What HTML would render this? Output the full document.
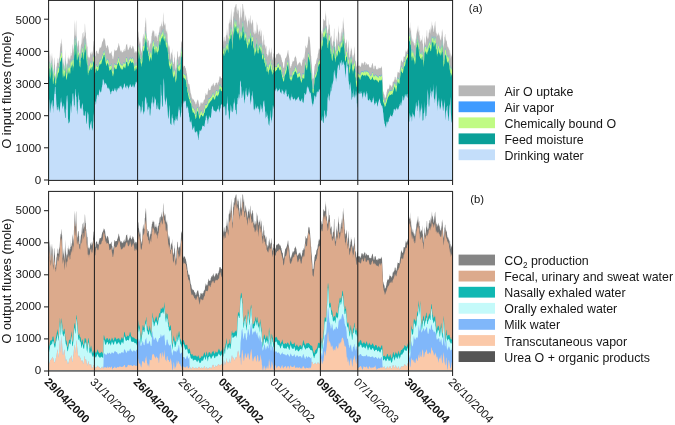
<!DOCTYPE html>
<html><head><meta charset="utf-8"><title>O fluxes</title>
<style>
html,body{margin:0;padding:0;background:#fff;}
body{width:675px;height:425px;overflow:hidden;font-family:"Liberation Sans",sans-serif;}
svg{display:block;font-family:"Liberation Sans",sans-serif;will-change:transform;}
svg text{fill:#151515;}
.ln line{stroke:#1a1a1a;stroke-width:1.0;}
</style></head><body>
<svg width="675" height="425" viewBox="0 0 675 425">
<rect width="675" height="425" fill="#ffffff"/>
<g shape-rendering="auto">
<polygon fill="#b7b7b7" points="48.6,67.0 48.8,65.6 49.1,65.8 49.3,56.8 49.6,52.2 49.8,49.2 50.1,54.5 50.3,56.7 50.6,68.7 50.8,70.6 51.1,68.6 51.3,64.1 51.6,56.6 51.8,55.5 52.0,52.3 52.3,59.2 52.5,57.0 52.8,70.2 53.0,73.8 53.3,75.2 53.5,71.3 53.8,66.0 54.0,57.0 54.3,58.5 54.5,61.3 54.8,64.4 55.0,65.3 55.2,73.6 55.5,74.5 55.7,77.7 56.0,75.7 56.2,71.9 56.5,65.8 56.7,67.2 57.0,62.7 57.2,62.8 57.5,63.0 57.7,57.5 58.0,58.9 58.2,58.8 58.4,62.7 58.7,63.7 58.9,61.7 59.2,56.5 59.4,58.9 59.7,55.4 59.9,51.8 60.2,46.6 60.4,42.9 60.7,43.6 60.9,47.5 61.1,45.7 61.4,40.2 61.6,37.9 61.9,43.8 62.1,44.2 62.4,58.4 62.6,63.6 62.9,67.8 63.1,64.8 63.4,57.4 63.6,62.2 63.9,64.4 64.1,55.9 64.3,64.9 64.6,68.2 64.8,70.2 65.1,61.3 65.3,58.1 65.6,48.7 65.8,59.6 66.1,66.0 66.3,68.8 66.6,60.9 66.8,64.8 67.1,63.2 67.3,64.1 67.5,66.0 67.8,57.5 68.0,57.6 68.3,59.9 68.5,54.2 68.8,59.9 69.0,56.8 69.3,58.7 69.5,58.5 69.8,61.5 70.0,58.9 70.3,58.2 70.5,47.9 70.7,56.3 71.0,56.5 71.2,54.7 71.5,56.2 71.7,52.4 72.0,53.2 72.2,46.6 72.5,43.4 72.7,46.5 73.0,55.0 73.2,49.9 73.5,47.2 73.7,52.7 73.9,40.6 74.2,34.6 74.4,25.1 74.7,19.6 74.9,35.4 75.2,36.1 75.4,34.2 75.7,29.1 75.9,23.3 76.2,19.8 76.4,31.2 76.7,39.4 76.9,47.6 77.1,49.8 77.4,40.9 77.6,45.8 77.9,47.1 78.1,41.0 78.4,40.2 78.6,41.0 78.9,45.5 79.1,45.2 79.4,53.3 79.6,53.1 79.9,54.0 80.1,56.9 80.3,50.6 80.6,48.2 80.8,45.9 81.1,44.2 81.3,43.2 81.6,35.7 81.8,44.9 82.1,42.5 82.3,39.8 82.6,32.6 82.8,33.8 83.0,32.4 83.3,31.7 83.5,36.4 83.8,39.2 84.0,36.9 84.3,35.3 84.5,37.4 84.8,24.6 85.0,23.2 85.3,30.0 85.5,32.5 85.8,32.7 86.0,38.2 86.2,38.6 86.5,42.7 86.7,51.6 87.0,41.7 87.2,46.9 87.5,45.9 87.7,55.8 88.0,57.7 88.2,56.7 88.5,58.1 88.7,54.0 89.0,60.6 89.2,57.3 89.4,56.5 89.7,58.6 89.9,57.2 90.2,53.8 90.4,51.3 90.7,54.0 90.9,53.0 91.2,50.9 91.4,53.8 91.7,54.3 91.9,55.4 92.2,51.9 92.4,54.7 92.6,50.4 92.9,53.3 93.1,43.2 93.4,48.0 93.6,40.4 93.9,41.8 94.1,39.7 94.4,50.0 94.6,58.5 94.9,56.9 95.1,56.6 95.4,56.0 95.6,53.7 95.8,52.1 96.1,51.3 96.3,50.1 96.6,51.2 96.8,51.3 97.1,50.9 97.3,53.1 97.6,54.0 97.8,52.8 98.1,54.1 98.3,54.2 98.6,52.8 98.8,51.5 99.0,50.3 99.3,49.3 99.5,48.4 99.8,47.3 100.0,47.4 100.3,47.7 100.5,48.0 100.8,47.1 101.0,47.5 101.3,46.6 101.5,45.8 101.8,44.0 102.0,42.9 102.2,42.3 102.5,41.4 102.7,41.0 103.0,41.2 103.2,39.6 103.5,39.8 103.7,37.5 104.0,38.6 104.2,38.5 104.5,38.2 104.7,40.5 104.9,39.1 105.2,41.3 105.4,43.5 105.7,45.2 105.9,45.9 106.2,46.0 106.4,48.0 106.7,48.2 106.9,47.2 107.2,45.6 107.4,45.3 107.7,45.1 107.9,46.0 108.1,46.5 108.4,47.5 108.6,49.0 108.9,50.2 109.1,52.1 109.4,53.7 109.6,53.7 109.9,53.3 110.1,53.4 110.4,53.5 110.6,52.8 110.9,52.7 111.1,51.5 111.3,51.0 111.6,52.4 111.8,54.7 112.1,55.7 112.3,55.4 112.6,58.3 112.8,59.1 113.1,59.4 113.3,57.8 113.6,56.6 113.8,55.8 114.1,52.2 114.3,50.9 114.5,49.5 114.8,49.4 115.0,50.6 115.3,51.1 115.5,50.7 115.8,50.3 116.0,50.3 116.3,50.6 116.5,50.1 116.8,50.4 117.0,50.3 117.3,48.2 117.5,48.3 117.7,47.3 118.0,46.7 118.2,45.7 118.5,44.2 118.7,43.0 119.0,43.5 119.2,45.4 119.5,46.0 119.7,46.9 120.0,49.1 120.2,50.4 120.5,51.5 120.7,49.2 120.9,51.9 121.2,50.2 121.4,50.3 121.7,51.7 121.9,52.4 122.2,51.9 122.4,52.0 122.7,52.8 122.9,51.7 123.2,52.1 123.4,51.0 123.7,50.2 123.9,49.8 124.1,49.1 124.4,48.7 124.6,51.6 124.9,50.9 125.1,50.9 125.4,50.1 125.6,48.5 125.9,46.2 126.1,44.5 126.4,44.8 126.6,44.4 126.9,44.2 127.1,43.5 127.3,46.0 127.6,47.6 127.8,49.8 128.1,50.2 128.3,48.9 128.6,50.2 128.8,48.7 129.1,48.3 129.3,47.6 129.6,47.4 129.8,46.2 130.0,44.7 130.3,45.0 130.5,46.8 130.8,47.1 131.0,47.7 131.3,48.6 131.5,49.2 131.8,48.3 132.0,48.0 132.3,46.8 132.5,46.4 132.8,45.5 133.0,45.8 133.2,46.3 133.5,47.0 133.7,48.5 134.0,48.6 134.2,49.7 134.5,52.2 134.7,53.2 135.0,52.0 135.2,53.1 135.5,50.9 135.7,51.4 136.0,51.1 136.2,51.3 136.4,52.0 136.7,53.3 136.9,50.8 137.2,52.7 137.4,53.2 137.7,32.7 137.9,38.1 138.2,37.3 138.4,31.1 138.7,32.5 138.9,37.2 139.2,39.9 139.4,41.5 139.6,42.4 139.9,44.3 140.1,43.3 140.4,40.4 140.6,47.4 140.9,49.7 141.1,51.6 141.4,50.0 141.6,53.6 141.9,52.1 142.1,49.7 142.4,47.9 142.6,39.0 142.8,38.4 143.1,33.4 143.3,34.3 143.6,36.8 143.8,37.9 144.1,38.3 144.3,39.0 144.6,36.6 144.8,27.4 145.1,26.8 145.3,19.5 145.6,24.0 145.8,17.6 146.0,17.8 146.3,25.5 146.5,31.9 146.8,37.6 147.0,42.9 147.3,42.1 147.5,38.1 147.8,38.8 148.0,40.7 148.3,40.5 148.5,40.8 148.8,39.9 149.0,47.5 149.2,44.8 149.5,49.2 149.7,46.7 150.0,42.5 150.2,45.3 150.5,39.9 150.7,43.9 151.0,42.9 151.2,43.6 151.5,35.7 151.7,36.3 151.9,33.2 152.2,33.3 152.4,31.4 152.7,31.3 152.9,29.6 153.2,31.6 153.4,31.6 153.7,29.4 153.9,31.7 154.2,31.0 154.4,34.3 154.7,36.4 154.9,38.0 155.1,32.6 155.4,36.6 155.6,35.9 155.9,36.6 156.1,32.5 156.4,38.2 156.6,36.9 156.9,35.7 157.1,37.9 157.4,34.8 157.6,41.0 157.9,40.9 158.1,35.5 158.3,34.6 158.6,35.6 158.8,32.5 159.1,32.4 159.3,26.1 159.6,27.7 159.8,31.2 160.1,33.3 160.3,26.6 160.6,25.3 160.8,26.8 161.1,25.5 161.3,20.9 161.5,23.5 161.8,24.5 162.0,28.7 162.3,25.5 162.5,26.7 162.8,25.3 163.0,15.5 163.3,12.0 163.5,20.2 163.8,22.0 164.0,24.3 164.3,25.5 164.5,22.0 164.7,23.9 165.0,26.3 165.2,22.8 165.5,24.4 165.7,29.3 166.0,31.4 166.2,33.1 166.5,30.7 166.7,31.6 167.0,28.5 167.2,32.8 167.5,34.6 167.7,41.0 167.9,43.2 168.2,46.0 168.4,47.3 168.7,43.1 168.9,48.8 169.2,46.4 169.4,44.9 169.7,48.9 169.9,52.1 170.2,54.6 170.4,59.5 170.7,59.6 170.9,56.9 171.1,53.6 171.4,53.7 171.6,51.7 171.9,53.1 172.1,47.9 172.4,54.9 172.6,55.5 172.9,62.3 173.1,64.1 173.4,64.0 173.6,63.0 173.8,61.8 174.1,62.1 174.3,56.6 174.6,58.6 174.8,53.3 175.1,61.6 175.3,65.9 175.6,68.5 175.8,70.6 176.1,67.2 176.3,68.9 176.6,60.5 176.8,59.2 177.0,57.2 177.3,51.5 177.5,50.9 177.8,52.0 178.0,57.1 178.3,56.4 178.5,57.5 178.8,60.8 179.0,55.7 179.3,56.3 179.5,57.4 179.8,56.2 180.0,54.6 180.2,59.3 180.5,53.3 180.7,52.2 181.0,45.9 181.2,40.0 181.5,42.6 181.7,40.7 182.0,43.2 182.2,42.8 182.5,43.9 182.7,62.5 183.0,64.3 183.2,66.3 183.4,66.7 183.7,67.7 183.9,65.5 184.2,65.8 184.4,66.0 184.7,66.1 184.9,65.8 185.2,67.2 185.4,68.4 185.7,67.8 185.9,68.8 186.2,70.7 186.4,71.3 186.6,73.2 186.9,73.4 187.1,75.3 187.4,77.7 187.6,80.2 187.9,79.8 188.1,81.9 188.4,83.7 188.6,83.8 188.9,84.4 189.1,84.5 189.4,83.7 189.6,86.0 189.8,86.8 190.1,88.8 190.3,90.5 190.6,92.9 190.8,93.3 191.1,94.2 191.3,94.7 191.6,96.7 191.8,97.6 192.1,99.2 192.3,97.9 192.6,98.6 192.8,99.9 193.0,98.9 193.3,99.7 193.5,99.6 193.8,99.5 194.0,100.1 194.3,101.5 194.5,101.3 194.8,101.8 195.0,102.7 195.3,101.9 195.5,104.4 195.7,104.6 196.0,103.6 196.2,104.4 196.5,102.9 196.7,102.0 197.0,101.2 197.2,99.3 197.5,100.1 197.7,100.9 198.0,99.4 198.2,100.2 198.5,101.9 198.7,102.7 198.9,104.0 199.2,104.4 199.4,106.5 199.7,107.1 199.9,106.6 200.2,105.5 200.4,103.7 200.7,102.4 200.9,102.3 201.2,102.8 201.4,102.0 201.7,103.5 201.9,103.5 202.1,104.3 202.4,103.2 202.6,102.3 202.9,102.3 203.1,102.7 203.4,102.4 203.6,100.8 203.9,100.3 204.1,98.9 204.4,99.7 204.6,100.3 204.9,98.5 205.1,95.9 205.3,95.7 205.6,94.0 205.8,92.7 206.1,93.4 206.3,94.0 206.6,95.0 206.8,95.0 207.1,94.9 207.3,94.7 207.6,93.6 207.8,91.6 208.1,91.0 208.3,90.0 208.5,88.0 208.8,88.6 209.0,89.5 209.3,90.5 209.5,89.8 209.8,90.5 210.0,90.1 210.3,90.0 210.5,89.9 210.8,87.2 211.0,87.5 211.3,86.5 211.5,85.1 211.7,86.0 212.0,85.7 212.2,86.3 212.5,85.1 212.7,84.2 213.0,84.3 213.2,82.4 213.5,83.3 213.7,84.6 214.0,85.4 214.2,85.3 214.5,86.7 214.7,86.6 214.9,85.0 215.2,85.0 215.4,84.4 215.7,82.7 215.9,82.9 216.2,82.6 216.4,82.8 216.7,83.3 216.9,82.3 217.2,82.6 217.4,83.3 217.6,84.4 217.9,84.9 218.1,82.1 218.4,82.6 218.6,81.9 218.9,79.9 219.1,80.1 219.4,77.2 219.6,76.6 219.9,76.2 220.1,76.8 220.4,76.5 220.6,76.3 220.8,77.9 221.1,78.3 221.3,78.0 221.6,78.1 221.8,78.3 222.1,78.8 222.3,77.8 222.6,64.2 222.8,38.2 223.1,40.4 223.3,41.9 223.6,36.0 223.8,45.2 224.0,40.1 224.3,42.1 224.5,36.9 224.8,36.6 225.0,41.2 225.3,41.2 225.5,41.1 225.8,37.6 226.0,34.7 226.3,35.5 226.5,35.4 226.8,32.0 227.0,26.5 227.2,37.7 227.5,33.5 227.7,28.7 228.0,39.0 228.2,39.9 228.5,37.3 228.7,24.6 229.0,22.7 229.2,18.1 229.5,22.9 229.7,23.8 230.0,22.1 230.2,21.9 230.4,25.5 230.7,12.7 230.9,19.8 231.2,20.3 231.4,7.9 231.7,12.4 231.9,18.8 232.2,27.3 232.4,32.5 232.7,30.8 232.9,22.2 233.2,15.7 233.4,17.0 233.6,13.7 233.9,10.9 234.1,13.1 234.4,9.6 234.6,7.4 234.9,7.2 235.1,6.8 235.4,4.0 235.6,7.4 235.9,4.0 236.1,4.0 236.4,4.0 236.6,8.8 236.8,11.8 237.1,13.6 237.3,14.6 237.6,7.5 237.8,10.0 238.1,10.6 238.3,11.0 238.6,7.4 238.8,12.9 239.1,17.7 239.3,17.5 239.5,20.6 239.8,25.6 240.0,20.0 240.3,15.9 240.5,12.5 240.8,7.8 241.0,6.1 241.3,18.1 241.5,16.2 241.8,19.9 242.0,15.8 242.3,11.0 242.5,4.0 242.7,4.0 243.0,4.0 243.2,7.0 243.5,11.9 243.7,11.3 244.0,7.8 244.2,12.2 244.5,20.0 244.7,20.6 245.0,20.8 245.2,18.1 245.5,13.7 245.7,18.3 245.9,14.9 246.2,19.0 246.4,19.8 246.7,23.3 246.9,18.8 247.2,28.2 247.4,24.1 247.7,27.9 247.9,21.2 248.2,20.0 248.4,21.9 248.7,19.8 248.9,16.9 249.1,26.0 249.4,19.1 249.6,18.1 249.9,24.0 250.1,16.4 250.4,14.7 250.6,21.2 250.9,23.2 251.1,23.9 251.4,22.6 251.6,26.1 251.9,22.7 252.1,20.2 252.3,19.2 252.6,20.7 252.8,22.7 253.1,22.6 253.3,26.7 253.6,32.5 253.8,32.1 254.1,34.2 254.3,28.9 254.6,33.5 254.8,35.1 255.1,31.2 255.3,29.9 255.5,32.8 255.8,34.5 256.0,32.3 256.3,33.7 256.5,30.8 256.8,21.3 257.0,23.1 257.3,25.1 257.5,25.2 257.8,30.8 258.0,28.2 258.3,34.8 258.5,34.4 258.7,32.5 259.0,31.1 259.2,31.7 259.5,30.5 259.7,28.7 260.0,32.8 260.2,35.8 260.5,27.1 260.7,36.0 261.0,36.4 261.2,33.3 261.5,29.7 261.7,31.0 261.9,38.7 262.2,43.6 262.4,39.4 262.7,45.3 262.9,45.8 263.2,43.9 263.4,36.9 263.7,33.8 263.9,41.0 264.2,39.1 264.4,46.0 264.6,43.9 264.9,45.2 265.1,44.6 265.4,49.0 265.6,45.8 265.9,49.3 266.1,46.5 266.4,45.7 266.6,53.8 266.9,54.0 267.1,54.8 267.4,57.6 267.6,55.6 267.8,54.2 268.1,55.2 268.3,56.1 268.6,52.8 268.8,50.6 269.1,49.4 269.3,47.1 269.6,51.5 269.8,52.0 270.1,57.0 270.3,51.1 270.6,53.9 270.8,52.9 271.0,52.1 271.3,52.4 271.5,47.0 271.8,49.8 272.0,58.1 272.3,59.8 272.5,60.5 272.8,55.6 273.0,57.4 273.3,57.6 273.5,52.8 273.8,54.0 274.0,53.1 274.2,49.9 274.5,57.2 274.7,57.7 275.0,59.1 275.2,58.6 275.5,57.5 275.7,57.8 276.0,55.9 276.2,54.3 276.5,53.9 276.7,54.2 277.0,54.9 277.2,53.8 277.4,53.9 277.7,53.9 277.9,53.5 278.2,53.7 278.4,52.8 278.7,52.4 278.9,53.4 279.2,53.3 279.4,54.8 279.7,54.8 279.9,53.9 280.2,55.8 280.4,55.1 280.6,53.8 280.9,56.7 281.1,57.5 281.4,57.6 281.6,59.6 281.9,60.1 282.1,62.1 282.4,61.6 282.6,62.3 282.9,62.9 283.1,66.0 283.4,66.9 283.6,67.8 283.8,68.2 284.1,67.5 284.3,65.2 284.6,62.1 284.8,61.1 285.1,59.1 285.3,58.0 285.6,58.6 285.8,57.7 286.1,57.4 286.3,57.0 286.5,56.4 286.8,55.5 287.0,54.8 287.3,53.3 287.5,52.8 287.8,50.7 288.0,49.5 288.3,50.8 288.5,53.8 288.8,55.3 289.0,56.5 289.3,58.4 289.5,60.0 289.7,63.9 290.0,66.4 290.2,65.8 290.5,67.3 290.7,68.1 291.0,67.9 291.2,65.6 291.5,66.2 291.7,63.7 292.0,64.3 292.2,62.7 292.5,61.8 292.7,59.9 292.9,62.0 293.2,61.8 293.4,60.9 293.7,60.7 293.9,60.9 294.2,60.5 294.4,58.1 294.7,57.5 294.9,57.2 295.2,56.9 295.4,56.8 295.7,55.2 295.9,56.6 296.1,57.8 296.4,58.4 296.6,60.5 296.9,62.1 297.1,63.7 297.4,66.0 297.6,64.0 297.9,65.5 298.1,64.2 298.4,64.2 298.6,62.9 298.9,62.9 299.1,61.6 299.3,63.1 299.6,61.6 299.8,63.2 300.1,61.4 300.3,63.0 300.6,63.2 300.8,64.8 301.1,64.5 301.3,66.2 301.6,66.0 301.8,65.1 302.1,62.6 302.3,62.4 302.5,60.2 302.8,59.4 303.0,59.3 303.3,60.0 303.5,57.8 303.8,57.3 304.0,59.2 304.3,58.8 304.5,57.1 304.8,53.9 305.0,52.7 305.3,49.9 305.5,46.4 305.7,45.2 306.0,46.5 306.2,47.9 306.5,47.4 306.7,47.4 307.0,48.8 307.2,47.3 307.5,44.8 307.7,44.8 308.0,41.7 308.2,39.6 308.4,36.8 308.7,36.9 308.9,35.8 309.2,37.0 309.4,36.7 309.7,39.2 309.9,40.2 310.2,44.3 310.4,47.3 310.7,51.8 310.9,55.2 311.2,56.3 311.4,60.9 311.6,63.1 311.9,65.6 312.1,69.6 312.4,73.6 312.6,78.8 312.9,78.5 313.1,78.7 313.4,78.2 313.6,77.7 313.9,73.7 314.1,71.4 314.4,68.9 314.6,66.1 314.8,66.2 315.1,64.0 315.3,64.5 315.6,64.1 315.8,63.7 316.1,62.9 316.3,60.9 316.6,59.4 316.8,59.3 317.1,58.1 317.3,58.3 317.6,56.9 317.8,54.5 318.0,53.8 318.3,52.8 318.5,50.7 318.8,49.6 319.0,47.6 319.3,49.0 319.5,48.8 319.8,49.9 320.0,49.6 320.3,48.5 320.5,38.0 320.8,38.8 321.0,34.9 321.2,33.7 321.5,30.4 321.7,30.5 322.0,33.7 322.2,33.0 322.5,34.2 322.7,29.9 323.0,25.7 323.2,22.0 323.5,18.4 323.7,19.2 324.0,18.9 324.2,20.9 324.4,20.4 324.7,20.1 324.9,21.1 325.2,19.9 325.4,10.1 325.7,17.0 325.9,12.9 326.2,17.1 326.4,25.3 326.7,26.4 326.9,24.6 327.2,34.4 327.4,28.9 327.6,33.2 327.9,32.9 328.1,30.0 328.4,28.7 328.6,26.1 328.9,17.5 329.1,24.4 329.4,24.7 329.6,24.4 329.9,28.2 330.1,32.5 330.3,36.4 330.6,38.1 330.8,38.4 331.1,35.2 331.3,36.1 331.6,36.9 331.8,42.9 332.1,45.1 332.3,46.6 332.6,45.5 332.8,42.4 333.1,40.6 333.3,41.8 333.5,41.3 333.8,37.6 334.0,29.0 334.3,28.2 334.5,38.6 334.8,44.1 335.0,50.3 335.3,50.8 335.5,48.3 335.8,45.7 336.0,45.7 336.3,39.3 336.5,38.6 336.7,34.9 337.0,40.9 337.2,39.8 337.5,45.7 337.7,40.8 338.0,32.4 338.2,31.0 338.5,25.1 338.7,31.3 339.0,33.3 339.2,33.6 339.5,41.8 339.7,41.2 339.9,42.7 340.2,41.4 340.4,40.5 340.7,36.3 340.9,33.3 341.2,32.0 341.4,27.4 341.7,33.0 341.9,36.4 342.2,36.5 342.4,31.6 342.7,26.9 342.9,20.0 343.1,24.0 343.4,16.4 343.6,23.6 343.9,28.0 344.1,29.0 344.4,33.2 344.6,38.3 344.9,39.6 345.1,46.7 345.4,42.3 345.6,42.8 345.9,43.6 346.1,42.3 346.3,39.0 346.6,40.3 346.8,42.5 347.1,47.2 347.3,48.2 347.6,52.9 347.8,53.6 348.1,48.2 348.3,46.8 348.6,39.8 348.8,42.6 349.1,49.8 349.3,57.4 349.5,56.8 349.8,58.6 350.0,53.0 350.3,55.4 350.5,51.6 350.8,50.6 351.0,45.5 351.3,51.0 351.5,48.4 351.8,48.6 352.0,51.2 352.2,54.7 352.5,57.7 352.7,54.3 353.0,61.7 353.2,55.1 353.5,55.2 353.7,58.0 354.0,52.8 354.2,45.9 354.5,48.5 354.7,54.3 355.0,52.4 355.2,60.2 355.4,61.3 355.7,60.5 355.9,62.7 356.2,67.8 356.4,66.0 356.7,66.6 356.9,62.5 357.2,62.0 357.4,59.3 357.7,62.1 357.9,65.2 358.2,65.5 358.4,65.9 358.6,66.2 358.9,65.4 359.1,65.2 359.4,65.6 359.6,65.9 359.9,66.2 360.1,67.1 360.4,66.6 360.6,67.3 360.9,65.3 361.1,65.7 361.4,63.4 361.6,63.2 361.8,62.4 362.1,62.7 362.3,62.8 362.6,62.9 362.8,63.8 363.1,65.2 363.3,64.8 363.6,63.2 363.8,63.3 364.1,62.9 364.3,62.2 364.6,61.9 364.8,61.0 365.0,62.3 365.3,61.8 365.5,64.6 365.8,65.2 366.0,64.9 366.3,63.5 366.5,62.9 366.8,63.5 367.0,64.3 367.3,64.1 367.5,65.0 367.8,65.0 368.0,63.8 368.2,64.3 368.5,64.3 368.7,64.6 369.0,65.7 369.2,66.6 369.5,67.3 369.7,67.7 370.0,67.1 370.2,67.8 370.5,67.5 370.7,66.9 371.0,67.9 371.2,67.4 371.4,67.0 371.7,64.6 371.9,65.4 372.2,63.1 372.4,63.1 372.7,63.5 372.9,64.2 373.2,66.1 373.4,67.2 373.7,69.0 373.9,69.2 374.1,69.4 374.4,68.1 374.6,65.6 374.9,66.1 375.1,65.4 375.4,65.7 375.6,66.0 375.9,67.2 376.1,69.0 376.4,69.5 376.6,68.7 376.9,69.5 377.1,70.2 377.3,69.2 377.6,69.0 377.8,68.3 378.1,69.3 378.3,68.9 378.6,68.0 378.8,67.3 379.1,67.8 379.3,67.7 379.6,68.3 379.8,68.7 380.1,66.9 380.3,68.5 380.5,67.9 380.8,68.3 381.0,68.3 381.3,66.4 381.5,66.0 381.8,67.7 382.0,67.6 382.3,74.5 382.5,80.0 382.8,84.9 383.0,90.3 383.3,91.9 383.5,91.8 383.7,93.8 384.0,93.7 384.2,94.6 384.5,95.2 384.7,97.1 385.0,98.6 385.2,97.4 385.5,97.7 385.7,97.2 386.0,95.8 386.2,95.1 386.5,93.7 386.7,91.7 386.9,91.7 387.2,89.4 387.4,90.1 387.7,88.3 387.9,89.0 388.2,89.4 388.4,88.3 388.7,88.9 388.9,88.8 389.2,87.2 389.4,85.2 389.7,85.4 389.9,83.5 390.1,84.8 390.4,85.3 390.6,85.5 390.9,85.8 391.1,85.3 391.4,86.7 391.6,86.4 391.9,87.5 392.1,85.7 392.4,85.2 392.6,83.1 392.9,81.3 393.1,81.9 393.3,82.0 393.6,81.4 393.8,80.5 394.1,80.7 394.3,80.1 394.6,79.0 394.8,76.8 395.1,77.1 395.3,76.6 395.6,77.5 395.8,79.4 396.1,79.9 396.3,80.5 396.5,79.7 396.8,77.9 397.0,77.2 397.3,74.5 397.5,73.1 397.8,71.6 398.0,72.2 398.3,72.5 398.5,72.4 398.8,72.3 399.0,72.3 399.2,73.2 399.5,72.5 399.7,70.6 400.0,68.4 400.2,66.7 400.5,65.6 400.7,63.3 401.0,60.7 401.2,59.0 401.5,60.7 401.7,61.1 402.0,60.7 402.2,61.6 402.4,62.3 402.7,62.5 402.9,62.0 403.2,60.9 403.4,59.2 403.7,56.3 403.9,56.4 404.2,57.2 404.4,56.6 404.7,56.7 404.9,56.5 405.2,55.3 405.4,52.8 405.6,51.8 405.9,49.9 406.1,50.4 406.4,51.3 406.6,52.0 406.9,52.2 407.1,50.8 407.4,50.2 407.6,49.3 407.9,48.2 408.1,47.9 408.4,45.6 408.6,30.4 408.8,27.7 409.1,26.4 409.3,27.9 409.6,28.1 409.8,29.0 410.1,21.4 410.3,29.9 410.6,31.6 410.8,27.0 411.1,30.0 411.3,38.5 411.6,33.4 411.8,39.3 412.0,41.7 412.3,41.3 412.5,37.7 412.8,40.0 413.0,42.5 413.3,42.0 413.5,38.4 413.8,44.5 414.0,43.0 414.3,43.0 414.5,44.9 414.8,45.4 415.0,46.0 415.2,45.3 415.5,42.8 415.7,37.7 416.0,40.7 416.2,37.6 416.5,33.2 416.7,33.2 417.0,30.1 417.2,24.9 417.5,32.1 417.7,28.6 418.0,32.6 418.2,31.0 418.4,24.6 418.7,34.2 418.9,31.9 419.2,29.8 419.4,35.3 419.7,35.4 419.9,39.6 420.2,42.0 420.4,39.7 420.7,42.5 420.9,37.6 421.1,39.5 421.4,39.7 421.6,41.0 421.9,39.9 422.1,34.3 422.4,40.0 422.6,42.5 422.9,43.9 423.1,44.3 423.4,52.3 423.6,51.4 423.9,46.8 424.1,42.8 424.3,38.8 424.6,36.3 424.8,43.1 425.1,42.0 425.3,45.3 425.6,43.7 425.8,41.3 426.1,37.3 426.3,36.4 426.6,35.7 426.8,30.3 427.1,30.6 427.3,38.5 427.5,37.1 427.8,39.6 428.0,39.4 428.3,37.8 428.5,37.1 428.8,32.8 429.0,32.2 429.3,33.1 429.5,29.3 429.8,29.3 430.0,30.9 430.3,26.1 430.5,29.7 430.7,34.2 431.0,30.8 431.2,29.5 431.5,27.9 431.7,24.3 432.0,20.4 432.2,26.5 432.5,25.3 432.7,24.7 433.0,29.5 433.2,27.3 433.5,30.7 433.7,32.1 433.9,32.1 434.2,28.8 434.4,26.7 434.7,25.1 434.9,22.4 435.2,20.8 435.4,25.2 435.7,28.6 435.9,32.8 436.2,33.2 436.4,34.2 436.7,30.6 436.9,37.0 437.1,35.9 437.4,33.9 437.6,36.1 437.9,33.4 438.1,33.7 438.4,35.7 438.6,31.9 438.9,32.9 439.1,34.4 439.4,36.5 439.6,34.3 439.9,38.8 440.1,37.2 440.3,41.0 440.6,39.1 440.8,39.5 441.1,40.2 441.3,34.7 441.6,38.4 441.8,32.2 442.1,28.7 442.3,30.7 442.6,32.6 442.8,36.2 443.0,39.7 443.3,43.8 443.5,48.0 443.8,45.8 444.0,44.4 444.3,42.4 444.5,37.0 444.8,36.8 445.0,34.1 445.3,34.2 445.5,42.0 445.8,36.4 446.0,40.4 446.2,41.4 446.5,40.5 446.7,39.2 447.0,43.4 447.2,44.6 447.5,47.4 447.7,46.9 448.0,46.0 448.2,49.1 448.5,46.4 448.7,48.3 449.0,49.8 449.2,50.2 449.4,50.1 449.7,55.7 449.9,47.8 450.2,53.3 450.4,53.4 450.7,56.0 450.9,58.9 451.2,55.4 451.4,57.2 451.7,54.1 451.9,55.8 452.2,53.7 452.4,53.3 452.4,180.0 48.6,180.0"/>
<polygon fill="#3f9bff" points="48.6,70.5 48.8,69.2 49.1,71.7 49.3,67.3 49.6,62.6 49.8,61.3 50.1,63.1 50.3,64.9 50.6,73.0 50.8,72.0 51.1,69.6 51.3,64.8 51.6,59.6 51.8,63.4 52.0,62.5 52.3,68.0 52.5,64.0 52.8,74.3 53.0,77.6 53.3,77.3 53.5,75.5 53.8,72.7 54.0,68.5 54.3,69.1 54.5,71.2 54.8,72.4 55.0,74.3 55.2,77.7 55.5,78.7 55.7,81.3 56.0,79.6 56.2,77.2 56.5,68.4 56.7,74.5 57.0,72.9 57.2,68.1 57.5,72.4 57.7,70.0 58.0,65.8 58.2,66.6 58.4,66.9 58.7,68.0 58.9,67.9 59.2,65.6 59.4,62.0 59.7,62.4 59.9,58.0 60.2,56.0 60.4,55.8 60.7,53.8 60.9,55.9 61.1,52.0 61.4,51.4 61.6,51.8 61.9,52.9 62.1,56.8 62.4,62.6 62.6,66.7 62.9,71.0 63.1,71.4 63.4,63.5 63.6,69.9 63.9,67.9 64.1,64.4 64.3,70.4 64.6,68.9 64.8,71.0 65.1,69.3 65.3,64.7 65.6,60.8 65.8,66.4 66.1,72.4 66.3,74.1 66.6,72.4 66.8,72.0 67.1,70.8 67.3,68.8 67.5,68.2 67.8,62.8 68.0,66.6 68.3,68.1 68.5,63.4 68.8,68.6 69.0,67.3 69.3,64.4 69.5,66.3 69.8,68.1 70.0,65.4 70.3,67.1 70.5,60.4 70.7,62.2 71.0,59.1 71.2,60.4 71.5,62.6 71.7,58.7 72.0,61.8 72.2,57.1 72.5,60.0 72.7,58.8 73.0,65.2 73.2,59.2 73.5,59.3 73.7,60.3 73.9,53.4 74.2,47.5 74.4,40.5 74.7,36.7 74.9,49.7 75.2,49.1 75.4,44.8 75.7,39.5 75.9,39.6 76.2,35.7 76.4,44.3 76.7,48.5 76.9,54.1 77.1,53.0 77.4,47.2 77.6,53.2 77.9,55.7 78.1,52.8 78.4,51.8 78.6,49.9 78.9,50.9 79.1,55.4 79.4,57.2 79.6,60.2 79.9,60.4 80.1,60.6 80.3,60.8 80.6,56.4 80.8,53.7 81.1,53.0 81.3,52.6 81.6,48.1 81.8,53.7 82.1,52.8 82.3,46.8 82.6,47.9 82.8,46.5 83.0,48.0 83.3,49.2 83.5,52.8 83.8,53.6 84.0,50.9 84.3,45.4 84.5,47.2 84.8,40.2 85.0,38.1 85.3,44.3 85.5,43.0 85.8,45.1 86.0,47.3 86.2,50.2 86.5,53.0 86.7,57.3 87.0,53.5 87.2,59.3 87.5,59.5 87.7,64.9 88.0,70.5 88.2,70.6 88.5,64.4 88.7,68.6 89.0,68.2 89.2,63.9 89.4,65.3 89.7,65.2 89.9,64.1 90.2,60.9 90.4,61.8 90.7,63.6 90.9,62.3 91.2,60.5 91.4,64.7 91.7,64.0 91.9,61.8 92.2,61.9 92.4,63.9 92.6,61.3 92.9,60.5 93.1,54.8 93.4,57.4 93.6,55.1 93.9,56.3 94.1,54.8 94.4,56.6 94.6,71.1 94.9,69.6 95.1,68.7 95.4,68.0 95.6,65.2 95.8,64.8 96.1,64.6 96.3,63.8 96.6,65.3 96.8,66.0 97.1,66.2 97.3,66.3 97.6,66.6 97.8,65.9 98.1,65.9 98.3,65.6 98.6,65.0 98.8,62.4 99.0,62.4 99.3,61.5 99.5,61.5 99.8,59.6 100.0,60.3 100.3,60.3 100.5,60.1 100.8,58.9 101.0,59.6 101.3,58.9 101.5,58.1 101.8,56.8 102.0,55.8 102.2,56.1 102.5,54.7 102.7,54.0 103.0,54.7 103.2,53.0 103.5,52.5 103.7,51.2 104.0,51.1 104.2,50.6 104.5,50.8 104.7,53.0 104.9,52.4 105.2,54.1 105.4,56.1 105.7,57.0 105.9,58.3 106.2,58.9 106.4,60.5 106.7,60.9 106.9,60.7 107.2,59.2 107.4,58.8 107.7,59.2 107.9,58.5 108.1,59.9 108.4,59.8 108.6,60.9 108.9,63.0 109.1,63.5 109.4,66.2 109.6,66.0 109.9,65.6 110.1,65.3 110.4,64.9 110.6,65.3 110.9,65.2 111.1,64.1 111.3,62.5 111.6,65.2 111.8,66.4 112.1,67.5 112.3,67.7 112.6,70.3 112.8,71.1 113.1,71.6 113.3,70.0 113.6,69.9 113.8,68.4 114.1,65.5 114.3,64.0 114.5,63.2 114.8,62.7 115.0,63.4 115.3,64.2 115.5,64.3 115.8,64.6 116.0,64.9 116.3,64.5 116.5,64.7 116.8,63.9 117.0,62.6 117.3,61.4 117.5,60.2 117.7,59.4 118.0,59.4 118.2,57.6 118.5,57.5 118.7,57.4 119.0,58.6 119.2,59.4 119.5,60.7 119.7,61.1 120.0,62.0 120.2,62.9 120.5,64.3 120.7,63.2 120.9,64.7 121.2,64.0 121.4,64.1 121.7,65.2 121.9,65.1 122.2,65.7 122.4,64.4 122.7,64.8 122.9,64.0 123.2,64.0 123.4,61.7 123.7,62.5 123.9,62.7 124.1,62.2 124.4,62.4 124.6,63.7 124.9,63.3 125.1,63.8 125.4,63.1 125.6,61.7 125.9,60.0 126.1,57.6 126.4,57.7 126.6,57.5 126.9,57.2 127.1,58.0 127.3,59.1 127.6,60.2 127.8,62.5 128.1,62.3 128.3,61.2 128.6,61.8 128.8,60.1 129.1,59.5 129.3,58.1 129.6,59.3 129.8,58.7 130.0,56.8 130.3,57.3 130.5,58.0 130.8,57.8 131.0,58.7 131.3,58.4 131.5,59.0 131.8,58.5 132.0,58.3 132.3,57.2 132.5,56.9 132.8,57.9 133.0,58.3 133.2,58.6 133.5,59.1 133.7,60.7 134.0,63.3 134.2,63.9 134.5,65.3 134.7,66.5 135.0,66.0 135.2,65.3 135.5,64.4 135.7,63.6 136.0,62.3 136.2,62.8 136.4,63.9 136.7,65.8 136.9,64.8 137.2,66.4 137.4,67.2 137.7,49.5 137.9,50.5 138.2,53.1 138.4,45.1 138.7,47.0 138.9,44.7 139.2,48.2 139.4,49.3 139.6,50.8 139.9,53.9 140.1,54.8 140.4,54.6 140.6,59.4 140.9,56.8 141.1,61.9 141.4,60.3 141.6,56.9 141.9,58.6 142.1,56.9 142.4,55.3 142.6,50.2 142.8,49.1 143.1,44.8 143.3,45.7 143.6,44.0 143.8,45.9 144.1,44.9 144.3,42.4 144.6,40.4 144.8,36.6 145.1,34.8 145.3,30.8 145.6,37.0 145.8,30.8 146.0,32.4 146.3,35.7 146.5,36.8 146.8,43.2 147.0,46.9 147.3,46.6 147.5,45.2 147.8,47.1 148.0,48.8 148.3,50.0 148.5,51.5 148.8,50.5 149.0,54.5 149.2,55.9 149.5,54.6 149.7,53.7 150.0,52.8 150.2,51.7 150.5,50.5 150.7,51.9 151.0,54.0 151.2,55.2 151.5,52.8 151.7,52.0 151.9,48.9 152.2,48.5 152.4,40.7 152.7,43.5 152.9,41.5 153.2,39.8 153.4,39.9 153.7,41.3 153.9,42.8 154.2,43.2 154.4,43.7 154.7,47.3 154.9,47.8 155.1,40.2 155.4,45.5 155.6,47.2 155.9,45.1 156.1,41.5 156.4,46.3 156.6,46.6 156.9,44.8 157.1,47.1 157.4,46.0 157.6,49.9 157.9,47.2 158.1,47.9 158.3,45.7 158.6,44.7 158.8,43.8 159.1,39.7 159.3,33.0 159.6,33.6 159.8,36.1 160.1,37.9 160.3,35.9 160.6,33.6 160.8,36.6 161.1,34.5 161.3,33.0 161.5,32.5 161.8,33.5 162.0,34.5 162.3,30.2 162.5,32.5 162.8,30.7 163.0,29.9 163.3,28.4 163.5,33.0 163.8,33.9 164.0,35.3 164.3,36.7 164.5,33.5 164.7,33.3 165.0,36.4 165.2,32.4 165.5,35.1 165.7,38.8 166.0,40.3 166.2,43.1 166.5,41.4 166.7,41.8 167.0,38.1 167.2,41.4 167.5,43.0 167.7,45.6 167.9,47.3 168.2,51.5 168.4,53.6 168.7,53.8 168.9,58.1 169.2,61.2 169.4,59.3 169.7,60.4 169.9,62.3 170.2,63.1 170.4,63.6 170.7,63.1 170.9,60.5 171.1,58.2 171.4,61.1 171.6,60.9 171.9,63.2 172.1,61.1 172.4,64.2 172.6,67.7 172.9,70.1 173.1,70.5 173.4,72.4 173.6,70.6 173.8,69.3 174.1,70.2 174.3,69.2 174.6,71.3 174.8,67.9 175.1,70.2 175.3,74.3 175.6,76.6 175.8,77.4 176.1,75.7 176.3,73.9 176.6,71.7 176.8,69.3 177.0,67.2 177.3,63.2 177.5,59.7 177.8,59.5 178.0,66.2 178.3,63.8 178.5,66.3 178.8,65.9 179.0,64.7 179.3,64.3 179.5,65.5 179.8,63.6 180.0,63.0 180.2,64.0 180.5,63.0 180.7,59.2 181.0,56.0 181.2,51.4 181.5,46.6 181.7,50.6 182.0,51.4 182.2,50.3 182.5,49.4 182.7,68.4 183.0,69.7 183.2,71.6 183.4,73.4 183.7,74.1 183.9,73.4 184.2,74.4 184.4,74.3 184.7,74.1 184.9,73.7 185.2,74.4 185.4,75.4 185.7,75.1 185.9,77.0 186.2,79.1 186.4,80.2 186.6,82.5 186.9,82.8 187.1,84.1 187.4,87.1 187.6,88.2 187.9,88.4 188.1,90.2 188.4,91.4 188.6,92.2 188.9,93.2 189.1,93.8 189.4,94.0 189.6,95.6 189.8,96.8 190.1,98.1 190.3,98.8 190.6,99.9 190.8,100.2 191.1,101.0 191.3,101.6 191.6,103.5 191.8,104.5 192.1,106.1 192.3,106.1 192.6,106.9 192.8,108.1 193.0,107.6 193.3,108.3 193.5,107.6 193.8,107.7 194.0,108.4 194.3,109.6 194.5,109.0 194.8,110.8 195.0,111.9 195.3,112.6 195.5,114.6 195.7,114.7 196.0,114.0 196.2,113.3 196.5,111.2 196.7,108.6 197.0,108.4 197.2,106.7 197.5,107.1 197.7,107.2 198.0,107.2 198.2,108.4 198.5,110.0 198.7,111.0 198.9,112.6 199.2,113.9 199.4,114.9 199.7,114.3 199.9,113.4 200.2,112.9 200.4,112.1 200.7,111.2 200.9,110.1 201.2,110.3 201.4,110.6 201.7,111.1 201.9,111.3 202.1,112.6 202.4,112.8 202.6,113.1 202.9,113.0 203.1,112.6 203.4,112.4 203.6,110.9 203.9,110.0 204.1,108.0 204.4,108.0 204.6,107.9 204.9,106.4 205.1,105.1 205.3,104.8 205.6,104.0 205.8,104.5 206.1,104.6 206.3,104.0 206.6,104.9 206.8,104.3 207.1,103.5 207.3,103.2 207.6,102.4 207.8,101.1 208.1,100.9 208.3,100.4 208.5,98.3 208.8,98.6 209.0,99.3 209.3,98.3 209.5,98.3 209.8,98.2 210.0,97.3 210.3,97.8 210.5,97.4 210.8,97.0 211.0,96.8 211.3,96.5 211.5,95.7 211.7,95.8 212.0,95.2 212.2,95.3 212.5,93.8 212.7,92.7 213.0,93.1 213.2,92.5 213.5,92.8 213.7,94.0 214.0,95.0 214.2,95.0 214.5,96.4 214.7,95.6 214.9,94.2 215.2,94.1 215.4,92.9 215.7,91.2 215.9,91.2 216.2,90.0 216.4,89.9 216.7,90.1 216.9,90.4 217.2,90.4 217.4,91.3 217.6,92.3 217.9,92.7 218.1,90.5 218.4,91.6 218.6,90.5 218.9,89.2 219.1,88.7 219.4,85.6 219.6,85.0 219.9,84.4 220.1,83.9 220.4,84.9 220.6,85.0 220.8,86.6 221.1,87.0 221.3,87.0 221.6,86.2 221.8,86.4 222.1,86.2 222.3,84.9 222.6,71.4 222.8,44.9 223.1,47.7 223.3,48.3 223.6,47.1 223.8,51.0 224.0,50.4 224.3,51.6 224.5,47.8 224.8,46.3 225.0,48.0 225.3,50.7 225.5,48.0 225.8,46.0 226.0,42.8 226.3,45.5 226.5,45.7 226.8,43.5 227.0,37.7 227.2,43.8 227.5,43.7 227.7,42.7 228.0,46.6 228.2,48.0 228.5,44.3 228.7,39.1 229.0,37.8 229.2,34.6 229.5,33.3 229.7,36.6 230.0,33.7 230.2,32.4 230.4,33.5 230.7,24.6 230.9,28.3 231.2,28.7 231.4,26.8 231.7,30.2 231.9,35.5 232.2,39.3 232.4,45.2 232.7,42.1 232.9,34.9 233.2,30.6 233.4,26.4 233.6,28.6 233.9,24.0 234.1,25.5 234.4,21.2 234.6,20.8 234.9,17.8 235.1,20.7 235.4,19.5 235.6,25.0 235.9,21.9 236.1,21.0 236.4,20.0 236.6,26.1 236.8,25.2 237.1,28.3 237.3,28.8 237.6,25.3 237.8,26.4 238.1,27.1 238.3,27.6 238.6,23.6 238.8,27.8 239.1,32.1 239.3,33.4 239.5,35.8 239.8,31.2 240.0,36.5 240.3,33.7 240.5,30.7 240.8,30.5 241.0,27.1 241.3,33.2 241.5,32.0 241.8,31.1 242.0,30.1 242.3,29.4 242.5,21.8 242.7,22.7 243.0,20.8 243.2,23.4 243.5,30.4 243.7,26.9 244.0,26.6 244.2,28.7 244.5,34.3 244.7,33.5 245.0,35.5 245.2,34.1 245.5,31.5 245.7,33.3 245.9,31.4 246.2,33.1 246.4,35.8 246.7,38.4 246.9,37.7 247.2,42.4 247.4,41.2 247.7,42.8 247.9,38.3 248.2,38.3 248.4,40.5 248.7,36.2 248.9,35.4 249.1,37.8 249.4,39.2 249.6,35.9 249.9,38.7 250.1,28.2 250.4,32.0 250.6,33.6 250.9,32.1 251.1,36.3 251.4,32.4 251.6,39.9 251.9,39.5 252.1,35.0 252.3,36.2 252.6,35.9 252.8,36.4 253.1,38.7 253.3,41.8 253.6,44.8 253.8,41.6 254.1,42.7 254.3,45.4 254.6,48.9 254.8,51.1 255.1,46.6 255.3,46.0 255.5,49.6 255.8,47.3 256.0,44.8 256.3,46.6 256.5,39.6 256.8,38.0 257.0,38.9 257.3,44.1 257.5,46.4 257.8,47.9 258.0,48.0 258.3,48.2 258.5,49.0 258.7,45.5 259.0,45.6 259.2,44.8 259.5,43.3 259.7,44.2 260.0,46.5 260.2,46.8 260.5,43.8 260.7,43.5 261.0,49.4 261.2,46.7 261.5,43.1 261.7,45.9 261.9,48.6 262.2,54.9 262.4,53.2 262.7,55.0 262.9,54.3 263.2,54.0 263.4,48.5 263.7,49.2 263.9,55.1 264.2,54.4 264.4,56.4 264.6,57.5 264.9,57.4 265.1,55.9 265.4,62.1 265.6,60.2 265.9,62.5 266.1,60.6 266.4,59.4 266.6,66.5 266.9,67.5 267.1,66.3 267.4,63.2 267.6,66.4 267.8,66.5 268.1,66.0 268.3,66.7 268.6,68.5 268.8,64.6 269.1,64.2 269.3,63.5 269.6,64.3 269.8,62.0 270.1,64.9 270.3,58.6 270.6,60.1 270.8,60.1 271.0,65.0 271.3,64.0 271.5,63.0 271.8,63.2 272.0,68.1 272.3,69.8 272.5,70.6 272.8,66.5 273.0,68.3 273.3,67.9 273.5,63.9 273.8,64.9 274.0,64.2 274.2,60.0 274.5,67.4 274.7,67.3 275.0,67.1 275.2,66.4 275.5,66.4 275.7,66.8 276.0,66.5 276.2,65.9 276.5,66.3 276.7,66.6 277.0,66.4 277.2,64.7 277.4,63.8 277.7,63.7 277.9,62.8 278.2,63.2 278.4,62.6 278.7,62.5 278.9,63.9 279.2,64.6 279.4,66.1 279.7,66.5 279.9,65.5 280.2,65.9 280.4,65.8 280.6,64.6 280.9,66.3 281.1,66.7 281.4,67.1 281.6,69.3 281.9,70.4 282.1,72.3 282.4,73.0 282.6,74.2 282.9,75.1 283.1,76.7 283.4,77.6 283.6,77.7 283.8,77.2 284.1,76.3 284.3,74.1 284.6,72.0 284.8,71.3 285.1,70.2 285.3,68.6 285.6,69.9 285.8,68.6 286.1,68.1 286.3,66.8 286.5,66.4 286.8,65.1 287.0,63.2 287.3,62.1 287.5,61.6 287.8,60.4 288.0,59.9 288.3,61.7 288.5,64.0 288.8,65.8 289.0,68.1 289.3,70.4 289.5,71.3 289.7,73.9 290.0,75.7 290.2,75.2 290.5,75.8 290.7,76.5 291.0,77.5 291.2,76.6 291.5,76.1 291.7,74.7 292.0,75.2 292.2,73.7 292.5,72.2 292.7,70.5 292.9,71.1 293.2,71.0 293.4,70.6 293.7,70.8 293.9,70.9 294.2,70.9 294.4,68.9 294.7,68.2 294.9,68.1 295.2,67.6 295.4,67.1 295.7,66.1 295.9,66.1 296.1,67.8 296.4,68.1 296.6,69.0 296.9,70.4 297.1,71.4 297.4,74.1 297.6,73.3 297.9,73.4 298.1,72.7 298.4,73.5 298.6,72.5 298.9,72.1 299.1,71.2 299.3,71.9 299.6,72.1 299.8,72.6 300.1,72.7 300.3,74.3 300.6,75.1 300.8,76.8 301.1,78.0 301.3,79.1 301.6,78.0 301.8,77.8 302.1,76.0 302.3,75.2 302.5,73.5 302.8,73.2 303.0,73.0 303.3,74.6 303.5,73.6 303.8,73.5 304.0,74.0 304.3,74.0 304.5,70.8 304.8,67.5 305.0,65.0 305.3,62.9 305.5,60.5 305.7,60.6 306.0,61.9 306.2,63.3 306.5,64.4 306.7,65.4 307.0,65.7 307.2,63.5 307.5,61.5 307.7,59.5 308.0,56.5 308.2,54.6 308.4,52.4 308.7,52.9 308.9,53.2 309.2,54.6 309.4,55.0 309.7,56.4 309.9,57.1 310.2,60.7 310.4,63.1 310.7,66.1 310.9,68.3 311.2,69.0 311.4,72.3 311.6,74.6 311.9,76.7 312.1,79.6 312.4,83.9 312.6,88.0 312.9,88.5 313.1,88.6 313.4,88.8 313.6,87.1 313.9,84.4 314.1,80.9 314.4,78.9 314.6,76.4 314.8,75.6 315.1,74.0 315.3,74.1 315.6,73.8 315.8,73.0 316.1,72.9 316.3,71.9 316.6,70.7 316.8,69.9 317.1,68.0 317.3,67.7 317.6,66.3 317.8,63.3 318.0,62.8 318.3,61.8 318.5,61.2 318.8,60.6 319.0,58.8 319.3,60.1 319.5,59.6 319.8,60.2 320.0,59.8 320.3,58.2 320.5,49.0 320.8,47.0 321.0,44.4 321.2,43.4 321.5,40.7 321.7,36.3 322.0,41.0 322.2,39.0 322.5,40.3 322.7,37.9 323.0,34.2 323.2,31.3 323.5,31.3 323.7,30.3 324.0,27.2 324.2,30.2 324.4,28.4 324.7,30.0 324.9,32.0 325.2,31.5 325.4,26.1 325.7,29.1 325.9,26.1 326.2,28.1 326.4,34.8 326.7,33.9 326.9,30.5 327.2,40.2 327.4,37.8 327.6,42.0 327.9,42.0 328.1,42.8 328.4,36.4 328.6,37.0 328.9,32.4 329.1,34.1 329.4,34.3 329.6,34.3 329.9,36.1 330.1,40.3 330.3,44.1 330.6,46.4 330.8,48.4 331.1,47.9 331.3,44.9 331.6,50.9 331.8,52.3 332.1,54.5 332.3,53.8 332.6,53.5 332.8,50.3 333.1,47.5 333.3,46.8 333.5,50.5 333.8,47.9 334.0,42.1 334.3,41.8 334.5,50.2 334.8,52.7 335.0,52.9 335.3,55.9 335.5,57.0 335.8,53.0 336.0,52.0 336.3,50.9 336.5,50.8 336.7,46.2 337.0,49.9 337.2,48.7 337.5,51.1 337.7,49.8 338.0,44.9 338.2,46.0 338.5,43.4 338.7,44.9 339.0,44.5 339.2,46.4 339.5,45.9 339.7,45.5 339.9,48.8 340.2,45.9 340.4,44.4 340.7,41.3 340.9,43.8 341.2,42.1 341.4,40.1 341.7,43.3 341.9,41.0 342.2,41.9 342.4,39.5 342.7,36.4 342.9,32.1 343.1,35.0 343.4,31.1 343.6,36.3 343.9,38.8 344.1,41.3 344.4,43.2 344.6,45.3 344.9,49.4 345.1,55.6 345.4,53.6 345.6,55.2 345.9,55.7 346.1,51.0 346.3,51.3 346.6,50.3 346.8,49.6 347.1,53.1 347.3,54.2 347.6,58.1 347.8,59.6 348.1,59.3 348.3,59.1 348.6,57.0 348.8,58.3 349.1,63.2 349.3,68.3 349.5,66.3 349.8,66.2 350.0,61.7 350.3,63.7 350.5,57.8 350.8,57.8 351.0,56.7 351.3,60.0 351.5,55.0 351.8,59.0 352.0,60.8 352.2,62.8 352.5,65.3 352.7,63.6 353.0,67.4 353.2,64.8 353.5,61.4 353.7,65.3 354.0,62.5 354.2,59.2 354.5,60.2 354.7,63.0 355.0,62.9 355.2,70.2 355.4,71.7 355.7,71.6 355.9,76.5 356.2,80.7 356.4,80.7 356.7,79.3 356.9,76.3 357.2,72.8 357.4,70.7 357.7,72.4 357.9,72.1 358.2,72.1 358.4,73.0 358.6,73.5 358.9,73.6 359.1,73.1 359.4,73.9 359.6,74.3 359.9,75.0 360.1,75.2 360.4,74.5 360.6,73.7 360.9,71.9 361.1,72.7 361.4,71.4 361.6,71.8 361.8,71.2 362.1,71.1 362.3,71.5 362.6,71.3 362.8,71.2 363.1,72.0 363.3,72.5 363.6,71.2 363.8,71.7 364.1,71.5 364.3,71.2 364.6,70.6 364.8,70.0 365.0,70.3 365.3,70.4 365.5,71.6 365.8,72.2 366.0,71.4 366.3,71.2 366.5,69.4 366.8,71.0 367.0,70.8 367.3,70.8 367.5,71.4 367.8,71.5 368.0,71.2 368.2,71.8 368.5,72.3 368.7,72.1 369.0,72.3 369.2,73.2 369.5,74.2 369.7,74.8 370.0,73.5 370.2,75.6 370.5,75.7 370.7,75.5 371.0,75.8 371.2,74.9 371.4,74.8 371.7,73.8 371.9,74.0 372.2,72.2 372.4,72.0 372.7,72.3 372.9,72.8 373.2,74.8 373.4,74.6 373.7,75.7 373.9,75.9 374.1,76.6 374.4,75.5 374.6,75.0 374.9,75.6 375.1,74.8 375.4,74.6 375.6,74.6 375.9,74.9 376.1,75.6 376.4,75.7 376.6,74.9 376.9,75.8 377.1,76.2 377.3,75.6 377.6,76.2 377.8,76.5 378.1,77.6 378.3,77.1 378.6,76.8 378.8,76.3 379.1,75.8 379.3,75.6 379.6,74.9 379.8,75.5 380.1,75.0 380.3,75.5 380.5,75.7 380.8,76.7 381.0,76.3 381.3,75.0 381.5,74.4 381.8,75.0 382.0,76.1 382.3,81.6 382.5,86.6 382.8,91.3 383.0,97.1 383.3,97.8 383.5,98.6 383.7,99.7 384.0,99.1 384.2,100.5 384.5,101.5 384.7,102.4 385.0,103.1 385.2,101.5 385.5,101.9 385.7,100.9 386.0,99.0 386.2,98.7 386.5,98.6 386.7,97.2 386.9,97.2 387.2,95.1 387.4,95.2 387.7,93.8 387.9,93.4 388.2,92.7 388.4,91.9 388.7,91.8 388.9,91.5 389.2,91.1 389.4,89.8 389.7,90.3 389.9,89.3 390.1,90.3 390.4,90.4 390.6,90.8 390.9,90.5 391.1,89.8 391.4,90.2 391.6,90.2 391.9,89.7 392.1,90.2 392.4,90.0 392.6,88.8 392.9,88.3 393.1,88.0 393.3,86.9 393.6,86.2 393.8,85.3 394.1,84.0 394.3,83.5 394.6,82.7 394.8,82.0 395.1,82.5 395.3,83.1 395.6,84.1 395.8,85.2 396.1,85.7 396.3,85.1 396.5,84.6 396.8,82.7 397.0,81.4 397.3,78.9 397.5,78.0 397.8,76.7 398.0,77.8 398.3,78.0 398.5,78.4 398.8,78.7 399.0,79.0 399.2,79.9 399.5,78.8 399.7,76.4 400.0,74.3 400.2,72.7 400.5,71.2 400.7,68.8 401.0,66.8 401.2,65.2 401.5,67.0 401.7,66.5 402.0,67.1 402.2,68.2 402.4,68.2 402.7,68.8 402.9,68.1 403.2,67.2 403.4,66.0 403.7,63.4 403.9,62.8 404.2,61.3 404.4,61.8 404.7,61.6 404.9,61.2 405.2,59.8 405.4,59.1 405.6,57.6 405.9,56.1 406.1,55.8 406.4,55.7 406.6,55.0 406.9,54.7 407.1,53.4 407.4,53.4 407.6,53.3 407.9,53.1 408.1,53.4 408.4,53.2 408.6,43.6 408.8,35.2 409.1,35.3 409.3,35.3 409.6,37.1 409.8,33.0 410.1,32.4 410.3,39.1 410.6,40.3 410.8,39.8 411.1,43.9 411.3,50.9 411.6,49.3 411.8,52.6 412.0,53.0 412.3,52.1 412.5,50.2 412.8,48.4 413.0,52.0 413.3,51.9 413.5,49.5 413.8,55.2 414.0,54.0 414.3,56.4 414.5,54.2 414.8,58.8 415.0,56.7 415.2,57.3 415.5,54.7 415.7,51.0 416.0,49.0 416.2,43.1 416.5,42.2 416.7,42.6 417.0,38.0 417.2,34.9 417.5,40.0 417.7,39.1 418.0,41.2 418.2,41.9 418.4,38.8 418.7,46.5 418.9,42.0 419.2,42.4 419.4,49.7 419.7,50.5 419.9,51.4 420.2,54.0 420.4,52.4 420.7,53.2 420.9,52.6 421.1,51.1 421.4,52.9 421.6,54.5 421.9,52.8 422.1,50.1 422.4,51.6 422.6,54.2 422.9,55.1 423.1,55.6 423.4,59.5 423.6,62.1 423.9,57.4 424.1,55.7 424.3,51.5 424.6,46.9 424.8,46.7 425.1,46.4 425.3,46.3 425.6,46.0 425.8,45.2 426.1,46.7 426.3,49.2 426.6,48.6 426.8,47.8 427.1,45.8 427.3,49.6 427.5,45.2 427.8,47.4 428.0,43.9 428.3,46.1 428.5,44.4 428.8,42.5 429.0,41.2 429.3,39.6 429.5,43.2 429.8,42.0 430.0,42.0 430.3,42.8 430.5,44.1 430.7,44.8 431.0,44.5 431.2,43.5 431.5,41.7 431.7,38.3 432.0,34.7 432.2,36.9 432.5,37.5 432.7,36.9 433.0,38.4 433.2,35.8 433.5,37.8 433.7,40.0 433.9,40.8 434.2,40.5 434.4,38.9 434.7,38.2 434.9,36.0 435.2,37.0 435.4,38.5 435.7,36.6 435.9,43.7 436.2,43.4 436.4,42.3 436.7,44.2 436.9,48.2 437.1,50.7 437.4,46.5 437.6,48.0 437.9,47.5 438.1,45.0 438.4,46.5 438.6,41.3 438.9,44.4 439.1,46.7 439.4,48.2 439.6,46.9 439.9,49.4 440.1,50.6 440.3,49.6 440.6,45.5 440.8,48.3 441.1,48.1 441.3,45.1 441.6,48.0 441.8,44.5 442.1,38.4 442.3,44.0 442.6,46.9 442.8,46.7 443.0,51.5 443.3,56.3 443.5,60.5 443.8,60.2 444.0,57.6 444.3,56.6 444.5,52.9 444.8,49.7 445.0,47.7 445.3,48.0 445.5,50.1 445.8,49.1 446.0,50.0 446.2,51.2 446.5,53.5 446.7,53.8 447.0,56.6 447.2,55.6 447.5,57.2 447.7,54.5 448.0,56.0 448.2,57.6 448.5,54.8 448.7,56.5 449.0,59.3 449.2,61.9 449.4,60.2 449.7,66.1 449.9,63.6 450.2,65.7 450.4,67.2 450.7,67.0 450.9,70.8 451.2,66.8 451.4,69.9 451.7,66.2 451.9,68.7 452.2,68.9 452.4,69.2 452.4,180.0 48.6,180.0"/>
<polygon fill="#c0fb84" points="48.6,71.0 48.8,69.7 49.1,72.2 49.3,67.8 49.6,63.1 49.8,61.8 50.1,63.6 50.3,65.4 50.6,73.5 50.8,72.5 51.1,70.1 51.3,65.3 51.6,60.1 51.8,63.9 52.0,63.0 52.3,68.5 52.5,64.5 52.8,74.8 53.0,78.1 53.3,77.8 53.5,76.0 53.8,73.2 54.0,69.0 54.3,69.6 54.5,71.7 54.8,72.9 55.0,74.8 55.2,78.2 55.5,79.2 55.7,81.8 56.0,80.1 56.2,77.7 56.5,68.9 56.7,75.0 57.0,73.4 57.2,68.6 57.5,72.9 57.7,70.5 58.0,66.3 58.2,67.1 58.4,67.4 58.7,68.5 58.9,68.4 59.2,66.1 59.4,62.5 59.7,62.9 59.9,58.5 60.2,56.5 60.4,56.3 60.7,54.3 60.9,56.4 61.1,52.5 61.4,51.9 61.6,52.3 61.9,53.4 62.1,57.3 62.4,63.1 62.6,67.2 62.9,71.5 63.1,71.9 63.4,64.0 63.6,70.4 63.9,68.4 64.1,64.9 64.3,70.9 64.6,69.4 64.8,71.5 65.1,69.8 65.3,65.2 65.6,61.3 65.8,66.9 66.1,72.9 66.3,74.6 66.6,72.9 66.8,72.5 67.1,71.3 67.3,69.3 67.5,68.7 67.8,63.3 68.0,67.1 68.3,68.6 68.5,63.9 68.8,69.1 69.0,67.8 69.3,64.9 69.5,66.8 69.8,68.6 70.0,65.9 70.3,67.6 70.5,60.9 70.7,62.7 71.0,59.6 71.2,60.9 71.5,63.1 71.7,59.2 72.0,62.3 72.2,57.6 72.5,60.5 72.7,59.3 73.0,65.7 73.2,59.7 73.5,59.8 73.7,60.8 73.9,53.9 74.2,48.0 74.4,41.0 74.7,37.2 74.9,50.2 75.2,49.6 75.4,45.3 75.7,40.0 75.9,40.1 76.2,36.2 76.4,44.8 76.7,49.0 76.9,54.6 77.1,53.5 77.4,47.7 77.6,53.7 77.9,56.2 78.1,53.3 78.4,52.3 78.6,50.4 78.9,51.4 79.1,55.9 79.4,57.7 79.6,60.7 79.9,60.9 80.1,61.1 80.3,61.3 80.6,56.9 80.8,54.2 81.1,53.5 81.3,53.1 81.6,48.6 81.8,54.2 82.1,53.3 82.3,47.3 82.6,48.4 82.8,47.0 83.0,48.5 83.3,49.7 83.5,53.3 83.8,54.1 84.0,51.4 84.3,45.9 84.5,47.7 84.8,40.7 85.0,38.6 85.3,44.8 85.5,43.5 85.8,45.6 86.0,47.8 86.2,50.7 86.5,53.5 86.7,57.8 87.0,54.0 87.2,59.8 87.5,60.0 87.7,65.4 88.0,71.0 88.2,71.1 88.5,64.9 88.7,69.1 89.0,68.7 89.2,64.4 89.4,65.8 89.7,65.7 89.9,64.6 90.2,61.4 90.4,62.3 90.7,64.1 90.9,62.8 91.2,61.0 91.4,65.2 91.7,64.5 91.9,62.3 92.2,62.4 92.4,64.4 92.6,61.8 92.9,61.0 93.1,55.3 93.4,57.9 93.6,55.6 93.9,56.8 94.1,55.3 94.4,57.1 94.6,71.6 94.9,70.1 95.1,69.2 95.4,68.5 95.6,65.7 95.8,65.3 96.1,65.1 96.3,64.3 96.6,65.8 96.8,66.5 97.1,66.7 97.3,66.8 97.6,67.1 97.8,66.4 98.1,66.4 98.3,66.1 98.6,65.5 98.8,62.9 99.0,62.9 99.3,62.0 99.5,62.0 99.8,60.1 100.0,60.8 100.3,60.8 100.5,60.6 100.8,59.4 101.0,60.1 101.3,59.4 101.5,58.6 101.8,57.3 102.0,56.3 102.2,56.6 102.5,55.2 102.7,54.5 103.0,55.2 103.2,53.5 103.5,53.0 103.7,51.7 104.0,51.6 104.2,51.1 104.5,51.3 104.7,53.5 104.9,52.9 105.2,54.6 105.4,56.6 105.7,57.5 105.9,58.8 106.2,59.4 106.4,61.0 106.7,61.4 106.9,61.2 107.2,59.7 107.4,59.3 107.7,59.7 107.9,59.0 108.1,60.4 108.4,60.3 108.6,61.4 108.9,63.5 109.1,64.0 109.4,66.7 109.6,66.5 109.9,66.1 110.1,65.8 110.4,65.4 110.6,65.8 110.9,65.7 111.1,64.6 111.3,63.0 111.6,65.7 111.8,66.9 112.1,68.0 112.3,68.2 112.6,70.8 112.8,71.6 113.1,72.1 113.3,70.5 113.6,70.4 113.8,68.9 114.1,66.0 114.3,64.5 114.5,63.7 114.8,63.2 115.0,63.9 115.3,64.7 115.5,64.8 115.8,65.1 116.0,65.4 116.3,65.0 116.5,65.2 116.8,64.4 117.0,63.1 117.3,61.9 117.5,60.7 117.7,59.9 118.0,59.9 118.2,58.1 118.5,58.0 118.7,57.9 119.0,59.1 119.2,59.9 119.5,61.2 119.7,61.6 120.0,62.5 120.2,63.4 120.5,64.8 120.7,63.7 120.9,65.2 121.2,64.5 121.4,64.6 121.7,65.7 121.9,65.6 122.2,66.2 122.4,64.9 122.7,65.3 122.9,64.5 123.2,64.5 123.4,62.2 123.7,63.0 123.9,63.2 124.1,62.7 124.4,62.9 124.6,64.2 124.9,63.8 125.1,64.3 125.4,63.6 125.6,62.2 125.9,60.5 126.1,58.1 126.4,58.2 126.6,58.0 126.9,57.7 127.1,58.5 127.3,59.6 127.6,60.7 127.8,63.0 128.1,62.8 128.3,61.7 128.6,62.3 128.8,60.6 129.1,60.0 129.3,58.6 129.6,59.8 129.8,59.2 130.0,57.3 130.3,57.8 130.5,58.5 130.8,58.3 131.0,59.2 131.3,58.9 131.5,59.5 131.8,59.0 132.0,58.8 132.3,57.7 132.5,57.4 132.8,58.4 133.0,58.8 133.2,59.1 133.5,59.6 133.7,61.2 134.0,63.8 134.2,64.4 134.5,65.8 134.7,67.0 135.0,66.5 135.2,65.8 135.5,64.9 135.7,64.1 136.0,62.8 136.2,63.3 136.4,64.4 136.7,66.3 136.9,65.3 137.2,66.9 137.4,67.7 137.7,50.0 137.9,51.0 138.2,53.6 138.4,45.6 138.7,47.5 138.9,45.2 139.2,48.7 139.4,49.8 139.6,51.3 139.9,54.4 140.1,55.3 140.4,55.1 140.6,59.9 140.9,57.3 141.1,62.4 141.4,60.8 141.6,57.4 141.9,59.1 142.1,57.4 142.4,55.8 142.6,50.7 142.8,49.6 143.1,45.3 143.3,46.2 143.6,44.5 143.8,46.4 144.1,45.4 144.3,42.9 144.6,40.9 144.8,37.1 145.1,35.3 145.3,31.3 145.6,37.5 145.8,31.3 146.0,32.9 146.3,36.2 146.5,37.3 146.8,43.7 147.0,47.4 147.3,47.1 147.5,45.7 147.8,47.6 148.0,49.3 148.3,50.5 148.5,52.0 148.8,51.0 149.0,55.0 149.2,56.4 149.5,55.1 149.7,54.2 150.0,53.3 150.2,52.2 150.5,51.0 150.7,52.4 151.0,54.5 151.2,55.7 151.5,53.3 151.7,52.5 151.9,49.4 152.2,49.0 152.4,41.2 152.7,44.0 152.9,42.0 153.2,40.3 153.4,40.4 153.7,41.8 153.9,43.3 154.2,43.7 154.4,44.2 154.7,47.8 154.9,48.3 155.1,40.7 155.4,46.0 155.6,47.7 155.9,45.6 156.1,42.0 156.4,46.8 156.6,47.1 156.9,45.3 157.1,47.6 157.4,46.5 157.6,50.4 157.9,47.7 158.1,48.4 158.3,46.2 158.6,45.2 158.8,44.3 159.1,40.2 159.3,33.5 159.6,34.1 159.8,36.6 160.1,38.4 160.3,36.4 160.6,34.1 160.8,37.1 161.1,35.0 161.3,33.5 161.5,33.0 161.8,34.0 162.0,35.0 162.3,30.7 162.5,33.0 162.8,31.2 163.0,30.4 163.3,28.9 163.5,33.5 163.8,34.4 164.0,35.8 164.3,37.2 164.5,34.0 164.7,33.8 165.0,36.9 165.2,32.9 165.5,35.6 165.7,39.3 166.0,40.8 166.2,43.6 166.5,41.9 166.7,42.3 167.0,38.6 167.2,41.9 167.5,43.5 167.7,46.1 167.9,47.8 168.2,52.0 168.4,54.1 168.7,54.3 168.9,58.6 169.2,61.7 169.4,59.8 169.7,60.9 169.9,62.8 170.2,63.6 170.4,64.1 170.7,63.6 170.9,61.0 171.1,58.7 171.4,61.6 171.6,61.4 171.9,63.7 172.1,61.6 172.4,64.7 172.6,68.2 172.9,70.6 173.1,71.0 173.4,72.9 173.6,71.1 173.8,69.8 174.1,70.7 174.3,69.7 174.6,71.8 174.8,68.4 175.1,70.7 175.3,74.8 175.6,77.1 175.8,77.9 176.1,76.2 176.3,74.4 176.6,72.2 176.8,69.8 177.0,67.7 177.3,63.7 177.5,60.2 177.8,60.0 178.0,66.7 178.3,64.3 178.5,66.8 178.8,66.4 179.0,65.2 179.3,64.8 179.5,66.0 179.8,64.1 180.0,63.5 180.2,64.5 180.5,63.5 180.7,59.7 181.0,56.5 181.2,51.9 181.5,47.1 181.7,51.1 182.0,51.9 182.2,50.8 182.5,49.9 182.7,68.9 183.0,70.2 183.2,72.1 183.4,73.9 183.7,74.6 183.9,73.9 184.2,74.9 184.4,74.8 184.7,74.6 184.9,74.2 185.2,74.9 185.4,75.9 185.7,75.6 185.9,77.5 186.2,79.6 186.4,80.7 186.6,83.0 186.9,83.3 187.1,84.6 187.4,87.6 187.6,88.7 187.9,88.9 188.1,90.7 188.4,91.9 188.6,92.7 188.9,93.7 189.1,94.3 189.4,94.5 189.6,96.1 189.8,97.3 190.1,98.6 190.3,99.3 190.6,100.4 190.8,100.7 191.1,101.5 191.3,102.1 191.6,104.0 191.8,105.0 192.1,106.6 192.3,106.6 192.6,107.4 192.8,108.6 193.0,108.1 193.3,108.8 193.5,108.1 193.8,108.2 194.0,108.9 194.3,110.1 194.5,109.5 194.8,111.3 195.0,112.4 195.3,113.1 195.5,115.1 195.7,115.2 196.0,114.5 196.2,113.8 196.5,111.7 196.7,109.1 197.0,108.9 197.2,107.2 197.5,107.6 197.7,107.7 198.0,107.7 198.2,108.9 198.5,110.5 198.7,111.5 198.9,113.1 199.2,114.4 199.4,115.4 199.7,114.8 199.9,113.9 200.2,113.4 200.4,112.6 200.7,111.7 200.9,110.6 201.2,110.8 201.4,111.1 201.7,111.6 201.9,111.8 202.1,113.1 202.4,113.3 202.6,113.6 202.9,113.5 203.1,113.1 203.4,112.9 203.6,111.4 203.9,110.5 204.1,108.5 204.4,108.5 204.6,108.4 204.9,106.9 205.1,105.6 205.3,105.3 205.6,104.5 205.8,105.0 206.1,105.1 206.3,104.5 206.6,105.4 206.8,104.8 207.1,104.0 207.3,103.7 207.6,102.9 207.8,101.6 208.1,101.4 208.3,100.9 208.5,98.8 208.8,99.1 209.0,99.8 209.3,98.8 209.5,98.8 209.8,98.7 210.0,97.8 210.3,98.3 210.5,97.9 210.8,97.5 211.0,97.3 211.3,97.0 211.5,96.2 211.7,96.3 212.0,95.7 212.2,95.8 212.5,94.3 212.7,93.2 213.0,93.6 213.2,93.0 213.5,93.3 213.7,94.5 214.0,95.5 214.2,95.5 214.5,96.9 214.7,96.1 214.9,94.7 215.2,94.6 215.4,93.4 215.7,91.7 215.9,91.7 216.2,90.5 216.4,90.4 216.7,90.6 216.9,90.9 217.2,90.9 217.4,91.8 217.6,92.8 217.9,93.2 218.1,91.0 218.4,92.1 218.6,91.0 218.9,89.7 219.1,89.2 219.4,86.1 219.6,85.5 219.9,84.9 220.1,84.4 220.4,85.4 220.6,85.5 220.8,87.1 221.1,87.5 221.3,87.5 221.6,86.7 221.8,86.9 222.1,86.7 222.3,85.4 222.6,71.9 222.8,45.4 223.1,48.2 223.3,48.8 223.6,47.6 223.8,51.5 224.0,50.9 224.3,52.1 224.5,48.3 224.8,46.8 225.0,48.5 225.3,51.2 225.5,48.5 225.8,46.5 226.0,43.3 226.3,46.0 226.5,46.2 226.8,44.0 227.0,38.2 227.2,44.3 227.5,44.2 227.7,43.2 228.0,47.1 228.2,48.5 228.5,44.8 228.7,39.6 229.0,38.3 229.2,35.1 229.5,33.8 229.7,37.1 230.0,34.2 230.2,32.9 230.4,34.0 230.7,25.1 230.9,28.8 231.2,29.2 231.4,27.3 231.7,30.7 231.9,36.0 232.2,39.8 232.4,45.7 232.7,42.6 232.9,35.4 233.2,31.1 233.4,26.9 233.6,29.1 233.9,24.5 234.1,26.0 234.4,21.7 234.6,21.3 234.9,18.3 235.1,21.2 235.4,20.0 235.6,25.5 235.9,22.4 236.1,21.5 236.4,20.5 236.6,26.6 236.8,25.7 237.1,28.8 237.3,29.3 237.6,25.8 237.8,26.9 238.1,27.6 238.3,28.1 238.6,24.1 238.8,28.3 239.1,32.6 239.3,33.9 239.5,36.3 239.8,31.7 240.0,37.0 240.3,34.2 240.5,31.2 240.8,31.0 241.0,27.6 241.3,33.7 241.5,32.5 241.8,31.6 242.0,30.6 242.3,29.9 242.5,22.3 242.7,23.2 243.0,21.3 243.2,23.9 243.5,30.9 243.7,27.4 244.0,27.1 244.2,29.2 244.5,34.8 244.7,34.0 245.0,36.0 245.2,34.6 245.5,32.0 245.7,33.8 245.9,31.9 246.2,33.6 246.4,36.3 246.7,38.9 246.9,38.2 247.2,42.9 247.4,41.7 247.7,43.3 247.9,38.8 248.2,38.8 248.4,41.0 248.7,36.7 248.9,35.9 249.1,38.3 249.4,39.7 249.6,36.4 249.9,39.2 250.1,28.7 250.4,32.5 250.6,34.1 250.9,32.6 251.1,36.8 251.4,32.9 251.6,40.4 251.9,40.0 252.1,35.5 252.3,36.7 252.6,36.4 252.8,36.9 253.1,39.2 253.3,42.3 253.6,45.3 253.8,42.1 254.1,43.2 254.3,45.9 254.6,49.4 254.8,51.6 255.1,47.1 255.3,46.5 255.5,50.1 255.8,47.8 256.0,45.3 256.3,47.1 256.5,40.1 256.8,38.5 257.0,39.4 257.3,44.6 257.5,46.9 257.8,48.4 258.0,48.5 258.3,48.7 258.5,49.5 258.7,46.0 259.0,46.1 259.2,45.3 259.5,43.8 259.7,44.7 260.0,47.0 260.2,47.3 260.5,44.3 260.7,44.0 261.0,49.9 261.2,47.2 261.5,43.6 261.7,46.4 261.9,49.1 262.2,55.4 262.4,53.7 262.7,55.5 262.9,54.8 263.2,54.5 263.4,49.0 263.7,49.7 263.9,55.6 264.2,54.9 264.4,56.9 264.6,58.0 264.9,57.9 265.1,56.4 265.4,62.6 265.6,60.7 265.9,63.0 266.1,61.1 266.4,59.9 266.6,67.0 266.9,68.0 267.1,66.8 267.4,63.7 267.6,66.9 267.8,67.0 268.1,66.5 268.3,67.2 268.6,69.0 268.8,65.1 269.1,64.7 269.3,64.0 269.6,64.8 269.8,62.5 270.1,65.4 270.3,59.1 270.6,60.6 270.8,60.6 271.0,65.5 271.3,64.5 271.5,63.5 271.8,63.7 272.0,68.6 272.3,70.3 272.5,71.1 272.8,67.0 273.0,68.8 273.3,68.4 273.5,64.4 273.8,65.4 274.0,64.7 274.2,60.5 274.5,67.9 274.7,67.8 275.0,67.6 275.2,66.9 275.5,66.9 275.7,67.3 276.0,67.0 276.2,66.4 276.5,66.8 276.7,67.1 277.0,66.9 277.2,65.2 277.4,64.3 277.7,64.2 277.9,63.3 278.2,63.7 278.4,63.1 278.7,63.0 278.9,64.4 279.2,65.1 279.4,66.6 279.7,67.0 279.9,66.0 280.2,66.4 280.4,66.3 280.6,65.1 280.9,66.8 281.1,67.2 281.4,67.6 281.6,69.8 281.9,70.9 282.1,72.8 282.4,73.5 282.6,74.7 282.9,75.6 283.1,77.2 283.4,78.1 283.6,78.2 283.8,77.7 284.1,76.8 284.3,74.6 284.6,72.5 284.8,71.8 285.1,70.7 285.3,69.1 285.6,70.4 285.8,69.1 286.1,68.6 286.3,67.3 286.5,66.9 286.8,65.6 287.0,63.7 287.3,62.6 287.5,62.1 287.8,60.9 288.0,60.4 288.3,62.2 288.5,64.5 288.8,66.3 289.0,68.6 289.3,70.9 289.5,71.8 289.7,74.4 290.0,76.2 290.2,75.7 290.5,76.3 290.7,77.0 291.0,78.0 291.2,77.1 291.5,76.6 291.7,75.2 292.0,75.7 292.2,74.2 292.5,72.7 292.7,71.0 292.9,71.6 293.2,71.5 293.4,71.1 293.7,71.3 293.9,71.4 294.2,71.4 294.4,69.4 294.7,68.7 294.9,68.6 295.2,68.1 295.4,67.6 295.7,66.6 295.9,66.6 296.1,68.3 296.4,68.6 296.6,69.5 296.9,70.9 297.1,71.9 297.4,74.6 297.6,73.8 297.9,73.9 298.1,73.2 298.4,74.0 298.6,73.0 298.9,72.6 299.1,71.7 299.3,72.4 299.6,72.6 299.8,73.1 300.1,73.2 300.3,74.8 300.6,75.6 300.8,77.3 301.1,78.5 301.3,79.6 301.6,78.5 301.8,78.3 302.1,76.5 302.3,75.7 302.5,74.0 302.8,73.7 303.0,73.5 303.3,75.1 303.5,74.1 303.8,74.0 304.0,74.5 304.3,74.5 304.5,71.3 304.8,68.0 305.0,65.5 305.3,63.4 305.5,61.0 305.7,61.1 306.0,62.4 306.2,63.8 306.5,64.9 306.7,65.9 307.0,66.2 307.2,64.0 307.5,62.0 307.7,60.0 308.0,57.0 308.2,55.1 308.4,52.9 308.7,53.4 308.9,53.7 309.2,55.1 309.4,55.5 309.7,56.9 309.9,57.6 310.2,61.2 310.4,63.6 310.7,66.6 310.9,68.8 311.2,69.5 311.4,72.8 311.6,75.1 311.9,77.2 312.1,80.1 312.4,84.4 312.6,88.5 312.9,89.0 313.1,89.1 313.4,89.3 313.6,87.6 313.9,84.9 314.1,81.4 314.4,79.4 314.6,76.9 314.8,76.1 315.1,74.5 315.3,74.6 315.6,74.3 315.8,73.5 316.1,73.4 316.3,72.4 316.6,71.2 316.8,70.4 317.1,68.5 317.3,68.2 317.6,66.8 317.8,63.8 318.0,63.3 318.3,62.3 318.5,61.7 318.8,61.1 319.0,59.3 319.3,60.6 319.5,60.1 319.8,60.7 320.0,60.3 320.3,58.7 320.5,49.5 320.8,47.5 321.0,44.9 321.2,43.9 321.5,41.2 321.7,36.8 322.0,41.5 322.2,39.5 322.5,40.8 322.7,38.4 323.0,34.7 323.2,31.8 323.5,31.8 323.7,30.8 324.0,27.7 324.2,30.7 324.4,28.9 324.7,30.5 324.9,32.5 325.2,32.0 325.4,26.6 325.7,29.6 325.9,26.6 326.2,28.6 326.4,35.3 326.7,34.4 326.9,31.0 327.2,40.7 327.4,38.3 327.6,42.5 327.9,42.5 328.1,43.3 328.4,36.9 328.6,37.5 328.9,32.9 329.1,34.6 329.4,34.8 329.6,34.8 329.9,36.6 330.1,40.8 330.3,44.6 330.6,46.9 330.8,48.9 331.1,48.4 331.3,45.4 331.6,51.4 331.8,52.8 332.1,55.0 332.3,54.3 332.6,54.0 332.8,50.8 333.1,48.0 333.3,47.3 333.5,51.0 333.8,48.4 334.0,42.6 334.3,42.3 334.5,50.7 334.8,53.2 335.0,53.4 335.3,56.4 335.5,57.5 335.8,53.5 336.0,52.5 336.3,51.4 336.5,51.3 336.7,46.7 337.0,50.4 337.2,49.2 337.5,51.6 337.7,50.3 338.0,45.4 338.2,46.5 338.5,43.9 338.7,45.4 339.0,45.0 339.2,46.9 339.5,46.4 339.7,46.0 339.9,49.3 340.2,46.4 340.4,44.9 340.7,41.8 340.9,44.3 341.2,42.6 341.4,40.6 341.7,43.8 341.9,41.5 342.2,42.4 342.4,40.0 342.7,36.9 342.9,32.6 343.1,35.5 343.4,31.6 343.6,36.8 343.9,39.3 344.1,41.8 344.4,43.7 344.6,45.8 344.9,49.9 345.1,56.1 345.4,54.1 345.6,55.7 345.9,56.2 346.1,51.5 346.3,51.8 346.6,50.8 346.8,50.1 347.1,53.6 347.3,54.7 347.6,58.6 347.8,60.1 348.1,59.8 348.3,59.6 348.6,57.5 348.8,58.8 349.1,63.7 349.3,68.8 349.5,66.8 349.8,66.7 350.0,62.2 350.3,64.2 350.5,58.3 350.8,58.3 351.0,57.2 351.3,60.5 351.5,55.5 351.8,59.5 352.0,61.3 352.2,63.3 352.5,65.8 352.7,64.1 353.0,67.9 353.2,65.3 353.5,61.9 353.7,65.8 354.0,63.0 354.2,59.7 354.5,60.7 354.7,63.5 355.0,63.4 355.2,70.7 355.4,72.2 355.7,72.1 355.9,77.0 356.2,81.2 356.4,81.2 356.7,79.8 356.9,76.8 357.2,73.3 357.4,71.2 357.7,72.9 357.9,72.6 358.2,72.6 358.4,73.5 358.6,74.0 358.9,74.1 359.1,73.6 359.4,74.4 359.6,74.8 359.9,75.5 360.1,75.7 360.4,75.0 360.6,74.2 360.9,72.4 361.1,73.2 361.4,71.9 361.6,72.3 361.8,71.7 362.1,71.6 362.3,72.0 362.6,71.8 362.8,71.7 363.1,72.5 363.3,73.0 363.6,71.7 363.8,72.2 364.1,72.0 364.3,71.7 364.6,71.1 364.8,70.5 365.0,70.8 365.3,70.9 365.5,72.1 365.8,72.7 366.0,71.9 366.3,71.7 366.5,69.9 366.8,71.5 367.0,71.3 367.3,71.3 367.5,71.9 367.8,72.0 368.0,71.7 368.2,72.3 368.5,72.8 368.7,72.6 369.0,72.8 369.2,73.7 369.5,74.7 369.7,75.3 370.0,74.0 370.2,76.1 370.5,76.2 370.7,76.0 371.0,76.3 371.2,75.4 371.4,75.3 371.7,74.3 371.9,74.5 372.2,72.7 372.4,72.5 372.7,72.8 372.9,73.3 373.2,75.3 373.4,75.1 373.7,76.2 373.9,76.4 374.1,77.1 374.4,76.0 374.6,75.5 374.9,76.1 375.1,75.3 375.4,75.1 375.6,75.1 375.9,75.4 376.1,76.1 376.4,76.2 376.6,75.4 376.9,76.3 377.1,76.7 377.3,76.1 377.6,76.7 377.8,77.0 378.1,78.1 378.3,77.6 378.6,77.3 378.8,76.8 379.1,76.3 379.3,76.1 379.6,75.4 379.8,76.0 380.1,75.5 380.3,76.0 380.5,76.2 380.8,77.2 381.0,76.8 381.3,75.5 381.5,74.9 381.8,75.5 382.0,76.6 382.3,82.1 382.5,87.1 382.8,91.8 383.0,97.6 383.3,98.3 383.5,99.1 383.7,100.2 384.0,99.6 384.2,101.0 384.5,102.0 384.7,102.9 385.0,103.6 385.2,102.0 385.5,102.4 385.7,101.4 386.0,99.5 386.2,99.2 386.5,99.1 386.7,97.7 386.9,97.7 387.2,95.6 387.4,95.7 387.7,94.3 387.9,93.9 388.2,93.2 388.4,92.4 388.7,92.3 388.9,92.0 389.2,91.6 389.4,90.3 389.7,90.8 389.9,89.8 390.1,90.8 390.4,90.9 390.6,91.3 390.9,91.0 391.1,90.3 391.4,90.7 391.6,90.7 391.9,90.2 392.1,90.7 392.4,90.5 392.6,89.3 392.9,88.8 393.1,88.5 393.3,87.4 393.6,86.7 393.8,85.8 394.1,84.5 394.3,84.0 394.6,83.2 394.8,82.5 395.1,83.0 395.3,83.6 395.6,84.6 395.8,85.7 396.1,86.2 396.3,85.6 396.5,85.1 396.8,83.2 397.0,81.9 397.3,79.4 397.5,78.5 397.8,77.2 398.0,78.3 398.3,78.5 398.5,78.9 398.8,79.2 399.0,79.5 399.2,80.4 399.5,79.3 399.7,76.9 400.0,74.8 400.2,73.2 400.5,71.7 400.7,69.3 401.0,67.3 401.2,65.7 401.5,67.5 401.7,67.0 402.0,67.6 402.2,68.7 402.4,68.7 402.7,69.3 402.9,68.6 403.2,67.7 403.4,66.5 403.7,63.9 403.9,63.3 404.2,61.8 404.4,62.3 404.7,62.1 404.9,61.7 405.2,60.3 405.4,59.6 405.6,58.1 405.9,56.6 406.1,56.3 406.4,56.2 406.6,55.5 406.9,55.2 407.1,53.9 407.4,53.9 407.6,53.8 407.9,53.6 408.1,53.9 408.4,53.7 408.6,44.1 408.8,35.7 409.1,35.8 409.3,35.8 409.6,37.6 409.8,33.5 410.1,32.9 410.3,39.6 410.6,40.8 410.8,40.3 411.1,44.4 411.3,51.4 411.6,49.8 411.8,53.1 412.0,53.5 412.3,52.6 412.5,50.7 412.8,48.9 413.0,52.5 413.3,52.4 413.5,50.0 413.8,55.7 414.0,54.5 414.3,56.9 414.5,54.7 414.8,59.3 415.0,57.2 415.2,57.8 415.5,55.2 415.7,51.5 416.0,49.5 416.2,43.6 416.5,42.7 416.7,43.1 417.0,38.5 417.2,35.4 417.5,40.5 417.7,39.6 418.0,41.7 418.2,42.4 418.4,39.3 418.7,47.0 418.9,42.5 419.2,42.9 419.4,50.2 419.7,51.0 419.9,51.9 420.2,54.5 420.4,52.9 420.7,53.7 420.9,53.1 421.1,51.6 421.4,53.4 421.6,55.0 421.9,53.3 422.1,50.6 422.4,52.1 422.6,54.7 422.9,55.6 423.1,56.1 423.4,60.0 423.6,62.6 423.9,57.9 424.1,56.2 424.3,52.0 424.6,47.4 424.8,47.2 425.1,46.9 425.3,46.8 425.6,46.5 425.8,45.7 426.1,47.2 426.3,49.7 426.6,49.1 426.8,48.3 427.1,46.3 427.3,50.1 427.5,45.7 427.8,47.9 428.0,44.4 428.3,46.6 428.5,44.9 428.8,43.0 429.0,41.7 429.3,40.1 429.5,43.7 429.8,42.5 430.0,42.5 430.3,43.3 430.5,44.6 430.7,45.3 431.0,45.0 431.2,44.0 431.5,42.2 431.7,38.8 432.0,35.2 432.2,37.4 432.5,38.0 432.7,37.4 433.0,38.9 433.2,36.3 433.5,38.3 433.7,40.5 433.9,41.3 434.2,41.0 434.4,39.4 434.7,38.7 434.9,36.5 435.2,37.5 435.4,39.0 435.7,37.1 435.9,44.2 436.2,43.9 436.4,42.8 436.7,44.7 436.9,48.7 437.1,51.2 437.4,47.0 437.6,48.5 437.9,48.0 438.1,45.5 438.4,47.0 438.6,41.8 438.9,44.9 439.1,47.2 439.4,48.7 439.6,47.4 439.9,49.9 440.1,51.1 440.3,50.1 440.6,46.0 440.8,48.8 441.1,48.6 441.3,45.6 441.6,48.5 441.8,45.0 442.1,38.9 442.3,44.5 442.6,47.4 442.8,47.2 443.0,52.0 443.3,56.8 443.5,61.0 443.8,60.7 444.0,58.1 444.3,57.1 444.5,53.4 444.8,50.2 445.0,48.2 445.3,48.5 445.5,50.6 445.8,49.6 446.0,50.5 446.2,51.7 446.5,54.0 446.7,54.3 447.0,57.1 447.2,56.1 447.5,57.7 447.7,55.0 448.0,56.5 448.2,58.1 448.5,55.3 448.7,57.0 449.0,59.8 449.2,62.4 449.4,60.7 449.7,66.6 449.9,64.1 450.2,66.2 450.4,67.7 450.7,67.5 450.9,71.3 451.2,67.3 451.4,70.4 451.7,66.7 451.9,69.2 452.2,69.4 452.4,69.7 452.4,180.0 48.6,180.0"/>
<polygon fill="#0aa098" points="48.6,76.2 48.8,75.1 49.1,77.6 49.3,73.5 49.6,69.0 49.8,67.8 50.1,69.7 50.3,71.7 50.6,79.3 50.8,78.0 51.1,75.1 51.3,70.1 51.6,64.6 51.8,67.8 52.0,67.2 52.3,73.1 52.5,69.5 52.8,80.3 53.0,83.9 53.3,84.0 53.5,82.5 53.8,79.9 54.0,75.5 54.3,75.4 54.5,77.3 54.8,78.3 55.0,79.9 55.2,83.1 55.5,83.3 55.7,86.1 56.0,84.3 56.2,82.0 56.5,73.6 56.7,79.7 57.0,78.1 57.2,73.6 57.5,78.4 57.7,75.9 58.0,71.8 58.2,72.4 58.4,72.5 58.7,73.5 58.9,72.7 59.2,70.0 59.4,66.5 59.7,67.1 59.9,63.0 60.2,61.4 60.4,61.5 60.7,59.7 60.9,62.0 61.1,58.1 61.4,57.3 61.6,57.7 61.9,58.5 62.1,62.5 62.4,68.7 62.6,73.0 62.9,77.6 63.1,78.2 63.4,70.6 63.6,77.0 63.9,75.4 64.1,71.4 64.3,77.1 64.6,75.3 64.8,77.1 65.1,74.9 65.3,70.7 65.6,67.0 65.8,72.3 66.1,78.5 66.3,80.3 66.6,78.9 66.8,78.4 67.1,76.8 67.3,74.7 67.5,74.0 67.8,68.6 68.0,72.1 68.3,73.3 68.5,68.5 68.8,74.3 69.0,72.9 69.3,70.2 69.5,72.4 69.8,74.6 70.0,72.2 70.3,74.1 70.5,67.0 70.7,68.5 71.0,65.4 71.2,66.2 71.5,68.2 71.7,64.0 72.0,66.9 72.2,62.5 72.5,65.5 72.7,64.8 73.0,71.6 73.2,66.1 73.5,66.5 73.7,68.0 73.9,61.6 74.2,55.3 74.4,47.3 74.7,43.3 74.9,55.4 75.2,54.1 75.4,50.2 75.7,45.1 75.9,45.4 76.2,41.5 76.4,50.3 76.7,54.7 76.9,60.5 77.1,59.3 77.4,53.0 77.6,58.8 77.9,60.9 78.1,57.5 78.4,56.2 78.6,54.0 78.9,55.5 79.1,60.7 79.4,62.7 79.6,65.9 79.9,66.6 80.1,67.4 80.3,67.1 80.6,62.5 80.8,59.3 81.1,58.1 81.3,57.5 81.6,52.4 81.8,57.9 82.1,57.3 82.3,51.5 82.6,53.0 82.8,51.9 83.0,53.5 83.3,54.9 83.5,59.1 83.8,59.7 84.0,56.9 84.3,51.5 84.5,53.1 84.8,46.2 85.0,43.9 85.3,49.8 85.5,49.2 85.8,51.3 86.0,53.6 86.2,56.8 86.5,59.8 86.7,64.4 87.0,60.0 87.2,65.6 87.5,65.1 87.7,70.3 88.0,75.6 88.2,75.0 88.5,68.6 88.7,73.2 89.0,72.7 89.2,69.1 89.4,70.6 89.7,70.9 89.9,70.3 90.2,67.1 90.4,68.4 90.7,70.0 90.9,68.6 91.2,66.5 91.4,70.2 91.7,69.8 91.9,67.1 92.2,66.8 92.4,69.2 92.6,66.7 92.9,65.9 93.1,60.4 93.4,63.5 93.6,61.2 93.9,62.1 94.1,60.6 94.4,62.2 94.6,75.5 94.9,73.9 95.1,72.8 95.4,72.2 95.6,69.6 95.8,69.1 96.1,69.1 96.3,68.1 96.6,69.7 96.8,70.6 97.1,70.7 97.3,71.0 97.6,71.1 97.8,70.3 98.1,70.3 98.3,69.8 98.6,69.2 98.8,66.3 99.0,66.4 99.3,65.3 99.5,65.2 99.8,63.3 100.0,64.3 100.3,64.5 100.5,64.4 100.8,63.3 101.0,64.3 101.3,63.8 101.5,63.1 101.8,61.8 102.0,60.6 102.2,60.6 102.5,59.1 102.7,58.2 103.0,58.7 103.2,56.9 103.5,56.3 103.7,54.9 104.0,55.0 104.2,54.6 104.5,55.1 104.7,57.6 104.9,57.1 105.2,59.2 105.4,61.3 105.7,62.5 105.9,63.8 106.2,64.1 106.4,65.5 106.7,65.7 106.9,65.4 107.2,63.6 107.4,62.9 107.7,63.4 107.9,62.9 108.1,64.4 108.4,64.3 108.6,65.4 108.9,67.7 109.1,68.3 109.4,70.9 109.6,70.6 109.9,70.3 110.1,69.9 110.4,69.5 110.6,69.8 110.9,69.8 111.1,68.8 111.3,67.3 111.6,69.9 111.8,71.2 112.1,72.6 112.3,72.9 112.6,75.4 112.8,76.1 113.1,76.4 113.3,74.6 113.6,74.3 113.8,72.6 114.1,69.5 114.3,68.0 114.5,67.4 114.8,67.0 115.0,68.0 115.3,68.7 115.5,69.1 115.8,69.2 116.0,69.5 116.3,69.0 116.5,69.0 116.8,68.0 117.0,66.8 117.3,65.5 117.5,64.5 117.7,63.9 118.0,63.9 118.2,62.5 118.5,62.6 118.7,62.6 119.0,64.1 119.2,64.7 119.5,65.6 119.7,66.0 120.0,66.6 120.2,67.3 120.5,68.5 120.7,67.4 120.9,68.9 121.2,68.4 121.4,68.5 121.7,69.7 121.9,69.6 122.2,70.2 122.4,69.0 122.7,69.2 122.9,68.4 123.2,68.4 123.4,66.0 123.7,66.8 123.9,67.0 124.1,66.7 124.4,66.7 124.6,68.3 124.9,67.9 125.1,68.4 125.4,67.6 125.6,66.5 125.9,64.8 126.1,62.2 126.4,62.3 126.6,62.0 126.9,61.6 127.1,62.3 127.3,63.3 127.6,64.2 127.8,66.6 128.1,66.4 128.3,65.5 128.6,66.2 128.8,64.6 129.1,64.1 129.3,62.6 129.6,63.7 129.8,62.8 130.0,60.7 130.3,61.0 130.5,61.5 130.8,61.2 131.0,62.3 131.3,62.3 131.5,63.0 131.8,62.9 132.0,62.8 132.3,62.2 132.5,61.9 132.8,62.6 133.0,62.8 133.2,63.0 133.5,63.4 133.7,64.7 134.0,67.4 134.2,68.2 134.5,69.7 134.7,71.2 135.0,71.0 135.2,70.4 135.5,69.5 135.7,68.6 136.0,66.9 136.2,67.3 136.4,68.3 136.7,69.8 136.9,68.7 137.2,70.3 137.4,71.4 137.7,55.1 137.9,56.2 138.2,59.4 138.4,51.7 138.7,53.3 138.9,50.6 139.2,53.8 139.4,54.4 139.6,55.4 139.9,58.2 140.1,58.9 140.4,59.0 140.6,63.7 140.9,61.7 141.1,67.1 141.4,66.0 141.6,62.7 141.9,64.4 142.1,62.7 142.4,61.3 142.6,56.0 142.8,54.9 143.1,50.5 143.3,51.6 143.6,49.5 143.8,51.6 144.1,50.8 144.3,48.6 144.6,47.2 144.8,43.4 145.1,42.0 145.3,38.1 145.6,44.2 145.8,38.2 146.0,39.3 146.3,41.9 146.5,42.2 146.8,48.2 147.0,51.4 147.3,50.7 147.5,48.6 147.8,50.8 148.0,52.8 148.3,54.2 148.5,56.2 148.8,55.7 149.0,60.0 149.2,61.7 149.5,61.0 149.7,60.1 150.0,59.0 150.2,58.0 150.5,56.6 150.7,57.6 151.0,59.7 151.2,60.9 151.5,58.7 151.7,57.9 151.9,54.9 152.2,54.4 152.4,47.0 152.7,49.8 152.9,47.5 153.2,45.8 153.4,46.1 153.7,47.4 153.9,48.9 154.2,49.1 154.4,49.8 154.7,53.3 154.9,53.8 155.1,46.3 155.4,51.6 155.6,53.4 155.9,51.4 156.1,47.5 156.4,52.8 156.6,52.8 156.9,50.8 157.1,52.6 157.4,51.5 157.6,55.2 157.9,52.1 158.1,52.3 158.3,51.0 158.6,50.4 158.8,49.9 159.1,46.3 159.3,40.5 159.6,41.6 159.8,44.4 160.1,45.5 160.3,43.0 160.6,40.2 160.8,42.5 161.1,39.8 161.3,38.1 161.5,37.7 161.8,38.8 162.0,39.9 162.3,35.8 162.5,38.3 162.8,36.4 163.0,35.6 163.3,34.0 163.5,38.3 163.8,39.2 164.0,40.3 164.3,41.8 164.5,38.5 164.7,38.1 165.0,41.5 165.2,37.2 165.5,40.1 165.7,44.0 166.0,45.8 166.2,48.5 166.5,46.9 166.7,47.2 167.0,43.6 167.2,46.7 167.5,48.3 167.7,50.9 167.9,52.6 168.2,57.0 168.4,59.1 168.7,59.4 168.9,63.8 169.2,67.0 169.4,65.1 169.7,66.3 169.9,68.0 170.2,68.9 170.4,69.4 170.7,68.8 170.9,65.8 171.1,63.4 171.4,66.0 171.6,65.5 171.9,67.9 172.1,65.7 172.4,68.8 172.6,72.8 172.9,75.4 173.1,76.4 173.4,78.6 173.6,77.3 173.8,76.3 174.1,76.7 174.3,75.5 174.6,77.3 174.8,73.7 175.1,75.7 175.3,79.8 175.6,81.8 175.8,82.7 176.1,81.0 176.3,79.6 176.6,77.7 176.8,75.5 177.0,73.4 177.3,69.2 177.5,65.1 177.8,64.5 178.0,70.9 178.3,68.0 178.5,71.0 178.8,70.9 179.0,70.7 179.3,70.4 179.5,72.1 179.8,70.6 180.0,69.4 180.2,70.1 180.5,68.9 180.7,64.5 181.0,60.8 181.2,56.4 181.5,52.1 181.7,56.4 182.0,57.3 182.2,56.7 182.5,56.3 182.7,73.3 183.0,74.4 183.2,76.1 183.4,77.6 183.7,78.3 183.9,77.6 184.2,78.6 184.4,78.7 184.7,78.6 184.9,78.2 185.2,79.0 185.4,79.9 185.7,79.8 185.9,81.5 186.2,83.5 186.4,84.6 186.6,86.9 186.9,86.9 187.1,88.3 187.4,91.4 187.6,92.6 187.9,93.0 188.1,94.7 188.4,96.1 188.6,97.0 188.9,98.2 189.1,99.0 189.4,98.9 189.6,100.2 189.8,101.2 190.1,102.3 190.3,102.6 190.6,103.3 190.8,103.3 191.1,104.0 191.3,104.6 191.6,106.6 191.8,108.0 192.1,109.9 192.3,110.2 192.6,111.4 192.8,112.8 193.0,112.4 193.3,113.0 193.5,112.3 193.8,112.3 194.0,112.9 194.3,114.0 194.5,113.4 194.8,115.1 195.0,116.1 195.3,116.9 195.5,118.9 195.7,119.1 196.0,118.3 196.2,117.9 196.5,115.7 196.7,113.1 197.0,112.8 197.2,111.1 197.5,111.5 197.7,111.5 198.0,111.3 198.2,112.5 198.5,114.0 198.7,115.0 198.9,116.6 199.2,118.0 199.4,119.2 199.7,118.6 199.9,117.8 200.2,117.4 200.4,116.8 200.7,116.1 200.9,114.7 201.2,114.7 201.4,114.8 201.7,115.1 201.9,115.0 202.1,116.2 202.4,116.2 202.6,116.2 202.9,116.2 203.1,116.2 203.4,116.4 203.6,115.2 203.9,114.5 204.1,112.7 204.4,113.2 204.6,113.1 204.9,111.3 205.1,109.8 205.3,109.2 205.6,108.2 205.8,108.5 206.1,108.5 206.3,107.6 206.6,108.4 206.8,108.0 207.1,107.3 207.3,107.1 207.6,106.5 207.8,105.4 208.1,105.4 208.3,105.2 208.5,103.3 208.8,103.5 209.0,103.9 209.3,102.8 209.5,102.7 209.8,102.5 210.0,101.5 210.3,102.0 210.5,101.2 210.8,101.0 211.0,100.8 211.3,100.7 211.5,99.9 211.7,100.1 212.0,99.6 212.2,99.6 212.5,98.2 212.7,97.2 213.0,97.6 213.2,96.9 213.5,97.0 213.7,98.2 214.0,99.1 214.2,99.1 214.5,100.3 214.7,99.7 214.9,98.5 215.2,98.8 215.4,97.8 215.7,96.3 215.9,96.6 216.2,95.6 216.4,95.4 216.7,95.4 216.9,95.3 217.2,95.2 217.4,95.8 217.6,96.6 217.9,96.8 218.1,94.6 218.4,95.8 218.6,94.8 218.9,93.6 219.1,93.2 219.4,90.2 219.6,89.6 219.9,88.9 220.1,88.2 220.4,89.2 220.6,89.2 220.8,90.7 221.1,91.2 221.3,91.4 221.6,90.6 221.8,91.0 222.1,91.0 222.3,89.9 222.6,76.4 222.8,51.8 223.1,54.4 223.3,54.3 223.6,52.6 223.8,56.3 224.0,55.3 224.3,56.1 224.5,51.7 224.8,49.6 225.0,51.4 225.3,54.2 225.5,51.9 225.8,50.2 226.0,47.6 226.3,50.3 226.5,51.1 226.8,49.2 227.0,43.7 227.2,49.7 227.5,49.5 227.7,48.3 228.0,52.1 228.2,53.3 228.5,49.2 228.7,43.8 229.0,42.4 229.2,39.2 229.5,38.0 229.7,41.7 230.0,39.3 230.2,38.2 230.4,39.6 230.7,31.1 230.9,35.2 231.2,35.5 231.4,33.4 231.7,36.3 231.9,41.2 232.2,44.5 232.4,50.1 232.7,47.4 232.9,40.6 233.2,36.6 233.4,32.4 233.6,35.1 233.9,30.9 234.1,32.8 234.4,28.3 234.6,27.6 234.9,24.4 235.1,27.3 235.4,25.8 235.6,31.0 235.9,27.8 236.1,26.8 236.4,25.4 236.6,31.6 236.8,30.8 237.1,34.1 237.3,34.5 237.6,31.4 237.8,32.2 238.1,33.2 238.3,33.8 238.6,29.6 238.8,33.6 239.1,37.2 239.3,38.4 239.5,40.7 239.8,35.9 240.0,40.8 240.3,38.3 240.5,35.7 240.8,35.7 241.0,32.5 241.3,39.0 241.5,38.2 241.8,37.4 242.0,36.3 242.3,35.2 242.5,27.4 242.7,27.8 243.0,25.7 243.2,27.6 243.5,35.1 243.7,31.7 244.0,31.8 244.2,34.1 244.5,40.3 244.7,39.7 245.0,41.6 245.2,39.9 245.5,37.2 245.7,38.9 245.9,36.6 246.2,38.6 246.4,41.3 246.7,44.2 246.9,43.6 247.2,48.4 247.4,47.3 247.7,49.1 247.9,44.7 248.2,44.7 248.4,46.8 248.7,42.3 248.9,41.1 249.1,43.2 249.4,44.8 249.6,41.1 249.9,43.6 250.1,33.0 250.4,37.0 250.6,39.0 250.9,37.7 251.1,42.2 251.4,38.4 251.6,45.7 251.9,45.2 252.1,40.4 252.3,41.5 252.6,41.1 252.8,41.0 253.1,43.3 253.3,47.0 253.6,50.0 253.8,47.0 254.1,48.8 254.3,51.3 254.6,54.7 254.8,56.5 255.1,52.1 255.3,51.5 255.5,54.8 255.8,52.3 256.0,50.0 256.3,51.7 256.5,44.8 256.8,43.2 257.0,44.4 257.3,49.9 257.5,52.1 257.8,53.6 258.0,53.3 258.3,53.3 258.5,53.8 258.7,49.8 259.0,49.7 259.2,48.6 259.5,46.6 259.7,47.4 260.0,50.2 260.2,51.0 260.5,48.4 260.7,48.7 261.0,54.9 261.2,52.7 261.5,49.4 261.7,51.9 261.9,54.2 262.2,60.1 262.4,57.9 262.7,59.7 262.9,58.7 263.2,58.4 263.4,53.2 263.7,54.0 263.9,60.1 264.2,59.5 264.4,61.9 264.6,63.2 264.9,63.2 265.1,61.6 265.4,67.4 265.6,65.5 265.9,67.4 266.1,65.6 266.4,63.9 266.6,71.1 266.9,71.7 267.1,70.4 267.4,67.6 267.6,71.4 267.8,71.9 268.1,71.7 268.3,72.9 268.6,75.2 268.8,71.3 269.1,70.3 269.3,69.6 269.6,70.0 269.8,67.2 270.1,69.7 270.3,64.1 270.6,66.0 270.8,66.4 271.0,71.6 271.3,71.4 271.5,69.7 271.8,69.3 272.0,73.6 272.3,74.6 272.5,74.7 272.8,70.9 273.0,72.7 273.3,73.0 273.5,69.0 273.8,70.1 274.0,70.0 274.2,66.1 274.5,72.4 274.7,72.3 275.0,72.1 275.2,71.2 275.5,71.0 275.7,71.4 276.0,70.7 276.2,69.9 276.5,70.1 276.7,70.3 277.0,70.2 277.2,68.6 277.4,67.9 277.7,67.9 277.9,67.1 278.2,67.7 278.4,67.2 278.7,67.2 278.9,68.5 279.2,69.2 279.4,70.3 279.7,70.7 279.9,69.5 280.2,69.9 280.4,69.9 280.6,68.9 280.9,70.7 281.1,71.2 281.4,71.8 281.6,74.1 281.9,75.1 282.1,76.9 282.4,77.6 282.6,78.5 282.9,79.2 283.1,80.8 283.4,81.6 283.6,81.7 283.8,81.2 284.1,80.4 284.3,78.5 284.6,76.3 284.8,75.9 285.1,75.0 285.3,73.3 285.6,74.9 285.8,73.8 286.1,73.0 286.3,71.6 286.5,71.1 286.8,69.6 287.0,67.6 287.3,66.3 287.5,65.8 287.8,64.6 288.0,64.1 288.3,66.2 288.5,68.4 288.8,70.2 289.0,72.5 289.3,74.7 289.5,75.4 289.7,78.1 290.0,79.6 290.2,79.1 290.5,79.6 290.7,80.0 291.0,81.2 291.2,80.7 291.5,80.2 291.7,79.0 292.0,79.7 292.2,78.5 292.5,77.0 292.7,75.1 292.9,75.5 293.2,75.2 293.4,74.5 293.7,74.6 293.9,74.5 294.2,74.3 294.4,72.5 294.7,71.9 294.9,72.0 295.2,71.9 295.4,71.8 295.7,71.0 295.9,70.9 296.1,72.6 296.4,72.8 296.6,73.6 296.9,75.0 297.1,75.9 297.4,78.6 297.6,77.6 297.9,77.6 298.1,77.1 298.4,77.9 298.6,76.9 298.9,76.6 299.1,75.7 299.3,76.4 299.6,76.8 299.8,77.2 300.1,77.3 300.3,78.7 300.6,79.5 300.8,81.0 301.1,82.0 301.3,83.2 301.6,81.8 301.8,81.6 302.1,80.0 302.3,79.4 302.5,77.8 302.8,77.5 303.0,77.7 303.3,79.3 303.5,78.2 303.8,78.2 304.0,78.4 304.3,78.4 304.5,74.9 304.8,71.4 305.0,69.0 305.3,66.7 305.5,64.2 305.7,64.6 306.0,66.0 306.2,67.7 306.5,68.8 306.7,70.1 307.0,70.2 307.2,68.0 307.5,65.7 307.7,63.7 308.0,60.6 308.2,58.4 308.4,56.3 308.7,57.0 308.9,57.5 309.2,59.1 309.4,59.7 309.7,61.4 309.9,62.2 310.2,65.8 310.4,68.1 310.7,70.9 310.9,73.0 311.2,73.5 311.4,76.7 311.6,78.9 311.9,80.9 312.1,83.7 312.4,88.0 312.6,92.3 312.9,92.8 313.1,93.1 313.4,93.3 313.6,91.7 313.9,88.7 314.1,85.2 314.4,82.9 314.6,80.5 314.8,79.5 315.1,77.7 315.3,77.7 315.6,77.4 315.8,76.6 316.1,76.6 316.3,75.6 316.6,74.8 316.8,74.0 317.1,72.2 317.3,72.0 317.6,70.8 317.8,67.8 318.0,67.4 318.3,66.3 318.5,65.6 318.8,65.1 319.0,63.1 319.3,64.4 319.5,63.8 319.8,64.5 320.0,64.1 320.3,62.6 320.5,54.6 320.8,53.2 321.0,50.5 321.2,49.8 321.5,47.4 321.7,42.8 322.0,47.2 322.2,45.2 322.5,46.6 322.7,43.8 323.0,40.1 323.2,37.0 323.5,37.2 323.7,36.9 324.0,34.0 324.2,37.2 324.4,35.8 324.7,36.9 324.9,38.6 325.2,37.8 325.4,32.0 325.7,35.1 325.9,31.9 326.2,33.6 326.4,39.7 326.7,38.6 326.9,35.7 327.2,45.5 327.4,43.3 327.6,47.7 327.9,47.8 328.1,48.9 328.4,42.6 328.6,43.3 328.9,38.9 329.1,40.6 329.4,40.4 329.6,40.4 329.9,42.1 330.1,46.2 330.3,49.8 330.6,52.1 330.8,54.1 331.1,54.0 331.3,51.0 331.6,57.1 331.8,58.7 332.1,61.0 332.3,60.6 332.6,60.3 332.8,56.5 333.1,53.8 333.3,52.7 333.5,56.1 333.8,53.0 334.0,47.0 334.3,46.8 334.5,55.3 334.8,57.9 335.0,58.4 335.3,61.5 335.5,62.6 335.8,58.6 336.0,58.0 336.3,56.8 336.5,56.5 336.7,51.9 337.0,55.7 337.2,54.5 337.5,56.8 337.7,55.8 338.0,51.0 338.2,51.8 338.5,49.2 338.7,50.9 339.0,50.7 339.2,52.7 339.5,52.2 339.7,51.8 339.9,54.7 340.2,51.7 340.4,49.9 340.7,46.3 340.9,48.6 341.2,46.7 341.4,45.1 341.7,48.4 341.9,46.5 342.2,47.6 342.4,45.3 342.7,42.2 342.9,38.2 343.1,41.4 343.4,37.5 343.6,42.7 343.9,45.0 344.1,47.4 344.4,49.1 344.6,51.3 344.9,55.3 345.1,61.4 345.4,59.6 345.6,61.3 345.9,61.8 346.1,57.1 346.3,57.3 346.6,56.7 346.8,55.8 347.1,59.1 347.3,60.1 347.6,63.9 347.8,65.1 348.1,64.7 348.3,64.5 348.6,62.5 348.8,64.2 349.1,68.9 349.3,74.3 349.5,72.6 349.8,72.4 350.0,68.2 350.3,69.8 350.5,63.8 350.8,63.3 351.0,62.0 351.3,65.1 351.5,59.8 351.8,63.2 352.0,65.7 352.2,68.2 352.5,71.1 352.7,70.0 353.0,74.3 353.2,71.8 353.5,68.3 353.7,72.0 354.0,69.1 354.2,65.4 354.5,66.2 354.7,68.9 355.0,68.6 355.2,76.0 355.4,77.6 355.7,77.4 355.9,82.5 356.2,87.0 356.4,87.2 356.7,85.9 356.9,83.2 357.2,79.7 357.4,77.0 357.7,78.5 357.9,76.6 358.2,76.5 358.4,77.1 358.6,77.5 358.9,77.4 359.1,76.9 359.4,78.0 359.6,78.5 359.9,79.4 360.1,79.9 360.4,79.3 360.6,78.5 360.9,76.6 361.1,77.2 361.4,75.7 361.6,76.0 361.8,75.2 362.1,74.8 362.3,75.0 362.6,74.7 362.8,74.5 363.1,75.5 363.3,76.3 363.6,74.9 363.8,75.7 364.1,75.6 364.3,75.7 364.6,75.3 364.8,74.9 365.0,75.1 365.3,75.1 365.5,76.2 365.8,76.6 366.0,75.6 366.3,75.4 366.5,73.6 366.8,75.3 367.0,75.2 367.3,75.2 367.5,75.8 367.8,75.9 368.0,75.7 368.2,76.3 368.5,77.0 368.7,76.6 369.0,77.0 369.2,77.7 369.5,78.7 369.7,79.2 370.0,77.8 370.2,79.7 370.5,79.8 370.7,79.7 371.0,80.2 371.2,79.4 371.4,79.3 371.7,78.5 371.9,79.0 372.2,77.2 372.4,77.1 372.7,77.6 372.9,77.8 373.2,79.4 373.4,79.1 373.7,80.0 373.9,80.0 374.1,80.8 374.4,79.9 374.6,79.6 374.9,80.5 375.1,80.0 375.4,79.6 375.6,79.6 375.9,79.8 376.1,80.4 376.4,80.5 376.6,79.5 376.9,80.4 377.1,80.7 377.3,80.2 377.6,81.0 377.8,81.4 378.1,82.7 378.3,82.3 378.6,82.3 378.8,81.9 379.1,81.1 379.3,80.8 379.6,79.8 379.8,80.4 380.1,79.7 380.3,80.1 380.5,80.1 380.8,81.3 381.0,81.0 381.3,79.8 381.5,79.4 381.8,79.9 382.0,81.1 382.3,86.4 382.5,91.2 382.8,95.8 383.0,101.6 383.3,102.2 383.5,102.8 383.7,103.9 384.0,103.1 384.2,104.4 384.5,105.5 384.7,106.5 385.0,107.4 385.2,105.9 385.5,106.3 385.7,105.7 386.0,103.8 386.2,103.4 386.5,103.3 386.7,101.9 386.9,101.7 387.2,99.7 387.4,99.7 387.7,98.2 387.9,97.8 388.2,97.1 388.4,96.5 388.7,96.5 388.9,96.3 389.2,96.0 389.4,94.8 389.7,95.1 389.9,93.9 390.1,95.0 390.4,94.9 390.6,95.2 390.9,94.8 391.1,94.0 391.4,94.5 391.6,94.5 391.9,94.2 392.1,94.8 392.4,94.7 392.6,93.4 392.9,92.8 393.1,92.5 393.3,91.1 393.6,90.7 393.8,89.5 394.1,88.3 394.3,87.7 394.6,86.8 394.8,86.6 395.1,87.5 395.3,88.4 395.6,89.8 395.8,91.2 396.1,92.0 396.3,91.2 396.5,90.5 396.8,88.0 397.0,86.4 397.3,83.4 397.5,82.2 397.8,81.0 398.0,82.1 398.3,82.4 398.5,83.0 398.8,83.4 399.0,83.7 399.2,84.3 399.5,83.1 399.7,80.6 400.0,78.5 400.2,76.7 400.5,75.0 400.7,72.8 401.0,71.0 401.2,69.7 401.5,71.9 401.7,71.7 402.0,72.3 402.2,73.2 402.4,73.0 402.7,73.2 402.9,72.4 403.2,71.2 403.4,70.1 403.7,67.5 403.9,67.2 404.2,65.7 404.4,66.5 404.7,66.4 404.9,66.1 405.2,64.7 405.4,63.9 405.6,62.3 405.9,60.6 406.1,60.2 406.4,59.9 406.6,59.1 406.9,58.9 407.1,57.5 407.4,57.8 407.6,57.7 407.9,57.4 408.1,57.8 408.4,57.8 408.6,49.7 408.8,40.9 409.1,40.9 409.3,40.8 409.6,42.2 409.8,38.1 410.1,37.3 410.3,43.6 410.6,45.1 410.8,44.8 411.1,49.6 411.3,57.2 411.6,56.3 411.8,60.0 412.0,60.9 412.3,59.5 412.5,57.2 412.8,55.2 413.0,58.4 413.3,57.9 413.5,55.3 413.8,60.4 414.0,59.0 414.3,62.0 414.5,60.0 414.8,64.9 415.0,63.1 415.2,63.9 415.5,61.3 415.7,56.9 416.0,54.8 416.2,48.4 416.5,46.9 416.7,46.9 417.0,42.4 417.2,39.6 417.5,45.0 417.7,44.5 418.0,46.8 418.2,47.6 418.4,45.1 418.7,53.1 418.9,48.8 419.2,49.0 419.4,55.7 419.7,56.4 419.9,56.8 420.2,59.2 420.4,57.8 420.7,58.6 420.9,58.4 421.1,56.8 421.4,58.8 421.6,60.5 421.9,58.7 422.1,55.7 422.4,56.9 422.6,59.3 422.9,59.9 423.1,60.1 423.4,64.1 423.6,67.0 423.9,62.3 424.1,61.1 424.3,57.1 424.6,52.6 424.8,52.8 425.1,52.6 425.3,52.4 425.6,51.7 425.8,50.6 426.1,51.9 426.3,54.5 426.6,54.0 426.8,53.4 427.1,51.5 427.3,55.4 427.5,51.0 427.8,53.0 428.0,49.3 428.3,51.5 428.5,49.5 428.8,47.4 429.0,46.2 429.3,44.4 429.5,48.5 429.8,47.5 430.0,48.1 430.3,49.4 430.5,51.0 430.7,51.3 431.0,50.9 431.2,49.5 431.5,47.7 431.7,43.8 432.0,40.0 432.2,42.1 432.5,42.5 432.7,42.2 433.0,43.5 433.2,41.2 433.5,43.0 433.7,45.7 433.9,46.7 434.2,46.4 434.4,44.9 434.7,44.4 434.9,42.3 435.2,43.3 435.4,44.5 435.7,42.7 435.9,49.7 436.2,49.3 436.4,48.2 436.7,50.1 436.9,54.4 437.1,56.9 437.4,52.7 437.6,54.2 437.9,53.9 438.1,51.2 438.4,52.9 438.6,47.4 438.9,50.5 439.1,52.6 439.4,53.8 439.6,52.4 439.9,54.5 440.1,55.9 440.3,55.2 440.6,51.6 440.8,54.7 441.1,55.1 441.3,52.2 441.6,54.7 441.8,50.6 442.1,44.6 442.3,49.5 442.6,52.3 442.8,51.8 443.0,56.6 443.3,61.8 443.5,66.5 443.8,66.6 444.0,64.4 444.3,63.8 444.5,60.3 444.8,57.1 445.0,54.5 445.3,54.6 445.5,56.2 445.8,54.8 446.0,55.3 446.2,56.0 446.5,58.5 446.7,58.9 447.0,62.1 447.2,61.6 447.5,63.5 447.7,61.2 448.0,62.2 448.2,63.7 448.5,60.3 448.7,61.4 449.0,63.8 449.2,66.0 449.4,64.8 449.7,71.0 449.9,68.9 450.2,71.3 450.4,72.9 450.7,73.2 450.9,77.2 451.2,73.7 451.4,76.8 451.7,72.7 451.9,75.0 452.2,74.7 452.4,74.8 452.4,180.0 48.6,180.0"/>
<polygon fill="#c4defa" points="48.6,90.1 48.8,93.0 49.1,99.7 49.3,99.7 49.6,103.6 49.8,109.7 50.1,113.4 50.3,107.6 50.6,112.6 50.8,105.3 51.1,100.7 51.3,107.1 51.6,102.2 51.8,105.1 52.0,100.8 52.3,99.8 52.5,101.8 52.8,109.3 53.0,106.6 53.3,105.6 53.5,113.2 53.8,105.6 54.0,98.7 54.3,94.1 54.5,94.0 54.8,90.3 55.0,85.9 55.2,86.9 55.5,86.9 55.7,93.9 56.0,94.0 56.2,99.3 56.5,104.5 56.7,105.5 57.0,110.7 57.2,109.0 57.5,111.1 57.7,107.1 58.0,107.1 58.2,110.4 58.4,103.1 58.7,110.3 58.9,105.6 59.2,112.3 59.4,109.1 59.7,112.8 59.9,108.7 60.2,105.3 60.4,102.6 60.7,102.5 60.9,98.2 61.1,97.3 61.4,103.8 61.6,101.2 61.9,102.6 62.1,106.4 62.4,109.2 62.6,107.5 62.9,105.0 63.1,107.1 63.4,106.3 63.6,105.7 63.9,102.7 64.1,104.7 64.3,108.9 64.6,112.6 64.8,112.8 65.1,117.7 65.3,118.3 65.6,117.6 65.8,108.1 66.1,110.5 66.3,102.9 66.6,99.2 66.8,95.9 67.1,95.6 67.3,95.3 67.5,99.3 67.8,103.1 68.0,119.2 68.3,119.6 68.5,123.6 68.8,123.3 69.0,122.9 69.3,122.4 69.5,121.8 69.8,121.2 70.0,116.4 70.3,108.3 70.5,102.4 70.7,104.3 71.0,110.7 71.2,113.5 71.5,105.0 71.7,106.9 72.0,101.5 72.2,100.9 72.5,94.4 72.7,93.7 73.0,92.9 73.2,93.5 73.5,98.2 73.7,99.4 73.9,105.5 74.2,107.6 74.4,105.0 74.7,105.3 74.9,96.4 75.2,93.3 75.4,89.3 75.7,88.7 75.9,94.8 76.2,97.1 76.4,96.8 76.7,105.5 76.9,111.4 77.1,109.1 77.4,114.8 77.6,113.1 77.9,101.7 78.1,102.6 78.4,95.5 78.6,95.7 78.9,91.5 79.1,99.6 79.4,100.3 79.6,99.1 79.9,105.5 80.1,106.8 80.3,108.0 80.6,108.4 80.8,109.2 81.1,107.5 81.3,109.7 81.6,108.3 81.8,106.0 82.1,104.6 82.3,104.6 82.6,102.5 82.8,105.1 83.0,112.1 83.3,108.3 83.5,115.3 83.8,115.7 84.0,114.4 84.3,116.1 84.5,115.3 84.8,116.2 85.0,111.7 85.3,111.0 85.5,111.3 85.8,115.8 86.0,116.7 86.2,122.3 86.5,123.9 86.7,123.9 87.0,119.5 87.2,116.0 87.5,112.0 87.7,113.2 88.0,111.0 88.2,114.0 88.5,114.8 88.7,122.6 89.0,127.5 89.2,130.3 89.4,130.2 89.7,127.1 89.9,128.9 90.2,121.9 90.4,123.7 90.7,125.5 90.9,121.9 91.2,121.2 91.4,120.6 91.7,125.9 91.9,128.1 92.2,130.3 92.4,127.9 92.6,127.6 92.9,131.8 93.1,123.1 93.4,120.8 93.6,116.0 93.9,113.6 94.1,109.5 94.4,111.3 94.6,100.7 94.9,101.0 95.1,100.5 95.4,102.4 95.6,101.3 95.8,104.9 96.1,103.4 96.3,99.5 96.6,98.4 96.8,96.7 97.1,94.6 97.3,95.8 97.6,94.4 97.8,94.4 98.1,94.9 98.3,94.7 98.6,97.4 98.8,94.0 99.0,92.6 99.3,90.8 99.5,89.6 99.8,89.4 100.0,91.3 100.3,92.1 100.5,93.1 100.8,91.1 101.0,92.5 101.3,90.9 101.5,89.7 101.8,86.9 102.0,87.4 102.2,85.3 102.5,84.2 102.7,80.2 103.0,78.8 103.2,80.6 103.5,78.8 103.7,80.3 104.0,81.9 104.2,82.4 104.5,83.7 104.7,85.3 104.9,84.5 105.2,82.9 105.4,83.3 105.7,84.1 105.9,82.4 106.2,83.9 106.4,84.6 106.7,85.2 106.9,85.3 107.2,87.1 107.4,88.5 107.7,87.6 107.9,88.4 108.1,89.2 108.4,87.3 108.6,89.1 108.9,86.8 109.1,90.2 109.4,88.0 109.6,89.0 109.9,91.3 110.1,91.5 110.4,92.3 110.6,94.4 110.9,94.0 111.1,94.0 111.3,91.6 111.6,91.6 111.8,91.2 112.1,90.2 112.3,88.3 112.6,91.2 112.8,90.9 113.1,90.9 113.3,91.3 113.6,91.4 113.8,91.0 114.1,90.3 114.3,89.2 114.5,89.7 114.8,87.6 115.0,88.8 115.3,87.9 115.5,90.7 115.8,90.1 116.0,91.2 116.3,87.4 116.5,92.6 116.8,91.7 117.0,90.3 117.3,90.3 117.5,89.2 117.7,88.8 118.0,87.6 118.2,87.6 118.5,89.1 118.7,87.9 119.0,88.3 119.2,86.1 119.5,86.2 119.7,89.3 120.0,87.0 120.2,85.8 120.5,87.0 120.7,85.9 120.9,85.5 121.2,85.4 121.4,87.2 121.7,87.1 121.9,88.5 122.2,89.2 122.4,90.3 122.7,87.9 122.9,88.6 123.2,87.8 123.4,86.9 123.7,86.7 123.9,84.6 124.1,82.8 124.4,83.9 124.6,84.0 124.9,84.5 125.1,86.1 125.4,87.9 125.6,87.9 125.9,86.2 126.1,89.0 126.4,86.1 126.6,85.9 126.9,85.0 127.1,84.7 127.3,87.2 127.6,85.2 127.8,86.6 128.1,88.1 128.3,87.2 128.6,89.9 128.8,88.0 129.1,86.8 129.3,87.0 129.6,84.3 129.8,86.7 130.0,83.5 130.3,85.5 130.5,83.7 130.8,85.3 131.0,86.3 131.3,87.0 131.5,86.5 131.8,87.1 132.0,87.4 132.3,85.0 132.5,86.9 132.8,83.6 133.0,86.9 133.2,83.7 133.5,85.6 133.7,86.6 134.0,87.9 134.2,87.2 134.5,86.0 134.7,87.6 135.0,84.6 135.2,83.6 135.5,85.0 135.7,81.6 136.0,82.4 136.2,82.2 136.4,82.6 136.7,81.1 136.9,82.8 137.2,83.9 137.4,86.0 137.7,102.5 137.9,108.0 138.2,109.7 138.4,106.2 138.7,102.9 138.9,106.4 139.2,106.5 139.4,104.4 139.6,105.2 139.9,105.7 140.1,106.6 140.4,107.0 140.6,110.4 140.9,114.1 141.1,109.4 141.4,112.7 141.6,110.7 141.9,105.2 142.1,101.8 142.4,100.6 142.6,107.5 142.8,106.4 143.1,113.1 143.3,110.5 143.6,114.4 143.8,114.3 144.1,110.8 144.3,112.8 144.6,110.5 144.8,102.0 145.1,99.0 145.3,96.9 145.6,98.3 145.8,96.3 146.0,97.2 146.3,99.2 146.5,101.9 146.8,105.0 147.0,102.4 147.3,102.8 147.5,111.9 147.8,108.4 148.0,110.1 148.3,109.1 148.5,105.9 148.8,107.6 149.0,107.0 149.2,108.6 149.5,105.5 149.7,114.0 150.0,115.9 150.2,115.5 150.5,113.1 150.7,107.8 151.0,109.9 151.2,102.0 151.5,103.1 151.7,104.5 151.9,99.4 152.2,96.3 152.4,96.4 152.7,102.5 152.9,102.8 153.2,107.5 153.4,103.5 153.7,101.6 153.9,103.9 154.2,102.7 154.4,100.5 154.7,96.0 154.9,97.5 155.1,99.9 155.4,99.1 155.6,97.9 155.9,100.4 156.1,104.5 156.4,105.6 156.6,109.5 156.9,108.7 157.1,109.4 157.4,105.1 157.6,108.0 157.9,102.0 158.1,103.3 158.3,107.9 158.6,109.5 158.8,109.1 159.1,109.4 159.3,108.9 159.6,110.6 159.8,109.8 160.1,109.0 160.3,106.2 160.6,100.5 160.8,84.2 161.1,85.1 161.3,92.3 161.5,95.7 161.8,95.6 162.0,105.5 162.3,107.0 162.5,107.1 162.8,104.4 163.0,96.5 163.3,88.4 163.5,80.5 163.8,78.1 164.0,80.7 164.3,86.0 164.5,94.9 164.7,98.4 165.0,100.8 165.2,105.3 165.5,103.5 165.7,100.1 166.0,102.2 166.2,97.2 166.5,99.8 166.7,96.1 167.0,101.7 167.2,105.3 167.5,108.0 167.7,111.3 167.9,114.9 168.2,118.2 168.4,119.0 168.7,116.8 168.9,112.6 169.2,109.2 169.4,104.7 169.7,106.7 169.9,113.9 170.2,122.9 170.4,123.4 170.7,124.0 170.9,124.5 171.1,125.1 171.4,124.8 171.6,118.6 171.9,115.8 172.1,113.4 172.4,116.1 172.6,118.5 172.9,118.2 173.1,117.9 173.4,123.1 173.6,125.3 173.8,121.6 174.1,126.1 174.3,122.9 174.6,119.8 174.8,119.9 175.1,121.0 175.3,115.3 175.6,119.6 175.8,121.6 176.1,115.7 176.3,118.5 176.6,119.7 176.8,119.1 177.0,121.1 177.3,120.8 177.5,119.7 177.8,116.3 178.0,115.4 178.3,108.0 178.5,112.9 178.8,108.5 179.0,105.4 179.3,109.5 179.5,110.0 179.8,110.3 180.0,114.6 180.2,117.4 180.5,117.2 180.7,115.4 181.0,112.6 181.2,113.0 181.5,107.5 181.7,106.5 182.0,102.2 182.2,105.8 182.5,107.7 182.7,99.3 183.0,101.2 183.2,100.0 183.4,103.9 183.7,102.8 183.9,101.2 184.2,102.7 184.4,101.2 184.7,101.3 184.9,100.4 185.2,100.4 185.4,101.3 185.7,100.9 185.9,102.3 186.2,106.3 186.4,106.4 186.6,108.3 186.9,108.4 187.1,106.8 187.4,106.1 187.6,107.3 187.9,108.0 188.1,108.1 188.4,110.7 188.6,112.6 188.9,113.2 189.1,116.6 189.4,117.3 189.6,118.1 189.8,121.6 190.1,122.8 190.3,121.9 190.6,121.4 190.8,121.4 191.1,119.3 191.3,121.3 191.6,122.8 191.8,124.6 192.1,126.2 192.3,128.3 192.6,129.9 192.8,129.7 193.0,128.7 193.3,127.8 193.5,128.3 193.8,126.2 194.0,126.5 194.3,126.2 194.5,129.4 194.8,131.6 195.0,132.4 195.3,131.6 195.5,131.9 195.7,133.0 196.0,132.2 196.2,132.3 196.5,131.1 196.7,131.1 197.0,131.6 197.2,131.6 197.5,133.7 197.7,135.3 198.0,136.9 198.2,138.4 198.5,140.0 198.7,137.9 198.9,134.2 199.2,134.5 199.4,131.8 199.7,130.8 199.9,129.7 200.2,130.9 200.4,131.0 200.7,129.7 200.9,131.6 201.2,130.3 201.4,129.6 201.7,129.3 201.9,129.0 202.1,125.3 202.4,126.0 202.6,125.2 202.9,127.3 203.1,126.3 203.4,125.4 203.6,126.0 203.9,125.9 204.1,126.8 204.4,126.8 204.6,124.5 204.9,123.0 205.1,120.7 205.3,120.2 205.6,120.0 205.8,116.3 206.1,116.6 206.3,116.3 206.6,114.6 206.8,118.1 207.1,117.9 207.3,119.9 207.6,120.4 207.8,124.3 208.1,123.3 208.3,120.3 208.5,118.7 208.8,118.7 209.0,114.5 209.3,117.0 209.5,116.1 209.8,118.1 210.0,116.7 210.3,117.7 210.5,117.7 210.8,117.9 211.0,116.5 211.3,113.6 211.5,111.9 211.7,108.4 212.0,108.9 212.2,106.7 212.5,106.7 212.7,106.0 213.0,106.2 213.2,108.7 213.5,109.9 213.7,110.0 214.0,111.2 214.2,110.7 214.5,111.1 214.7,111.0 214.9,109.8 215.2,112.6 215.4,110.3 215.7,112.4 215.9,110.8 216.2,111.5 216.4,110.0 216.7,112.6 216.9,110.5 217.2,109.3 217.4,109.7 217.6,108.5 217.9,109.2 218.1,105.3 218.4,106.2 218.6,109.1 218.9,109.5 219.1,111.0 219.4,112.7 219.6,110.4 219.9,109.6 220.1,108.1 220.4,108.9 220.6,107.2 220.8,105.6 221.1,104.0 221.3,104.6 221.6,105.3 221.8,103.4 222.1,104.9 222.3,104.7 222.6,104.8 222.8,105.3 223.1,107.7 223.3,106.8 223.6,107.4 223.8,104.3 224.0,106.5 224.3,105.9 224.5,107.2 224.8,105.8 225.0,110.3 225.3,105.3 225.5,114.2 225.8,115.7 226.0,115.4 226.3,114.6 226.5,109.7 226.8,103.0 227.0,105.1 227.2,101.9 227.5,95.2 227.7,103.1 228.0,104.0 228.2,112.3 228.5,109.3 228.7,111.3 229.0,120.0 229.2,117.6 229.5,119.9 229.7,119.9 230.0,113.9 230.2,110.4 230.4,110.5 230.7,103.9 230.9,105.4 231.2,106.4 231.4,108.6 231.7,112.6 231.9,110.5 232.2,112.6 232.4,111.9 232.7,111.6 232.9,107.7 233.2,111.3 233.4,105.5 233.6,101.4 233.9,104.8 234.1,101.5 234.4,97.7 234.6,104.0 234.9,102.3 235.1,105.8 235.4,110.5 235.6,109.8 235.9,110.0 236.1,114.0 236.4,113.8 236.6,115.8 236.8,104.6 237.1,104.1 237.3,104.5 237.6,97.7 237.8,98.1 238.1,97.7 238.3,96.4 238.6,93.1 238.8,101.1 239.1,97.1 239.3,99.2 239.5,94.3 239.8,94.6 240.0,82.6 240.3,80.3 240.5,80.9 240.8,81.9 241.0,86.9 241.3,86.2 241.5,91.0 241.8,97.9 242.0,98.2 242.3,96.1 242.5,90.6 242.7,96.1 243.0,93.6 243.2,89.6 243.5,93.1 243.7,94.9 244.0,97.7 244.2,101.9 244.5,103.8 244.7,100.2 245.0,99.3 245.2,97.4 245.5,90.6 245.7,91.9 245.9,88.4 246.2,87.5 246.4,91.0 246.7,95.5 246.9,94.6 247.2,94.9 247.4,96.6 247.7,97.0 247.9,96.6 248.2,94.7 248.4,93.5 248.7,91.5 248.9,88.3 249.1,94.5 249.4,86.5 249.6,93.9 249.9,91.4 250.1,101.4 250.4,105.0 250.6,102.1 250.9,99.2 251.1,102.4 251.4,97.9 251.6,95.0 251.9,96.1 252.1,91.8 252.3,90.4 252.6,94.9 252.8,96.4 253.1,98.4 253.3,100.6 253.6,106.2 253.8,109.9 254.1,108.6 254.3,111.3 254.6,108.3 254.8,109.6 255.1,109.4 255.3,103.1 255.5,105.2 255.8,107.2 256.0,108.4 256.3,108.3 256.5,106.4 256.8,109.5 257.0,107.7 257.3,105.5 257.5,106.1 257.8,106.9 258.0,109.4 258.3,105.7 258.5,108.6 258.7,109.6 259.0,109.0 259.2,115.1 259.5,112.0 259.7,111.8 260.0,107.9 260.2,112.0 260.5,105.0 260.7,103.8 261.0,107.9 261.2,104.5 261.5,108.3 261.7,109.6 261.9,109.3 262.2,107.6 262.4,112.8 262.7,111.4 262.9,106.4 263.2,103.6 263.4,100.5 263.7,102.2 263.9,100.6 264.2,100.6 264.4,103.5 264.6,106.0 264.9,106.9 265.1,111.8 265.4,111.4 265.6,117.4 265.9,118.7 266.1,110.3 266.4,115.6 266.6,117.0 266.9,117.0 267.1,115.5 267.4,115.6 267.6,112.5 267.8,118.6 268.1,118.2 268.3,120.6 268.6,125.4 268.8,123.5 269.1,126.0 269.3,125.4 269.6,121.2 269.8,120.6 270.1,109.5 270.3,111.3 270.6,116.0 270.8,118.5 271.0,116.5 271.3,123.5 271.5,120.0 271.8,120.5 272.0,118.2 272.3,115.8 272.5,112.6 272.8,106.5 273.0,104.3 273.3,107.6 273.5,105.7 273.8,109.2 274.0,108.1 274.2,112.6 274.5,89.3 274.7,90.4 275.0,90.9 275.2,91.4 275.5,89.9 275.7,89.3 276.0,89.6 276.2,87.9 276.5,87.6 276.7,89.4 277.0,89.7 277.2,89.1 277.4,91.3 277.7,90.9 277.9,92.3 278.2,89.7 278.4,90.1 278.7,90.2 278.9,90.8 279.2,88.3 279.4,89.7 279.7,88.1 279.9,89.9 280.2,93.1 280.4,91.6 280.6,92.3 280.9,92.5 281.1,94.3 281.4,92.6 281.6,92.5 281.9,88.4 282.1,90.8 282.4,88.9 282.6,90.8 282.9,91.2 283.1,91.3 283.4,91.6 283.6,94.2 283.8,93.4 284.1,95.2 284.3,94.0 284.6,92.9 284.8,92.1 285.1,92.9 285.3,91.1 285.6,88.8 285.8,91.5 286.1,90.6 286.3,88.7 286.5,94.0 286.8,93.8 287.0,97.5 287.3,96.1 287.5,96.8 287.8,95.7 288.0,97.0 288.3,94.4 288.5,94.0 288.8,94.5 289.0,97.6 289.3,98.1 289.5,98.7 289.7,98.9 290.0,100.8 290.2,99.6 290.5,101.0 290.7,98.1 291.0,96.3 291.2,98.6 291.5,93.1 291.7,97.1 292.0,96.4 292.2,96.8 292.5,96.9 292.7,98.3 292.9,99.1 293.2,99.3 293.4,99.3 293.7,99.4 293.9,99.5 294.2,97.3 294.4,98.4 294.7,98.6 294.9,98.9 295.2,99.0 295.4,101.5 295.7,99.9 295.9,100.6 296.1,99.3 296.4,100.2 296.6,99.6 296.9,98.7 297.1,99.8 297.4,97.9 297.6,97.2 297.9,98.2 298.1,97.1 298.4,96.4 298.6,97.0 298.9,97.8 299.1,99.3 299.3,99.4 299.6,99.8 299.8,101.0 300.1,101.4 300.3,100.4 300.6,101.5 300.8,101.0 301.1,100.2 301.3,99.1 301.6,98.3 301.8,100.7 302.1,97.5 302.3,99.7 302.5,102.1 302.8,102.4 303.0,101.5 303.3,103.3 303.5,102.9 303.8,100.5 304.0,98.8 304.3,95.1 304.5,92.9 304.8,93.1 305.0,93.6 305.3,94.1 305.5,95.2 305.7,94.8 306.0,94.1 306.2,93.4 306.5,91.8 306.7,90.0 307.0,86.5 307.2,85.6 307.5,88.5 307.7,87.2 308.0,87.1 308.2,88.0 308.4,86.7 308.7,89.3 308.9,89.2 309.2,90.9 309.4,91.8 309.7,91.6 309.9,94.0 310.2,91.7 310.4,93.0 310.7,93.1 310.9,94.4 311.2,97.1 311.4,98.4 311.6,99.6 311.9,102.4 312.1,103.4 312.4,103.5 312.6,107.1 312.9,104.1 313.1,104.5 313.4,103.7 313.6,102.0 313.9,100.4 314.1,98.5 314.4,95.1 314.6,96.5 314.8,95.0 315.1,96.4 315.3,95.4 315.6,99.9 315.8,96.6 316.1,97.3 316.3,96.3 316.6,93.5 316.8,92.0 317.1,91.9 317.3,91.5 317.6,90.9 317.8,94.2 318.0,91.3 318.3,92.3 318.5,92.0 318.8,90.5 319.0,88.7 319.3,89.8 319.5,88.4 319.8,90.5 320.0,89.8 320.3,92.3 320.5,116.6 320.8,120.3 321.0,115.6 321.2,121.4 321.5,120.1 321.7,120.7 322.0,120.1 322.2,117.7 322.5,115.1 322.7,121.7 323.0,120.9 323.2,123.0 323.5,123.1 323.7,122.5 324.0,115.7 324.2,116.5 324.4,110.5 324.7,111.0 324.9,109.5 325.2,115.6 325.4,114.0 325.7,118.8 325.9,117.9 326.2,117.1 326.4,116.3 326.7,115.5 326.9,110.1 327.2,111.4 327.4,102.3 327.6,96.0 327.9,98.6 328.1,93.6 328.4,93.8 328.6,96.0 328.9,100.0 329.1,99.8 329.4,101.7 329.6,95.0 329.9,96.8 330.1,91.9 330.3,90.8 330.6,95.4 330.8,87.1 331.1,88.0 331.3,91.5 331.6,90.5 331.8,82.6 332.1,88.1 332.3,82.1 332.6,84.5 332.8,84.6 333.1,80.3 333.3,82.0 333.5,78.7 333.8,72.4 334.0,72.0 334.3,75.6 334.5,70.6 334.8,70.8 335.0,69.1 335.3,76.6 335.5,79.1 335.8,75.3 336.0,82.4 336.3,78.4 336.5,78.2 336.7,78.6 337.0,73.9 337.2,72.6 337.5,66.4 337.7,69.0 338.0,64.3 338.2,65.9 338.5,64.6 338.7,64.2 339.0,66.6 339.2,70.0 339.5,70.3 339.7,67.1 339.9,61.0 340.2,64.7 340.4,63.1 340.7,62.7 340.9,61.8 341.2,60.0 341.4,60.0 341.7,63.4 341.9,66.4 342.2,61.6 342.4,65.2 342.7,64.5 342.9,61.7 343.1,62.4 343.4,60.6 343.6,62.7 343.9,63.9 344.1,65.2 344.4,64.0 344.6,66.3 344.9,69.3 345.1,73.3 345.4,74.7 345.6,78.3 345.9,71.2 346.1,68.0 346.3,66.6 346.6,61.3 346.8,62.3 347.1,60.8 347.3,65.3 347.6,68.4 347.8,65.6 348.1,66.6 348.3,73.7 348.6,81.0 348.8,81.4 349.1,85.3 349.3,84.2 349.5,83.7 349.8,90.2 350.0,88.7 350.3,82.4 350.5,82.3 350.8,85.9 351.0,89.7 351.3,92.1 351.5,98.0 351.8,100.2 352.0,99.2 352.2,97.1 352.5,97.2 352.7,93.7 353.0,92.8 353.2,87.7 353.5,94.1 353.7,96.8 354.0,96.4 354.2,98.4 354.5,93.5 354.7,95.5 355.0,98.6 355.2,94.4 355.4,97.0 355.7,92.5 355.9,90.5 356.2,91.8 356.4,94.1 356.7,96.2 356.9,103.6 357.2,103.2 357.4,106.6 357.7,108.0 357.9,94.9 358.2,94.1 358.4,93.6 358.6,92.7 358.9,93.0 359.1,90.8 359.4,93.9 359.6,94.2 359.9,92.9 360.1,93.8 360.4,93.7 360.6,92.5 360.9,91.3 361.1,90.8 361.4,93.5 361.6,93.3 361.8,93.0 362.1,94.6 362.3,96.7 362.6,96.4 362.8,99.2 363.1,96.6 363.3,94.4 363.6,93.0 363.8,92.6 364.1,91.3 364.3,92.9 364.6,92.4 364.8,96.4 365.0,93.3 365.3,96.1 365.5,97.8 365.8,96.8 366.0,95.1 366.3,93.8 366.5,91.1 366.8,91.6 367.0,93.5 367.3,92.9 367.5,95.5 367.8,99.5 368.0,99.8 368.2,100.4 368.5,100.8 368.7,100.0 369.0,100.1 369.2,98.0 369.5,101.0 369.7,98.2 370.0,99.7 370.2,100.1 370.5,100.1 370.7,101.2 371.0,102.6 371.2,101.1 371.4,102.5 371.7,102.7 371.9,102.0 372.2,101.9 372.4,100.2 372.7,99.7 372.9,97.7 373.2,98.4 373.4,95.9 373.7,99.3 373.9,99.7 374.1,103.5 374.4,102.7 374.6,104.2 374.9,105.6 375.1,102.9 375.4,103.5 375.6,104.5 375.9,100.5 376.1,102.1 376.4,101.0 376.6,102.9 376.9,102.7 377.1,104.2 377.3,106.9 377.6,105.4 377.8,105.8 378.1,103.0 378.3,100.8 378.6,102.9 378.8,101.1 379.1,99.5 379.3,99.5 379.6,98.0 379.8,99.4 380.1,100.8 380.3,102.3 380.5,103.5 380.8,103.0 381.0,104.2 381.3,105.4 381.5,104.8 381.8,106.3 382.0,106.3 382.3,105.4 382.5,109.0 382.8,107.0 383.0,112.1 383.3,112.8 383.5,114.8 383.7,117.3 384.0,120.5 384.2,120.4 384.5,122.9 384.7,123.9 385.0,124.3 385.2,126.4 385.5,125.5 385.7,126.7 386.0,128.2 386.2,125.8 386.5,121.8 386.7,122.3 386.9,121.2 387.2,121.6 387.4,122.0 387.7,124.4 387.9,122.3 388.2,121.7 388.4,121.8 388.7,120.9 388.9,118.1 389.2,119.3 389.4,118.1 389.7,116.9 389.9,117.0 390.1,113.2 390.4,115.7 390.6,115.7 390.9,115.2 391.1,116.7 391.4,115.7 391.6,116.2 391.9,116.0 392.1,117.1 392.4,114.8 392.6,114.3 392.9,115.5 393.1,112.3 393.3,113.2 393.6,110.7 393.8,109.3 394.1,108.7 394.3,108.8 394.6,109.5 394.8,109.6 395.1,109.9 395.3,110.9 395.6,109.7 395.8,108.9 396.1,109.0 396.3,107.5 396.5,107.3 396.8,109.2 397.0,107.6 397.3,109.9 397.5,108.3 397.8,109.9 398.0,109.3 398.3,107.9 398.5,110.1 398.8,106.8 399.0,107.2 399.2,105.9 399.5,106.0 399.7,104.2 400.0,103.9 400.2,105.3 400.5,105.4 400.7,101.7 401.0,103.4 401.2,106.2 401.5,102.2 401.7,102.9 402.0,100.5 402.2,100.4 402.4,98.6 402.7,95.8 402.9,95.8 403.2,97.4 403.4,99.7 403.7,100.4 403.9,100.5 404.2,98.4 404.4,97.8 404.7,96.6 404.9,94.5 405.2,94.2 405.4,94.5 405.6,95.7 405.9,96.5 406.1,96.7 406.4,96.3 406.6,95.1 406.9,93.9 407.1,93.7 407.4,94.3 407.6,96.9 407.9,98.1 408.1,98.5 408.4,101.7 408.6,123.3 408.8,125.9 409.1,121.4 409.3,121.6 409.6,112.6 409.8,113.7 410.1,118.2 410.3,114.2 410.6,117.9 410.8,114.3 411.1,117.0 411.3,116.4 411.6,116.2 411.8,120.6 412.0,121.9 412.3,113.8 412.5,113.7 412.8,111.8 413.0,117.8 413.3,114.0 413.5,114.3 413.8,115.3 414.0,115.2 414.3,116.4 414.5,116.7 414.8,119.0 415.0,112.5 415.2,106.8 415.5,111.4 415.7,107.1 416.0,102.0 416.2,102.3 416.5,104.9 416.7,105.9 417.0,106.8 417.2,105.3 417.5,110.9 417.7,111.3 418.0,104.2 418.2,106.9 418.4,101.9 418.7,99.4 418.9,100.2 419.2,105.0 419.4,109.6 419.7,112.7 419.9,118.8 420.2,114.3 420.4,109.1 420.7,112.1 420.9,107.2 421.1,109.4 421.4,105.2 421.6,102.8 421.9,110.6 422.1,106.7 422.4,114.1 422.6,120.7 422.9,120.6 423.1,120.4 423.4,119.5 423.6,113.8 423.9,113.1 424.1,112.9 424.3,108.7 424.6,100.8 424.8,112.4 425.1,105.9 425.3,111.1 425.6,119.2 425.8,116.0 426.1,116.0 426.3,116.0 426.6,111.5 426.8,105.8 427.1,103.9 427.3,98.2 427.5,92.0 427.8,89.1 428.0,92.6 428.3,95.5 428.5,103.3 428.8,107.4 429.0,104.7 429.3,107.3 429.5,100.2 429.8,98.3 430.0,96.1 430.3,93.1 430.5,93.1 430.7,86.4 431.0,90.8 431.2,91.4 431.5,91.4 431.7,98.1 432.0,95.3 432.2,92.4 432.5,91.1 432.7,90.1 433.0,92.4 433.2,83.3 433.5,89.7 433.7,89.6 433.9,97.3 434.2,98.8 434.4,99.2 434.7,99.4 434.9,103.6 435.2,99.2 435.4,96.6 435.7,93.1 435.9,88.2 436.2,84.9 436.4,91.3 436.7,95.0 436.9,99.0 437.1,110.9 437.4,105.2 437.6,106.3 437.9,100.3 438.1,105.3 438.4,99.0 438.6,102.6 438.9,97.2 439.1,98.8 439.4,101.9 439.6,109.8 439.9,105.4 440.1,107.6 440.3,109.3 440.6,105.9 440.8,110.3 441.1,102.5 441.3,102.5 441.6,97.9 441.8,101.0 442.1,100.6 442.3,104.7 442.6,106.6 442.8,108.1 443.0,110.9 443.3,110.6 443.5,108.6 443.8,106.5 444.0,104.8 444.3,99.3 444.5,102.1 444.8,103.7 445.0,110.0 445.3,113.6 445.5,120.5 445.8,116.7 446.0,112.0 446.2,109.6 446.5,111.8 446.7,107.4 447.0,106.6 447.2,105.4 447.5,105.7 447.7,112.6 448.0,116.1 448.2,116.4 448.5,121.0 448.7,121.2 449.0,116.3 449.2,110.2 449.4,107.9 449.7,104.0 449.9,106.1 450.2,96.8 450.4,98.5 450.7,105.2 450.9,112.9 451.2,116.9 451.4,121.4 451.7,122.9 451.9,120.8 452.2,115.0 452.4,109.9 452.4,180.0 48.6,180.0"/>
</g>
<g>
<polygon fill="#727272" points="48.6,257.6 48.8,256.2 49.1,256.4 49.3,247.4 49.6,242.8 49.8,239.8 50.1,245.1 50.3,247.3 50.6,259.3 50.8,261.2 51.1,259.2 51.3,254.7 51.6,247.2 51.8,246.1 52.0,242.9 52.3,249.8 52.5,247.6 52.8,260.8 53.0,264.4 53.3,265.8 53.5,261.9 53.8,256.6 54.0,247.6 54.3,249.1 54.5,251.9 54.8,255.0 55.0,255.9 55.2,264.2 55.5,265.1 55.7,268.3 56.0,266.3 56.2,262.5 56.5,256.4 56.7,257.8 57.0,253.3 57.2,253.4 57.5,253.6 57.7,248.1 58.0,249.5 58.2,249.4 58.4,253.3 58.7,254.3 58.9,252.3 59.2,247.1 59.4,249.5 59.7,246.0 59.9,242.4 60.2,237.2 60.4,233.5 60.7,234.2 60.9,238.1 61.1,236.3 61.4,230.8 61.6,228.5 61.9,234.4 62.1,234.8 62.4,249.0 62.6,254.2 62.9,258.4 63.1,255.4 63.4,248.0 63.6,252.8 63.9,255.0 64.1,246.5 64.3,255.5 64.6,258.8 64.8,260.8 65.1,251.9 65.3,248.7 65.6,239.3 65.8,250.2 66.1,256.6 66.3,259.4 66.6,251.5 66.8,255.4 67.1,253.8 67.3,254.7 67.5,256.6 67.8,248.1 68.0,248.2 68.3,250.5 68.5,244.8 68.8,250.5 69.0,247.4 69.3,249.3 69.5,249.1 69.8,252.1 70.0,249.5 70.3,248.8 70.5,238.5 70.7,246.9 71.0,247.1 71.2,245.3 71.5,246.8 71.7,243.0 72.0,243.8 72.2,237.2 72.5,234.0 72.7,237.1 73.0,245.6 73.2,240.5 73.5,237.8 73.7,243.3 73.9,231.2 74.2,225.2 74.4,215.7 74.7,210.2 74.9,226.0 75.2,226.7 75.4,224.8 75.7,219.7 75.9,213.9 76.2,210.4 76.4,221.8 76.7,230.0 76.9,238.2 77.1,240.4 77.4,231.5 77.6,236.4 77.9,237.7 78.1,231.6 78.4,230.8 78.6,231.6 78.9,236.1 79.1,235.8 79.4,243.9 79.6,243.7 79.9,244.6 80.1,247.5 80.3,241.2 80.6,238.8 80.8,236.5 81.1,234.8 81.3,233.8 81.6,226.3 81.8,235.5 82.1,233.1 82.3,230.4 82.6,223.2 82.8,224.4 83.0,223.0 83.3,222.3 83.5,227.0 83.8,229.8 84.0,227.5 84.3,225.9 84.5,228.0 84.8,215.2 85.0,213.8 85.3,220.6 85.5,223.1 85.8,223.3 86.0,228.8 86.2,229.2 86.5,233.3 86.7,242.2 87.0,232.3 87.2,237.5 87.5,236.5 87.7,246.4 88.0,248.3 88.2,247.3 88.5,248.7 88.7,244.6 89.0,251.2 89.2,247.9 89.4,247.1 89.7,249.2 89.9,247.8 90.2,244.4 90.4,241.9 90.7,244.6 90.9,243.6 91.2,241.5 91.4,244.4 91.7,244.9 91.9,246.0 92.2,242.5 92.4,245.3 92.6,241.0 92.9,243.9 93.1,233.8 93.4,238.6 93.6,231.0 93.9,232.4 94.1,230.3 94.4,240.6 94.6,249.1 94.9,247.5 95.1,247.2 95.4,246.6 95.6,244.3 95.8,242.7 96.1,241.9 96.3,240.7 96.6,241.8 96.8,241.9 97.1,241.5 97.3,243.7 97.6,244.6 97.8,243.4 98.1,244.7 98.3,244.8 98.6,243.4 98.8,242.1 99.0,240.9 99.3,239.9 99.5,239.0 99.8,237.9 100.0,238.0 100.3,238.3 100.5,238.6 100.8,237.7 101.0,238.1 101.3,237.2 101.5,236.4 101.8,234.6 102.0,233.5 102.2,232.9 102.5,232.0 102.7,231.6 103.0,231.8 103.2,230.2 103.5,230.4 103.7,228.1 104.0,229.2 104.2,229.1 104.5,228.8 104.7,231.1 104.9,229.7 105.2,231.9 105.4,234.1 105.7,235.8 105.9,236.5 106.2,236.6 106.4,238.6 106.7,238.8 106.9,237.8 107.2,236.2 107.4,235.9 107.7,235.7 107.9,236.6 108.1,237.1 108.4,238.1 108.6,239.6 108.9,240.8 109.1,242.7 109.4,244.3 109.6,244.3 109.9,243.9 110.1,244.0 110.4,244.1 110.6,243.4 110.9,243.3 111.1,242.1 111.3,241.6 111.6,243.0 111.8,245.3 112.1,246.3 112.3,246.0 112.6,248.9 112.8,249.7 113.1,250.0 113.3,248.4 113.6,247.2 113.8,246.4 114.1,242.8 114.3,241.5 114.5,240.1 114.8,240.0 115.0,241.2 115.3,241.7 115.5,241.3 115.8,240.9 116.0,240.9 116.3,241.2 116.5,240.7 116.8,241.0 117.0,240.9 117.3,238.8 117.5,238.9 117.7,237.9 118.0,237.3 118.2,236.3 118.5,234.8 118.7,233.6 119.0,234.1 119.2,236.0 119.5,236.6 119.7,237.5 120.0,239.7 120.2,241.0 120.5,242.1 120.7,239.8 120.9,242.5 121.2,240.8 121.4,240.9 121.7,242.3 121.9,243.0 122.2,242.5 122.4,242.6 122.7,243.4 122.9,242.3 123.2,242.7 123.4,241.6 123.7,240.8 123.9,240.4 124.1,239.7 124.4,239.3 124.6,242.2 124.9,241.5 125.1,241.5 125.4,240.7 125.6,239.1 125.9,236.8 126.1,235.1 126.4,235.4 126.6,235.0 126.9,234.8 127.1,234.1 127.3,236.6 127.6,238.2 127.8,240.4 128.1,240.8 128.3,239.5 128.6,240.8 128.8,239.3 129.1,238.9 129.3,238.2 129.6,238.0 129.8,236.8 130.0,235.3 130.3,235.6 130.5,237.4 130.8,237.7 131.0,238.3 131.3,239.2 131.5,239.8 131.8,238.9 132.0,238.6 132.3,237.4 132.5,237.0 132.8,236.1 133.0,236.4 133.2,236.9 133.5,237.6 133.7,239.1 134.0,239.2 134.2,240.3 134.5,242.8 134.7,243.8 135.0,242.6 135.2,243.7 135.5,241.5 135.7,242.0 136.0,241.7 136.2,241.9 136.4,242.6 136.7,243.9 136.9,241.4 137.2,243.3 137.4,243.8 137.7,223.3 137.9,228.7 138.2,227.9 138.4,221.7 138.7,223.1 138.9,227.8 139.2,230.5 139.4,232.1 139.6,233.0 139.9,234.9 140.1,233.9 140.4,231.0 140.6,238.0 140.9,240.3 141.1,242.2 141.4,240.6 141.6,244.2 141.9,242.7 142.1,240.3 142.4,238.5 142.6,229.6 142.8,229.0 143.1,224.0 143.3,224.9 143.6,227.4 143.8,228.5 144.1,228.9 144.3,229.6 144.6,227.2 144.8,218.0 145.1,217.4 145.3,210.1 145.6,214.6 145.8,208.2 146.0,208.4 146.3,216.1 146.5,222.5 146.8,228.2 147.0,233.5 147.3,232.7 147.5,228.7 147.8,229.4 148.0,231.3 148.3,231.1 148.5,231.4 148.8,230.5 149.0,238.1 149.2,235.4 149.5,239.8 149.7,237.3 150.0,233.1 150.2,235.9 150.5,230.5 150.7,234.5 151.0,233.5 151.2,234.2 151.5,226.3 151.7,226.9 151.9,223.8 152.2,223.9 152.4,222.0 152.7,221.9 152.9,220.2 153.2,222.2 153.4,222.2 153.7,220.0 153.9,222.3 154.2,221.6 154.4,224.9 154.7,227.0 154.9,228.6 155.1,223.2 155.4,227.2 155.6,226.5 155.9,227.2 156.1,223.1 156.4,228.8 156.6,227.5 156.9,226.3 157.1,228.5 157.4,225.4 157.6,231.6 157.9,231.5 158.1,226.1 158.3,225.2 158.6,226.2 158.8,223.1 159.1,223.0 159.3,216.7 159.6,218.3 159.8,221.8 160.1,223.9 160.3,217.2 160.6,215.9 160.8,217.4 161.1,216.1 161.3,211.5 161.5,214.1 161.8,215.1 162.0,219.3 162.3,216.1 162.5,217.3 162.8,215.9 163.0,206.1 163.3,202.6 163.5,210.8 163.8,212.6 164.0,214.9 164.3,216.1 164.5,212.6 164.7,214.5 165.0,216.9 165.2,213.4 165.5,215.0 165.7,219.9 166.0,222.0 166.2,223.7 166.5,221.3 166.7,222.2 167.0,219.1 167.2,223.4 167.5,225.2 167.7,231.6 167.9,233.8 168.2,236.6 168.4,237.9 168.7,233.7 168.9,239.4 169.2,237.0 169.4,235.5 169.7,239.5 169.9,242.7 170.2,245.2 170.4,250.1 170.7,250.2 170.9,247.5 171.1,244.2 171.4,244.3 171.6,242.3 171.9,243.7 172.1,238.5 172.4,245.5 172.6,246.1 172.9,252.9 173.1,254.7 173.4,254.6 173.6,253.6 173.8,252.4 174.1,252.7 174.3,247.2 174.6,249.2 174.8,243.9 175.1,252.2 175.3,256.5 175.6,259.1 175.8,261.2 176.1,257.8 176.3,259.5 176.6,251.1 176.8,249.8 177.0,247.8 177.3,242.1 177.5,241.5 177.8,242.6 178.0,247.7 178.3,247.0 178.5,248.1 178.8,251.4 179.0,246.3 179.3,246.9 179.5,248.0 179.8,246.8 180.0,245.2 180.2,249.9 180.5,243.9 180.7,242.8 181.0,236.5 181.2,230.6 181.5,233.2 181.7,231.3 182.0,233.8 182.2,233.4 182.5,234.5 182.7,253.1 183.0,254.9 183.2,256.9 183.4,257.3 183.7,258.3 183.9,256.1 184.2,256.4 184.4,256.6 184.7,256.7 184.9,256.4 185.2,257.8 185.4,259.0 185.7,258.4 185.9,259.4 186.2,261.3 186.4,261.9 186.6,263.8 186.9,264.0 187.1,265.9 187.4,268.3 187.6,270.8 187.9,270.4 188.1,272.5 188.4,274.3 188.6,274.4 188.9,275.0 189.1,275.1 189.4,274.3 189.6,276.6 189.8,277.4 190.1,279.4 190.3,281.1 190.6,283.5 190.8,283.9 191.1,284.8 191.3,285.3 191.6,287.3 191.8,288.2 192.1,289.8 192.3,288.5 192.6,289.2 192.8,290.5 193.0,289.5 193.3,290.3 193.5,290.2 193.8,290.1 194.0,290.7 194.3,292.1 194.5,291.9 194.8,292.4 195.0,293.3 195.3,292.5 195.5,295.0 195.7,295.2 196.0,294.2 196.2,295.0 196.5,293.5 196.7,292.6 197.0,291.8 197.2,289.9 197.5,290.7 197.7,291.5 198.0,290.0 198.2,290.8 198.5,292.5 198.7,293.3 198.9,294.6 199.2,295.0 199.4,297.1 199.7,297.7 199.9,297.2 200.2,296.1 200.4,294.3 200.7,293.0 200.9,292.9 201.2,293.4 201.4,292.6 201.7,294.1 201.9,294.1 202.1,294.9 202.4,293.8 202.6,292.9 202.9,292.9 203.1,293.3 203.4,293.0 203.6,291.4 203.9,290.9 204.1,289.5 204.4,290.3 204.6,290.9 204.9,289.1 205.1,286.5 205.3,286.3 205.6,284.6 205.8,283.3 206.1,284.0 206.3,284.6 206.6,285.6 206.8,285.6 207.1,285.5 207.3,285.3 207.6,284.2 207.8,282.2 208.1,281.6 208.3,280.6 208.5,278.6 208.8,279.2 209.0,280.1 209.3,281.1 209.5,280.4 209.8,281.1 210.0,280.7 210.3,280.6 210.5,280.5 210.8,277.8 211.0,278.1 211.3,277.1 211.5,275.7 211.7,276.6 212.0,276.3 212.2,276.9 212.5,275.7 212.7,274.8 213.0,274.9 213.2,273.0 213.5,273.9 213.7,275.2 214.0,276.0 214.2,275.9 214.5,277.3 214.7,277.2 214.9,275.6 215.2,275.6 215.4,275.0 215.7,273.3 215.9,273.5 216.2,273.2 216.4,273.4 216.7,273.9 216.9,272.9 217.2,273.2 217.4,273.9 217.6,275.0 217.9,275.5 218.1,272.7 218.4,273.2 218.6,272.5 218.9,270.5 219.1,270.7 219.4,267.8 219.6,267.2 219.9,266.8 220.1,267.4 220.4,267.1 220.6,266.9 220.8,268.5 221.1,268.9 221.3,268.6 221.6,268.7 221.8,268.9 222.1,269.4 222.3,268.4 222.6,254.8 222.8,228.8 223.1,231.0 223.3,232.5 223.6,226.6 223.8,235.8 224.0,230.7 224.3,232.7 224.5,227.5 224.8,227.2 225.0,231.8 225.3,231.8 225.5,231.7 225.8,228.2 226.0,225.3 226.3,226.1 226.5,226.0 226.8,222.6 227.0,217.1 227.2,228.3 227.5,224.1 227.7,219.3 228.0,229.6 228.2,230.5 228.5,227.9 228.7,215.2 229.0,213.3 229.2,208.7 229.5,213.5 229.7,214.4 230.0,212.7 230.2,212.5 230.4,216.1 230.7,203.3 230.9,210.4 231.2,210.9 231.4,198.5 231.7,203.0 231.9,209.4 232.2,217.9 232.4,223.1 232.7,221.4 232.9,212.8 233.2,206.3 233.4,207.6 233.6,204.3 233.9,201.5 234.1,203.7 234.4,200.2 234.6,198.0 234.9,197.8 235.1,197.4 235.4,194.6 235.6,198.0 235.9,194.6 236.1,194.6 236.4,194.6 236.6,199.4 236.8,202.4 237.1,204.2 237.3,205.2 237.6,198.1 237.8,200.6 238.1,201.2 238.3,201.6 238.6,198.0 238.8,203.5 239.1,208.3 239.3,208.1 239.5,211.2 239.8,216.2 240.0,210.6 240.3,206.5 240.5,203.1 240.8,198.4 241.0,196.7 241.3,208.7 241.5,206.8 241.8,210.5 242.0,206.4 242.3,201.6 242.5,194.6 242.7,194.6 243.0,194.6 243.2,197.6 243.5,202.5 243.7,201.9 244.0,198.4 244.2,202.8 244.5,210.6 244.7,211.2 245.0,211.4 245.2,208.7 245.5,204.3 245.7,208.9 245.9,205.5 246.2,209.6 246.4,210.4 246.7,213.9 246.9,209.4 247.2,218.8 247.4,214.7 247.7,218.5 247.9,211.8 248.2,210.6 248.4,212.5 248.7,210.4 248.9,207.5 249.1,216.6 249.4,209.7 249.6,208.7 249.9,214.6 250.1,207.0 250.4,205.3 250.6,211.8 250.9,213.8 251.1,214.5 251.4,213.2 251.6,216.7 251.9,213.3 252.1,210.8 252.3,209.8 252.6,211.3 252.8,213.3 253.1,213.2 253.3,217.3 253.6,223.1 253.8,222.7 254.1,224.8 254.3,219.5 254.6,224.1 254.8,225.7 255.1,221.8 255.3,220.5 255.5,223.4 255.8,225.1 256.0,222.9 256.3,224.3 256.5,221.4 256.8,211.9 257.0,213.7 257.3,215.7 257.5,215.8 257.8,221.4 258.0,218.8 258.3,225.4 258.5,225.0 258.7,223.1 259.0,221.7 259.2,222.3 259.5,221.1 259.7,219.3 260.0,223.4 260.2,226.4 260.5,217.7 260.7,226.6 261.0,227.0 261.2,223.9 261.5,220.3 261.7,221.6 261.9,229.3 262.2,234.2 262.4,230.0 262.7,235.9 262.9,236.4 263.2,234.5 263.4,227.5 263.7,224.4 263.9,231.6 264.2,229.7 264.4,236.6 264.6,234.5 264.9,235.8 265.1,235.2 265.4,239.6 265.6,236.4 265.9,239.9 266.1,237.1 266.4,236.3 266.6,244.4 266.9,244.6 267.1,245.4 267.4,248.2 267.6,246.2 267.8,244.8 268.1,245.8 268.3,246.7 268.6,243.4 268.8,241.2 269.1,240.0 269.3,237.7 269.6,242.1 269.8,242.6 270.1,247.6 270.3,241.7 270.6,244.5 270.8,243.5 271.0,242.7 271.3,243.0 271.5,237.6 271.8,240.4 272.0,248.7 272.3,250.4 272.5,251.1 272.8,246.2 273.0,248.0 273.3,248.2 273.5,243.4 273.8,244.6 274.0,243.7 274.2,240.5 274.5,247.8 274.7,248.3 275.0,249.7 275.2,249.2 275.5,248.1 275.7,248.4 276.0,246.5 276.2,244.9 276.5,244.5 276.7,244.8 277.0,245.5 277.2,244.4 277.4,244.5 277.7,244.5 277.9,244.1 278.2,244.3 278.4,243.4 278.7,243.0 278.9,244.0 279.2,243.9 279.4,245.4 279.7,245.4 279.9,244.5 280.2,246.4 280.4,245.7 280.6,244.4 280.9,247.3 281.1,248.1 281.4,248.2 281.6,250.2 281.9,250.7 282.1,252.7 282.4,252.2 282.6,252.9 282.9,253.5 283.1,256.6 283.4,257.5 283.6,258.4 283.8,258.8 284.1,258.1 284.3,255.8 284.6,252.7 284.8,251.7 285.1,249.7 285.3,248.6 285.6,249.2 285.8,248.3 286.1,248.0 286.3,247.6 286.5,247.0 286.8,246.1 287.0,245.4 287.3,243.9 287.5,243.4 287.8,241.3 288.0,240.1 288.3,241.4 288.5,244.4 288.8,245.9 289.0,247.1 289.3,249.0 289.5,250.6 289.7,254.5 290.0,257.0 290.2,256.4 290.5,257.9 290.7,258.7 291.0,258.5 291.2,256.2 291.5,256.8 291.7,254.3 292.0,254.9 292.2,253.3 292.5,252.4 292.7,250.5 292.9,252.6 293.2,252.4 293.4,251.5 293.7,251.3 293.9,251.5 294.2,251.1 294.4,248.7 294.7,248.1 294.9,247.8 295.2,247.5 295.4,247.4 295.7,245.8 295.9,247.2 296.1,248.4 296.4,249.0 296.6,251.1 296.9,252.7 297.1,254.3 297.4,256.6 297.6,254.6 297.9,256.1 298.1,254.8 298.4,254.8 298.6,253.5 298.9,253.5 299.1,252.2 299.3,253.7 299.6,252.2 299.8,253.8 300.1,252.0 300.3,253.6 300.6,253.8 300.8,255.4 301.1,255.1 301.3,256.8 301.6,256.6 301.8,255.7 302.1,253.2 302.3,253.0 302.5,250.8 302.8,250.0 303.0,249.9 303.3,250.6 303.5,248.4 303.8,247.9 304.0,249.8 304.3,249.4 304.5,247.7 304.8,244.5 305.0,243.3 305.3,240.5 305.5,237.0 305.7,235.8 306.0,237.1 306.2,238.5 306.5,238.0 306.7,238.0 307.0,239.4 307.2,237.9 307.5,235.4 307.7,235.4 308.0,232.3 308.2,230.2 308.4,227.4 308.7,227.5 308.9,226.4 309.2,227.6 309.4,227.3 309.7,229.8 309.9,230.8 310.2,234.9 310.4,237.9 310.7,242.4 310.9,245.8 311.2,246.9 311.4,251.5 311.6,253.7 311.9,256.2 312.1,260.2 312.4,264.2 312.6,269.4 312.9,269.1 313.1,269.3 313.4,268.8 313.6,268.3 313.9,264.3 314.1,262.0 314.4,259.5 314.6,256.7 314.8,256.8 315.1,254.6 315.3,255.1 315.6,254.7 315.8,254.3 316.1,253.5 316.3,251.5 316.6,250.0 316.8,249.9 317.1,248.7 317.3,248.9 317.6,247.5 317.8,245.1 318.0,244.4 318.3,243.4 318.5,241.3 318.8,240.2 319.0,238.2 319.3,239.6 319.5,239.4 319.8,240.5 320.0,240.2 320.3,239.1 320.5,228.6 320.8,229.4 321.0,225.5 321.2,224.3 321.5,221.0 321.7,221.1 322.0,224.3 322.2,223.6 322.5,224.8 322.7,220.5 323.0,216.3 323.2,212.6 323.5,209.0 323.7,209.8 324.0,209.5 324.2,211.5 324.4,211.0 324.7,210.7 324.9,211.7 325.2,210.5 325.4,200.7 325.7,207.6 325.9,203.5 326.2,207.7 326.4,215.9 326.7,217.0 326.9,215.2 327.2,225.0 327.4,219.5 327.6,223.8 327.9,223.5 328.1,220.6 328.4,219.3 328.6,216.7 328.9,208.1 329.1,215.0 329.4,215.3 329.6,215.0 329.9,218.8 330.1,223.1 330.3,227.0 330.6,228.7 330.8,229.0 331.1,225.8 331.3,226.7 331.6,227.5 331.8,233.5 332.1,235.7 332.3,237.2 332.6,236.1 332.8,233.0 333.1,231.2 333.3,232.4 333.5,231.9 333.8,228.2 334.0,219.6 334.3,218.8 334.5,229.2 334.8,234.7 335.0,240.9 335.3,241.4 335.5,238.9 335.8,236.3 336.0,236.3 336.3,229.9 336.5,229.2 336.7,225.5 337.0,231.5 337.2,230.4 337.5,236.3 337.7,231.4 338.0,223.0 338.2,221.6 338.5,215.7 338.7,221.9 339.0,223.9 339.2,224.2 339.5,232.4 339.7,231.8 339.9,233.3 340.2,232.0 340.4,231.1 340.7,226.9 340.9,223.9 341.2,222.6 341.4,218.0 341.7,223.6 341.9,227.0 342.2,227.1 342.4,222.2 342.7,217.5 342.9,210.6 343.1,214.6 343.4,207.0 343.6,214.2 343.9,218.6 344.1,219.6 344.4,223.8 344.6,228.9 344.9,230.2 345.1,237.3 345.4,232.9 345.6,233.4 345.9,234.2 346.1,232.9 346.3,229.6 346.6,230.9 346.8,233.1 347.1,237.8 347.3,238.8 347.6,243.5 347.8,244.2 348.1,238.8 348.3,237.4 348.6,230.4 348.8,233.2 349.1,240.4 349.3,248.0 349.5,247.4 349.8,249.2 350.0,243.6 350.3,246.0 350.5,242.2 350.8,241.2 351.0,236.1 351.3,241.6 351.5,239.0 351.8,239.2 352.0,241.8 352.2,245.3 352.5,248.3 352.7,244.9 353.0,252.3 353.2,245.7 353.5,245.8 353.7,248.6 354.0,243.4 354.2,236.5 354.5,239.1 354.7,244.9 355.0,243.0 355.2,250.8 355.4,251.9 355.7,251.1 355.9,253.3 356.2,258.4 356.4,256.6 356.7,257.2 356.9,253.1 357.2,252.6 357.4,249.9 357.7,252.7 357.9,255.8 358.2,256.1 358.4,256.5 358.6,256.8 358.9,256.0 359.1,255.8 359.4,256.2 359.6,256.5 359.9,256.8 360.1,257.7 360.4,257.2 360.6,257.9 360.9,255.9 361.1,256.3 361.4,254.0 361.6,253.8 361.8,253.0 362.1,253.3 362.3,253.4 362.6,253.5 362.8,254.4 363.1,255.8 363.3,255.4 363.6,253.8 363.8,253.9 364.1,253.5 364.3,252.8 364.6,252.5 364.8,251.6 365.0,252.9 365.3,252.4 365.5,255.2 365.8,255.8 366.0,255.5 366.3,254.1 366.5,253.5 366.8,254.1 367.0,254.9 367.3,254.7 367.5,255.6 367.8,255.6 368.0,254.4 368.2,254.9 368.5,254.9 368.7,255.2 369.0,256.3 369.2,257.2 369.5,257.9 369.7,258.3 370.0,257.7 370.2,258.4 370.5,258.1 370.7,257.5 371.0,258.5 371.2,258.0 371.4,257.6 371.7,255.2 371.9,256.0 372.2,253.7 372.4,253.7 372.7,254.1 372.9,254.8 373.2,256.7 373.4,257.8 373.7,259.6 373.9,259.8 374.1,260.0 374.4,258.7 374.6,256.2 374.9,256.7 375.1,256.0 375.4,256.3 375.6,256.6 375.9,257.8 376.1,259.6 376.4,260.1 376.6,259.3 376.9,260.1 377.1,260.8 377.3,259.8 377.6,259.6 377.8,258.9 378.1,259.9 378.3,259.5 378.6,258.6 378.8,257.9 379.1,258.4 379.3,258.3 379.6,258.9 379.8,259.3 380.1,257.5 380.3,259.1 380.5,258.5 380.8,258.9 381.0,258.9 381.3,257.0 381.5,256.6 381.8,258.3 382.0,258.2 382.3,265.1 382.5,270.6 382.8,275.5 383.0,280.9 383.3,282.5 383.5,282.4 383.7,284.4 384.0,284.3 384.2,285.2 384.5,285.8 384.7,287.7 385.0,289.2 385.2,288.0 385.5,288.3 385.7,287.8 386.0,286.4 386.2,285.7 386.5,284.3 386.7,282.3 386.9,282.3 387.2,280.0 387.4,280.7 387.7,278.9 387.9,279.6 388.2,280.0 388.4,278.9 388.7,279.5 388.9,279.4 389.2,277.8 389.4,275.8 389.7,276.0 389.9,274.1 390.1,275.4 390.4,275.9 390.6,276.1 390.9,276.4 391.1,275.9 391.4,277.3 391.6,277.0 391.9,278.1 392.1,276.3 392.4,275.8 392.6,273.7 392.9,271.9 393.1,272.5 393.3,272.6 393.6,272.0 393.8,271.1 394.1,271.3 394.3,270.7 394.6,269.6 394.8,267.4 395.1,267.7 395.3,267.2 395.6,268.1 395.8,270.0 396.1,270.5 396.3,271.1 396.5,270.3 396.8,268.5 397.0,267.8 397.3,265.1 397.5,263.7 397.8,262.2 398.0,262.8 398.3,263.1 398.5,263.0 398.8,262.9 399.0,262.9 399.2,263.8 399.5,263.1 399.7,261.2 400.0,259.0 400.2,257.3 400.5,256.2 400.7,253.9 401.0,251.3 401.2,249.6 401.5,251.3 401.7,251.7 402.0,251.3 402.2,252.2 402.4,252.9 402.7,253.1 402.9,252.6 403.2,251.5 403.4,249.8 403.7,246.9 403.9,247.0 404.2,247.8 404.4,247.2 404.7,247.3 404.9,247.1 405.2,245.9 405.4,243.4 405.6,242.4 405.9,240.5 406.1,241.0 406.4,241.9 406.6,242.6 406.9,242.8 407.1,241.4 407.4,240.8 407.6,239.9 407.9,238.8 408.1,238.5 408.4,236.2 408.6,221.0 408.8,218.3 409.1,217.0 409.3,218.5 409.6,218.7 409.8,219.6 410.1,212.0 410.3,220.5 410.6,222.2 410.8,217.6 411.1,220.6 411.3,229.1 411.6,224.0 411.8,229.9 412.0,232.3 412.3,231.9 412.5,228.3 412.8,230.6 413.0,233.1 413.3,232.6 413.5,229.0 413.8,235.1 414.0,233.6 414.3,233.6 414.5,235.5 414.8,236.0 415.0,236.6 415.2,235.9 415.5,233.4 415.7,228.3 416.0,231.3 416.2,228.2 416.5,223.8 416.7,223.8 417.0,220.7 417.2,215.5 417.5,222.7 417.7,219.2 418.0,223.2 418.2,221.6 418.4,215.2 418.7,224.8 418.9,222.5 419.2,220.4 419.4,225.9 419.7,226.0 419.9,230.2 420.2,232.6 420.4,230.3 420.7,233.1 420.9,228.2 421.1,230.1 421.4,230.3 421.6,231.6 421.9,230.5 422.1,224.9 422.4,230.6 422.6,233.1 422.9,234.5 423.1,234.9 423.4,242.9 423.6,242.0 423.9,237.4 424.1,233.4 424.3,229.4 424.6,226.9 424.8,233.7 425.1,232.6 425.3,235.9 425.6,234.3 425.8,231.9 426.1,227.9 426.3,227.0 426.6,226.3 426.8,220.9 427.1,221.2 427.3,229.1 427.5,227.7 427.8,230.2 428.0,230.0 428.3,228.4 428.5,227.7 428.8,223.4 429.0,222.8 429.3,223.7 429.5,219.9 429.8,219.9 430.0,221.5 430.3,216.7 430.5,220.3 430.7,224.8 431.0,221.4 431.2,220.1 431.5,218.5 431.7,214.9 432.0,211.0 432.2,217.1 432.5,215.9 432.7,215.3 433.0,220.1 433.2,217.9 433.5,221.3 433.7,222.7 433.9,222.7 434.2,219.4 434.4,217.3 434.7,215.7 434.9,213.0 435.2,211.4 435.4,215.8 435.7,219.2 435.9,223.4 436.2,223.8 436.4,224.8 436.7,221.2 436.9,227.6 437.1,226.5 437.4,224.5 437.6,226.7 437.9,224.0 438.1,224.3 438.4,226.3 438.6,222.5 438.9,223.5 439.1,225.0 439.4,227.1 439.6,224.9 439.9,229.4 440.1,227.8 440.3,231.6 440.6,229.7 440.8,230.1 441.1,230.8 441.3,225.3 441.6,229.0 441.8,222.8 442.1,219.3 442.3,221.3 442.6,223.2 442.8,226.8 443.0,230.3 443.3,234.4 443.5,238.6 443.8,236.4 444.0,235.0 444.3,233.0 444.5,227.6 444.8,227.4 445.0,224.7 445.3,224.8 445.5,232.6 445.8,227.0 446.0,231.0 446.2,232.0 446.5,231.1 446.7,229.8 447.0,234.0 447.2,235.2 447.5,238.0 447.7,237.5 448.0,236.6 448.2,239.7 448.5,237.0 448.7,238.9 449.0,240.4 449.2,240.8 449.4,240.7 449.7,246.3 449.9,238.4 450.2,243.9 450.4,244.0 450.7,246.6 450.9,249.5 451.2,246.0 451.4,247.8 451.7,244.7 451.9,246.4 452.2,244.3 452.4,243.9 452.4,370.6 48.6,370.6"/>
<polygon fill="#dcaa8c" points="48.6,260.2 48.8,260.6 49.1,261.9 49.3,255.0 49.6,252.3 49.8,249.9 50.1,254.7 50.3,256.5 50.6,264.4 50.8,265.9 51.1,263.7 51.3,262.2 51.6,255.3 51.8,254.9 52.0,252.8 52.3,257.8 52.5,255.3 52.8,265.0 53.0,267.8 53.3,270.1 53.5,267.4 53.8,264.2 54.0,257.9 54.3,260.2 54.5,261.4 54.8,262.5 55.0,263.2 55.2,268.7 55.5,269.3 55.7,271.7 56.0,271.2 56.2,268.9 56.5,264.7 56.7,266.0 57.0,262.6 57.2,260.8 57.5,260.1 57.7,255.6 58.0,255.5 58.2,255.8 58.4,259.9 58.7,261.5 58.9,260.9 59.2,256.8 59.4,257.3 59.7,252.9 59.9,248.5 60.2,242.2 60.4,238.1 60.7,237.0 60.9,240.3 61.1,240.2 61.4,238.0 61.6,239.4 61.9,246.0 62.1,247.4 62.4,258.3 62.6,261.4 62.9,264.0 63.1,262.2 63.4,256.5 63.6,260.0 63.9,262.4 64.1,256.7 64.3,265.0 64.6,268.4 64.8,270.3 65.1,264.0 65.3,262.0 65.6,253.7 65.8,261.5 66.1,266.6 66.3,268.1 66.6,261.0 66.8,262.6 67.1,260.8 67.3,261.8 67.5,262.4 67.8,255.8 68.0,256.7 68.3,258.3 68.5,253.2 68.8,257.6 69.0,254.6 69.3,256.0 69.5,256.8 69.8,260.3 70.0,259.1 70.3,259.3 70.5,250.8 70.7,255.4 71.0,254.6 71.2,251.7 71.5,252.7 71.7,249.9 72.0,251.2 72.2,246.0 72.5,244.5 72.7,246.9 73.0,252.9 73.2,247.3 73.5,245.1 73.7,247.9 73.9,237.8 74.2,232.2 74.4,225.0 74.7,221.0 74.9,234.9 75.2,235.9 75.4,234.6 75.7,231.1 75.9,225.6 76.2,222.6 76.4,230.7 76.7,237.3 76.9,243.6 77.1,244.6 77.4,238.1 77.6,242.6 77.9,244.8 78.1,241.1 78.4,241.2 78.6,242.8 78.9,245.0 79.1,244.2 79.4,249.4 79.6,248.7 79.9,248.2 80.1,249.9 80.3,246.4 80.6,245.1 80.8,243.7 81.1,243.3 81.3,243.0 81.6,236.9 81.8,244.2 82.1,241.4 82.3,238.3 82.6,232.3 82.8,233.8 83.0,233.1 83.3,232.8 83.5,237.6 83.8,239.4 84.0,237.8 84.3,236.3 84.5,236.5 84.8,225.8 85.0,224.7 85.3,229.6 85.5,231.1 85.8,231.0 86.0,235.7 86.2,237.0 86.5,241.1 86.7,248.6 87.0,241.6 87.2,245.3 87.5,245.3 87.7,254.0 88.0,255.3 88.2,254.6 88.5,255.8 88.7,253.1 89.0,258.0 89.2,255.1 89.4,254.3 89.7,254.9 89.9,253.5 90.2,250.7 90.4,248.4 90.7,250.1 90.9,249.3 91.2,248.1 91.4,251.7 91.7,251.9 91.9,254.0 92.2,251.5 92.4,253.6 92.6,249.4 92.9,250.8 93.1,242.0 93.4,245.6 93.6,239.4 93.9,240.6 94.1,240.1 94.4,249.1 94.6,256.2 94.9,255.3 95.1,255.4 95.4,254.7 95.6,252.3 95.8,250.4 96.1,249.0 96.3,247.3 96.6,247.7 96.8,248.0 97.1,247.9 97.3,249.6 97.6,250.5 97.8,249.5 98.1,250.3 98.3,250.1 98.6,248.8 98.8,247.3 99.0,245.5 99.3,245.0 99.5,244.2 99.8,243.7 100.0,243.7 100.3,244.2 100.5,245.1 100.8,243.9 101.0,244.3 101.3,243.4 101.5,242.4 101.8,241.3 102.0,241.2 102.2,240.9 102.5,240.4 102.7,239.4 103.0,238.2 103.2,235.4 103.5,233.8 103.7,231.5 104.0,232.6 104.2,233.6 104.5,233.9 104.7,236.7 104.9,236.8 105.2,239.3 105.4,240.7 105.7,241.6 105.9,242.2 106.2,241.1 106.4,243.1 106.7,243.6 106.9,243.9 107.2,243.0 107.4,243.0 107.7,243.2 107.9,243.3 108.1,243.2 108.4,244.0 108.6,244.1 108.9,245.8 109.1,247.7 109.4,249.8 109.6,250.3 109.9,250.1 110.1,250.0 110.4,249.5 110.6,249.3 110.9,248.7 111.1,247.4 111.3,247.3 111.6,249.1 111.8,251.6 112.1,253.2 112.3,253.7 112.6,256.7 112.8,257.1 113.1,257.0 113.3,255.4 113.6,254.1 113.8,252.9 114.1,249.5 114.3,247.5 114.5,246.3 114.8,245.8 115.0,246.8 115.3,247.7 115.5,247.3 115.8,247.5 116.0,247.2 116.3,247.2 116.5,246.8 116.8,246.6 117.0,246.5 117.3,244.8 117.5,245.2 117.7,244.4 118.0,243.7 118.2,243.1 118.5,242.0 118.7,240.2 119.0,240.4 119.2,241.1 119.5,241.6 119.7,241.9 120.0,244.0 120.2,246.0 120.5,247.7 120.7,246.7 120.9,249.5 121.2,248.9 121.4,249.1 121.7,249.6 121.9,249.7 122.2,248.9 122.4,248.2 122.7,248.9 122.9,247.7 123.2,247.7 123.4,247.7 123.7,247.1 123.9,246.6 124.1,246.6 124.4,246.2 124.6,248.1 124.9,247.2 125.1,246.5 125.4,245.3 125.6,244.6 125.9,243.4 126.1,241.9 126.4,242.8 126.6,242.8 126.9,242.5 127.1,241.6 127.3,242.8 127.6,243.9 127.8,245.5 128.1,246.3 128.3,245.4 128.6,246.7 128.8,245.9 129.1,245.4 129.3,244.7 129.6,244.4 129.8,243.2 130.0,241.5 130.3,241.2 130.5,243.2 130.8,243.7 131.0,244.6 131.3,246.0 131.5,247.3 131.8,246.8 132.0,246.5 132.3,245.2 132.5,244.7 132.8,243.7 133.0,243.4 133.2,243.0 133.5,243.8 133.7,245.3 134.0,245.8 134.2,247.4 134.5,250.0 134.7,251.0 135.0,250.4 135.2,250.9 135.5,248.9 135.7,248.9 136.0,248.1 136.2,248.7 136.4,249.9 136.7,250.8 136.9,249.6 137.2,251.5 137.4,252.4 137.7,235.6 137.9,239.4 138.2,238.4 138.4,232.2 138.7,232.0 138.9,234.6 139.2,235.7 139.4,236.6 139.6,237.8 139.9,240.6 140.1,240.7 140.4,240.4 140.6,247.0 140.9,249.3 141.1,250.0 141.4,248.2 141.6,249.9 141.9,248.0 142.1,245.5 142.4,243.9 142.6,237.0 142.8,236.3 143.1,232.7 143.3,234.3 143.6,235.7 143.8,234.7 144.1,233.9 144.3,232.6 144.6,229.4 144.8,223.5 145.1,224.2 145.3,220.2 145.6,225.2 145.8,221.2 146.0,219.7 146.3,223.9 146.5,228.4 146.8,231.7 147.0,236.9 147.3,236.8 147.5,235.1 147.8,237.1 148.0,239.4 148.3,240.5 148.5,240.6 148.8,239.9 149.0,245.1 149.2,242.4 149.5,244.8 149.7,241.4 150.0,238.0 150.2,240.7 150.5,237.7 150.7,241.4 151.0,241.3 151.2,242.6 151.5,236.2 151.7,236.1 151.9,232.4 152.2,231.9 152.4,228.5 152.7,228.5 152.9,226.6 153.2,228.5 153.4,229.0 153.7,228.1 153.9,230.2 154.2,230.1 154.4,232.3 154.7,234.0 154.9,235.1 155.1,230.8 155.4,233.8 155.6,233.5 155.9,233.3 156.1,230.2 156.4,235.7 156.6,234.8 156.9,234.2 157.1,236.1 157.4,233.5 157.6,238.7 157.9,238.2 158.1,234.7 158.3,233.0 158.6,233.2 158.8,230.9 159.1,229.6 159.3,223.8 159.6,224.3 159.8,226.0 160.1,227.7 160.3,222.2 160.6,221.8 160.8,223.2 161.1,222.5 161.3,219.0 161.5,220.5 161.8,221.6 162.0,225.3 162.3,223.5 162.5,224.0 162.8,222.7 163.0,215.3 163.3,211.3 163.5,217.1 163.8,218.6 164.0,219.9 164.3,221.0 164.5,219.5 164.7,222.4 165.0,224.8 165.2,222.8 165.5,225.1 165.7,230.1 166.0,231.1 166.2,232.3 166.5,230.3 166.7,230.5 167.0,227.3 167.2,229.4 167.5,231.5 167.7,237.3 167.9,239.8 168.2,243.5 168.4,245.7 168.7,243.4 168.9,247.7 169.2,246.6 169.4,244.5 169.7,246.9 169.9,249.0 170.2,250.8 170.4,254.1 170.7,254.0 170.9,251.8 171.1,249.4 171.4,249.7 171.6,248.4 171.9,249.5 172.1,247.4 172.4,254.1 172.6,254.6 172.9,260.2 173.1,262.1 173.4,263.0 173.6,261.8 173.8,260.9 174.1,260.6 174.3,255.7 174.6,257.5 174.8,253.7 175.1,259.7 175.3,262.9 175.6,264.7 175.8,266.2 176.1,263.5 176.3,265.5 176.6,259.3 176.8,258.1 177.0,255.6 177.3,250.4 177.5,249.1 177.8,249.4 178.0,254.0 178.3,253.5 178.5,255.3 178.8,259.3 179.0,255.7 179.3,256.5 179.5,257.5 179.8,255.3 180.0,253.9 180.2,256.9 180.5,250.8 180.7,248.2 181.0,243.2 181.2,238.5 181.5,241.0 181.7,240.6 182.0,243.0 182.2,242.6 182.5,242.7 182.7,259.6 183.0,260.8 183.2,262.3 183.4,263.2 183.7,264.3 183.9,262.6 184.2,262.9 184.4,263.1 184.7,263.7 184.9,262.9 185.2,264.0 185.4,264.2 185.7,263.4 185.9,264.5 186.2,266.2 186.4,267.2 186.6,269.4 186.9,269.4 187.1,271.8 187.4,273.9 187.6,276.6 187.9,276.7 188.1,278.4 188.4,279.5 188.6,279.8 188.9,280.4 189.1,280.5 189.4,280.3 189.6,282.0 189.8,283.3 190.1,285.2 190.3,287.2 190.6,289.4 190.8,291.0 191.1,292.6 191.3,293.6 191.6,294.7 191.8,295.1 192.1,295.6 192.3,294.5 192.6,294.5 192.8,294.7 193.0,294.3 193.3,295.7 193.5,296.0 193.8,296.5 194.0,297.2 194.3,298.2 194.5,298.1 194.8,298.4 195.0,298.7 195.3,298.1 195.5,299.9 195.7,300.0 196.0,299.3 196.2,300.1 196.5,299.0 196.7,298.1 197.0,297.4 197.2,296.2 197.5,296.4 197.7,296.7 198.0,295.6 198.2,297.2 198.5,299.0 198.7,300.3 198.9,301.5 199.2,302.4 199.4,304.7 199.7,304.0 199.9,303.3 200.2,301.8 200.4,300.1 200.7,298.6 200.9,298.8 201.2,299.3 201.4,298.8 201.7,299.9 201.9,300.0 202.1,300.5 202.4,300.1 202.6,299.7 202.9,299.5 203.1,299.7 203.4,299.6 203.6,297.9 203.9,297.2 204.1,296.1 204.4,296.3 204.6,296.7 204.9,294.7 205.1,293.7 205.3,292.8 205.6,291.3 205.8,290.8 206.1,290.8 206.3,291.1 206.6,291.1 206.8,290.7 207.1,290.9 207.3,291.6 207.6,291.1 207.8,290.4 208.1,290.1 208.3,288.4 208.5,285.8 208.8,285.4 209.0,285.5 209.3,285.6 209.5,285.6 209.8,286.5 210.0,286.6 210.3,287.2 210.5,287.1 210.8,285.1 211.0,284.9 211.3,284.0 211.5,282.3 211.7,282.7 212.0,282.3 212.2,282.6 212.5,281.4 212.7,281.1 213.0,281.0 213.2,280.7 213.5,281.3 213.7,282.2 214.0,282.9 214.2,282.5 214.5,283.3 214.7,282.9 214.9,281.3 215.2,281.3 215.4,280.7 215.7,279.5 215.9,280.1 216.2,279.8 216.4,279.8 216.7,280.8 216.9,280.0 217.2,279.4 217.4,279.9 217.6,280.4 217.9,280.3 218.1,278.4 218.4,279.2 218.6,279.0 218.9,278.1 219.1,278.5 219.4,275.4 219.6,274.7 219.9,273.3 220.1,272.8 220.4,272.2 220.6,272.5 220.8,274.4 221.1,275.3 221.3,276.0 221.6,277.4 221.8,276.7 222.1,276.2 222.3,274.1 222.6,260.3 222.8,234.4 223.1,235.8 223.3,237.6 223.6,233.2 223.8,240.5 224.0,237.7 224.3,239.2 224.5,235.6 224.8,235.6 225.0,238.3 225.3,237.8 225.5,237.4 225.8,233.4 226.0,231.5 226.3,232.6 226.5,233.4 226.8,230.9 227.0,227.0 227.2,234.6 227.5,231.6 227.7,227.3 228.0,234.4 228.2,236.1 228.5,233.4 228.7,223.9 229.0,222.8 229.2,219.3 229.5,222.1 229.7,222.4 230.0,220.8 230.2,219.1 230.4,221.7 230.7,210.8 230.9,217.0 231.2,218.2 231.4,208.4 231.7,212.1 231.9,217.3 232.2,224.7 232.4,228.7 232.7,226.9 232.9,220.0 233.2,215.1 233.4,215.8 233.6,213.8 233.9,209.2 234.1,210.4 234.4,206.0 234.6,203.9 234.9,205.2 235.1,205.8 235.4,199.1 235.6,207.8 235.9,202.8 236.1,201.0 236.4,199.0 236.6,207.1 236.8,208.7 237.1,208.1 237.3,209.1 237.6,204.4 237.8,207.1 238.1,209.2 238.3,210.9 238.6,209.4 238.8,213.3 239.1,216.5 239.3,215.3 239.5,216.3 239.8,220.0 240.0,217.4 240.3,215.1 240.5,213.6 240.8,211.2 241.0,209.1 241.3,216.3 241.5,214.8 241.8,216.2 242.0,212.4 242.3,209.0 242.5,200.4 242.7,203.9 243.0,200.9 243.2,208.3 243.5,211.7 243.7,211.7 244.0,207.7 244.2,212.7 244.5,217.3 244.7,217.1 245.0,217.2 245.2,213.4 245.5,210.5 245.7,213.6 245.9,211.4 246.2,214.9 246.4,216.8 246.7,220.9 246.9,218.3 247.2,226.3 247.4,222.6 247.7,224.9 247.9,218.5 248.2,217.3 248.4,219.5 248.7,218.0 248.9,217.0 249.1,223.8 249.4,218.7 249.6,216.9 249.9,220.9 250.1,214.3 250.4,211.7 250.6,215.9 250.9,217.0 251.1,219.4 251.4,219.0 251.6,223.4 251.9,222.4 252.1,221.8 252.3,221.1 252.6,222.3 252.8,223.1 253.1,221.6 253.3,224.3 253.6,227.7 253.8,226.9 254.1,229.4 254.3,226.3 254.6,230.6 254.8,232.6 255.1,230.6 255.3,229.8 255.5,231.8 255.8,232.5 256.0,230.3 256.3,230.8 256.5,228.4 256.8,221.4 257.0,222.8 257.3,225.6 257.5,227.2 257.8,232.3 258.0,231.5 258.3,237.0 258.5,234.9 258.7,231.8 259.0,229.5 259.2,228.9 259.5,227.0 259.7,224.3 260.0,226.6 260.2,229.7 260.5,224.0 260.7,231.9 261.0,232.7 261.2,230.9 261.5,228.6 261.7,231.0 261.9,237.3 262.2,241.1 262.4,237.7 262.7,243.6 262.9,243.4 263.2,242.2 263.4,236.6 263.7,234.0 263.9,239.3 264.2,237.7 264.4,242.5 264.6,241.3 264.9,242.1 265.1,241.6 265.4,245.7 265.6,243.4 265.9,246.6 266.1,244.2 266.4,243.6 266.6,250.0 266.9,249.5 267.1,250.8 267.4,252.5 267.6,251.4 267.8,251.0 268.1,251.4 268.3,253.0 268.6,251.5 268.8,248.8 269.1,248.3 269.3,246.2 269.6,249.4 269.8,249.4 270.1,251.9 270.3,247.6 270.6,249.1 270.8,249.1 271.0,248.4 271.3,248.6 271.5,244.2 271.8,246.6 272.0,253.8 272.3,256.2 272.5,257.2 272.8,253.9 273.0,255.1 273.3,254.3 273.5,249.7 273.8,250.3 274.0,248.9 274.2,247.4 274.5,254.0 274.7,254.4 275.0,255.6 275.2,255.5 275.5,255.5 275.7,255.5 276.0,254.1 276.2,252.5 276.5,252.3 276.7,252.0 277.0,252.3 277.2,250.7 277.4,250.9 277.7,251.1 277.9,250.7 278.2,251.7 278.4,250.4 278.7,249.5 278.9,249.8 279.2,249.4 279.4,249.8 279.7,249.6 279.9,249.0 280.2,251.0 280.4,250.5 280.6,249.7 280.9,252.1 281.1,253.7 281.4,253.6 281.6,255.3 281.9,255.8 282.1,257.5 282.4,257.6 282.6,259.0 282.9,260.0 283.1,263.5 283.4,265.1 283.6,265.4 283.8,265.2 284.1,264.0 284.3,262.0 284.6,259.1 284.8,258.2 285.1,256.9 285.3,255.8 285.6,256.6 285.8,255.9 286.1,255.4 286.3,255.4 286.5,254.4 286.8,253.2 287.0,252.0 287.3,250.2 287.5,249.3 287.8,246.8 288.0,245.8 288.3,247.2 288.5,250.3 288.8,252.1 289.0,254.1 289.3,256.4 289.5,258.1 289.7,260.9 290.0,263.4 290.2,262.5 290.5,263.7 290.7,264.1 291.0,263.9 291.2,262.3 291.5,262.5 291.7,260.7 292.0,261.3 292.2,259.7 292.5,258.5 292.7,256.9 292.9,258.0 293.2,257.6 293.4,256.9 293.7,256.3 293.9,256.9 294.2,256.8 294.4,255.0 294.7,254.3 294.9,254.5 295.2,254.5 295.4,255.0 295.7,253.1 295.9,253.9 296.1,254.1 296.4,253.6 296.6,255.6 296.9,257.1 297.1,259.1 297.4,261.8 297.6,261.3 297.9,262.7 298.1,261.7 298.4,261.8 298.6,260.4 298.9,259.9 299.1,258.4 299.3,259.5 299.6,257.7 299.8,259.3 300.1,258.7 300.3,261.0 300.6,261.7 300.8,263.4 301.1,263.3 301.3,264.0 301.6,262.9 301.8,261.5 302.1,258.7 302.3,258.5 302.5,256.6 302.8,256.5 303.0,256.4 303.3,257.5 303.5,255.5 303.8,255.3 304.0,256.6 304.3,256.4 304.5,253.8 304.8,250.5 305.0,248.8 305.3,246.4 305.5,243.8 305.7,243.0 306.0,244.4 306.2,246.0 306.5,246.1 306.7,246.5 307.0,246.2 307.2,243.7 307.5,240.1 307.7,238.4 308.0,235.0 308.2,233.9 308.4,232.1 308.7,233.0 308.9,233.4 309.2,234.3 309.4,233.9 309.7,235.2 309.9,235.6 310.2,239.3 310.4,243.2 310.7,247.8 310.9,252.2 311.2,254.1 311.4,259.6 311.6,261.6 311.9,264.1 312.1,267.6 312.4,271.3 312.6,275.5 312.9,275.6 313.1,276.3 313.4,276.7 313.6,276.4 313.9,273.6 314.1,270.9 314.4,268.3 314.6,265.3 314.8,264.3 315.1,262.2 315.3,261.4 315.6,260.8 315.8,261.0 316.1,260.6 316.3,259.3 316.6,258.8 316.8,258.7 317.1,256.3 317.3,255.4 317.6,253.0 317.8,250.1 318.0,249.5 318.3,249.0 318.5,247.6 318.8,247.0 319.0,245.2 319.3,246.8 319.5,246.3 319.8,246.1 320.0,245.3 320.3,243.9 320.5,233.0 320.8,233.4 321.0,231.5 321.2,231.4 321.5,229.3 321.7,229.1 322.0,231.3 322.2,230.6 322.5,231.7 322.7,228.3 323.0,223.8 323.2,220.3 323.5,216.7 323.7,216.0 324.0,214.6 324.2,216.4 324.4,216.2 324.7,217.5 324.9,219.3 325.2,219.5 325.4,212.9 325.7,217.6 325.9,213.1 326.2,215.7 326.4,220.6 326.7,221.0 326.9,220.4 327.2,228.5 327.4,225.6 327.6,230.0 327.9,231.2 328.1,229.6 328.4,227.9 328.6,225.4 328.9,217.7 329.1,221.8 329.4,221.4 329.6,222.0 329.9,224.4 330.1,228.3 330.3,231.2 330.6,234.2 330.8,235.1 331.1,233.2 331.3,233.9 331.6,234.5 331.8,238.8 332.1,240.0 332.3,241.3 332.6,240.3 332.8,238.3 333.1,237.2 333.3,239.3 333.5,239.3 333.8,238.0 334.0,231.3 334.3,230.1 334.5,237.5 334.8,241.5 335.0,245.8 335.3,246.3 335.5,245.3 335.8,243.2 336.0,243.4 336.3,238.7 336.5,237.7 336.7,235.2 337.0,239.1 337.2,236.6 337.5,240.2 337.7,237.4 338.0,231.6 338.2,231.9 338.5,228.7 338.7,233.2 339.0,234.1 339.2,234.2 339.5,239.8 339.7,238.5 339.9,238.1 340.2,235.9 340.4,234.6 340.7,231.6 340.9,229.0 341.2,228.8 341.4,227.0 341.7,231.0 341.9,233.3 342.2,232.7 342.4,228.0 342.7,223.8 342.9,218.2 343.1,221.2 343.4,214.8 343.6,221.0 343.9,225.6 344.1,227.4 344.4,232.0 344.6,237.2 344.9,239.0 345.1,246.1 345.4,242.3 345.6,242.6 345.9,242.6 346.1,241.1 346.3,237.6 346.6,237.5 346.8,239.0 347.1,242.8 347.3,243.2 347.6,247.6 347.8,249.4 348.1,246.8 348.3,246.1 348.6,241.8 348.8,245.3 349.1,250.8 349.3,255.8 349.5,254.1 349.8,255.1 350.0,250.9 350.3,253.1 350.5,250.7 350.8,250.5 351.0,245.2 351.3,249.7 351.5,246.7 351.8,246.1 352.0,247.1 352.2,250.2 352.5,253.5 352.7,252.0 353.0,258.5 353.2,254.4 353.5,254.2 353.7,255.3 354.0,250.0 354.2,243.6 354.5,245.2 354.7,249.7 355.0,249.3 355.2,256.0 355.4,257.0 355.7,257.9 355.9,260.5 356.2,265.0 356.4,264.3 356.7,264.9 356.9,260.4 357.2,259.6 357.4,257.4 357.7,259.6 357.9,261.5 358.2,261.8 358.4,262.1 358.6,262.7 358.9,262.2 359.1,262.0 359.4,262.5 359.6,262.8 359.9,262.7 360.1,263.4 360.4,263.5 360.6,263.6 360.9,262.5 361.1,262.9 361.4,261.1 361.6,260.2 361.8,259.0 362.1,258.8 362.3,258.4 362.6,258.9 362.8,259.8 363.1,261.2 363.3,261.4 363.6,261.2 363.8,261.3 364.1,260.6 364.3,259.2 364.6,258.2 364.8,257.1 365.0,257.9 365.3,258.0 365.5,260.5 365.8,261.7 366.0,262.4 366.3,261.6 366.5,261.7 366.8,261.6 367.0,261.6 367.3,260.6 367.5,260.1 367.8,260.1 368.0,259.5 368.2,259.9 368.5,260.3 368.7,260.6 369.0,261.7 369.2,262.9 369.5,264.2 369.7,264.5 370.0,264.4 370.2,265.1 370.5,264.5 370.7,264.4 371.0,264.7 371.2,263.9 371.4,263.7 371.7,261.7 371.9,262.2 372.2,260.4 372.4,260.5 372.7,261.0 372.9,261.4 373.2,262.7 373.4,263.2 373.7,264.2 373.9,264.1 374.1,264.5 374.4,263.8 374.6,262.2 374.9,263.3 375.1,263.6 375.4,264.0 375.6,264.0 375.9,265.2 376.1,265.9 376.4,265.8 376.6,265.1 376.9,265.1 377.1,265.8 377.3,265.6 377.6,266.2 377.8,265.7 378.1,266.8 378.3,266.4 378.6,266.5 378.8,265.3 379.1,264.8 379.3,264.3 379.6,263.5 379.8,263.6 380.1,263.0 380.3,264.3 380.5,264.6 380.8,265.6 381.0,266.1 381.3,263.8 381.5,263.0 381.8,263.4 382.0,263.5 382.3,270.1 382.5,275.2 382.8,280.4 383.0,286.3 383.3,287.9 383.5,288.5 383.7,290.5 384.0,290.7 384.2,291.8 384.5,292.5 384.7,293.8 385.0,295.4 385.2,293.9 385.5,293.6 385.7,292.9 386.0,291.5 386.2,291.7 386.5,290.9 386.7,289.9 386.9,289.7 387.2,288.1 387.4,288.1 387.7,286.7 387.9,286.4 388.2,286.6 388.4,285.6 388.7,285.8 388.9,285.5 389.2,285.0 389.4,283.0 389.7,283.7 389.9,282.6 390.1,282.8 390.4,283.1 390.6,282.4 390.9,281.8 391.1,280.8 391.4,282.3 391.6,282.1 391.9,283.2 392.1,282.5 392.4,282.8 392.6,280.8 392.9,280.0 393.1,279.6 393.3,279.4 393.6,278.7 393.8,277.8 394.1,277.5 394.3,276.5 394.6,275.6 394.8,274.1 395.1,274.5 395.3,274.5 395.6,274.9 395.8,276.3 396.1,276.4 396.3,276.0 396.5,275.7 396.8,273.6 397.0,273.4 397.3,271.5 397.5,270.9 397.8,270.0 398.0,270.1 398.3,269.8 398.5,269.1 398.8,268.2 399.0,267.8 399.2,268.0 399.5,266.5 399.7,265.1 400.0,264.2 400.2,263.5 400.5,263.3 400.7,261.9 401.0,259.5 401.2,257.7 401.5,258.8 401.7,258.7 402.0,257.9 402.2,258.1 402.4,258.8 402.7,259.2 402.9,259.3 403.2,258.6 403.4,257.4 403.7,255.0 403.9,254.4 404.2,254.4 404.4,253.6 404.7,252.5 404.9,251.5 405.2,250.8 405.4,249.0 405.6,248.5 405.9,247.2 406.1,248.0 406.4,248.3 406.6,248.0 406.9,247.2 407.1,245.6 407.4,244.7 407.6,244.4 407.9,244.2 408.1,244.5 408.4,243.5 408.6,229.7 408.8,227.3 409.1,225.0 409.3,224.0 409.6,223.7 409.8,222.7 410.1,217.2 410.3,225.9 410.6,227.7 410.8,225.9 411.1,229.3 411.3,237.0 411.6,233.1 411.8,237.1 412.0,239.4 412.3,238.6 412.5,234.4 412.8,236.6 413.0,238.7 413.3,238.5 413.5,236.5 413.8,242.1 414.0,241.2 414.3,240.9 414.5,243.0 414.8,243.6 415.0,242.9 415.2,243.1 415.5,240.0 415.7,235.8 416.0,236.7 416.2,233.8 416.5,231.0 416.7,230.9 417.0,229.0 417.2,224.3 417.5,229.8 417.7,226.4 418.0,228.0 418.2,226.2 418.4,220.6 418.7,228.7 418.9,228.6 419.2,227.9 419.4,233.2 419.7,234.1 419.9,238.5 420.2,240.0 420.4,238.2 420.7,239.6 420.9,235.5 421.1,236.9 421.4,237.1 421.6,238.3 421.9,237.8 422.1,234.6 422.4,239.5 422.6,242.3 422.9,243.2 423.1,242.9 423.4,249.2 423.6,248.9 423.9,244.6 424.1,240.5 424.3,236.1 424.6,232.4 424.8,237.5 425.1,236.0 425.3,238.7 425.6,238.8 425.8,237.4 426.1,235.0 426.3,236.3 426.6,235.8 426.8,231.6 427.1,231.6 427.3,237.1 427.5,234.9 427.8,235.6 428.0,234.5 428.3,233.2 428.5,232.6 428.8,229.7 429.0,229.8 429.3,230.4 429.5,228.3 429.8,227.7 430.0,229.4 430.3,225.4 430.5,228.0 430.7,231.1 431.0,228.0 431.2,226.9 431.5,225.9 431.7,222.5 432.0,219.8 432.2,224.3 432.5,223.4 432.7,223.1 433.0,226.2 433.2,223.8 433.5,226.8 433.7,227.9 433.9,227.2 434.2,225.9 434.4,224.6 434.7,224.4 434.9,222.7 435.2,222.2 435.4,226.0 435.7,229.2 435.9,232.1 436.2,231.2 436.4,231.9 436.7,229.4 436.9,233.7 437.1,233.0 437.4,231.5 437.6,233.8 437.9,231.9 438.1,232.3 438.4,234.4 438.6,231.3 438.9,232.2 439.1,233.4 439.4,235.0 439.6,233.2 439.9,236.3 440.1,234.9 440.3,237.3 440.6,236.1 440.8,236.9 441.1,237.0 441.3,233.5 441.6,236.9 441.8,231.7 442.1,228.1 442.3,229.4 442.6,231.1 442.8,233.9 443.0,237.3 443.3,240.7 443.5,245.5 443.8,244.3 444.0,242.0 444.3,239.6 444.5,234.1 444.8,232.7 445.0,231.0 445.3,231.0 445.5,237.6 445.8,233.8 446.0,237.0 446.2,239.0 446.5,238.5 446.7,236.9 447.0,240.2 447.2,240.8 447.5,242.4 447.7,241.8 448.0,241.1 448.2,244.3 448.5,242.6 448.7,243.1 449.0,245.8 449.2,247.6 449.4,248.7 449.7,252.8 449.9,247.9 450.2,251.9 450.4,252.6 450.7,254.7 450.9,257.2 451.2,253.9 451.4,256.2 451.7,253.0 451.9,254.8 452.2,253.1 452.4,253.3 452.4,370.6 48.6,370.6"/>
<polygon fill="#10b8b3" points="48.6,345.7 48.8,347.6 49.1,347.3 49.3,345.7 49.6,344.8 49.8,343.0 50.1,341.6 50.3,340.1 50.6,340.3 50.8,340.9 51.1,340.9 51.3,340.2 51.6,339.7 51.8,339.9 52.0,340.3 52.3,338.9 52.5,336.8 52.8,336.8 53.0,336.4 53.3,336.6 53.5,336.7 53.8,339.2 54.0,340.6 54.3,342.2 54.5,343.5 54.8,343.4 55.0,344.2 55.2,342.7 55.5,341.9 55.7,338.8 56.0,337.5 56.2,336.0 56.5,335.1 56.7,333.6 57.0,332.2 57.2,330.5 57.5,329.1 57.7,330.9 58.0,332.6 58.2,334.7 58.4,336.4 58.7,336.5 58.9,332.2 59.2,329.3 59.4,324.2 59.7,321.7 59.9,317.5 60.2,320.0 60.4,324.8 60.7,329.5 60.9,331.6 61.1,328.3 61.4,323.3 61.6,317.7 61.9,319.6 62.1,323.1 62.4,325.5 62.6,330.0 62.9,330.0 63.1,331.4 63.4,331.8 63.6,330.8 63.9,329.6 64.1,328.6 64.3,329.1 64.6,329.2 64.8,331.9 65.1,334.6 65.3,336.6 65.6,339.0 65.8,340.1 66.1,340.5 66.3,340.3 66.6,341.4 66.8,341.8 67.1,344.4 67.3,345.9 67.5,346.7 67.8,347.2 68.0,345.9 68.3,344.5 68.5,343.0 68.8,341.8 69.0,340.2 69.3,339.6 69.5,339.4 69.8,340.1 70.0,340.7 70.3,339.9 70.5,340.3 70.7,338.3 71.0,335.8 71.2,333.2 71.5,331.0 71.7,333.3 72.0,338.5 72.2,341.2 72.5,342.0 72.7,341.7 73.0,340.0 73.2,338.1 73.5,335.3 73.7,331.7 73.9,328.8 74.2,324.9 74.4,324.4 74.7,322.7 74.9,323.6 75.2,327.6 75.4,329.4 75.7,329.6 75.9,323.8 76.2,319.0 76.4,315.1 76.7,315.5 76.9,316.9 77.1,320.3 77.4,323.7 77.6,326.5 77.9,329.4 78.1,332.2 78.4,334.9 78.6,335.0 78.9,335.6 79.1,333.3 79.4,334.3 79.6,335.7 79.9,336.9 80.1,338.3 80.3,337.0 80.6,336.7 80.8,337.8 81.1,340.2 81.3,341.6 81.6,342.5 81.8,341.1 82.1,340.0 82.3,339.3 82.6,339.6 82.8,340.9 83.0,343.0 83.3,344.0 83.5,344.4 83.8,345.2 84.0,344.8 84.3,342.4 84.5,339.3 84.8,338.0 85.0,338.2 85.3,340.1 85.5,337.7 85.8,338.6 86.0,338.5 86.2,339.6 86.5,342.7 86.7,345.1 87.0,347.0 87.2,348.1 87.5,345.4 87.7,343.7 88.0,341.0 88.2,338.6 88.5,337.8 88.7,339.0 89.0,341.2 89.2,343.2 89.4,347.3 89.7,348.6 89.9,348.3 90.2,348.9 90.4,347.5 90.7,346.9 90.9,345.5 91.2,345.7 91.4,347.1 91.7,349.0 91.9,350.6 92.2,351.4 92.4,352.3 92.6,352.8 92.9,352.8 93.1,352.7 93.4,352.4 93.6,350.7 93.9,350.4 94.1,349.4 94.4,348.6 94.6,350.5 94.9,350.8 95.1,351.5 95.4,351.8 95.6,352.6 95.8,353.0 96.1,353.0 96.3,352.6 96.6,351.9 96.8,351.7 97.1,350.3 97.3,349.3 97.6,349.8 97.8,350.6 98.1,350.9 98.3,351.7 98.6,352.0 98.8,352.4 99.0,352.5 99.3,352.9 99.5,353.2 99.8,353.5 100.0,353.3 100.3,353.0 100.5,353.0 100.8,352.6 101.0,351.9 101.3,352.4 101.5,351.4 101.8,351.9 102.0,352.3 102.2,352.2 102.5,352.7 102.7,353.4 103.0,353.8 103.2,353.9 103.5,346.4 103.7,335.3 104.0,335.4 104.2,335.6 104.5,336.9 104.7,337.4 104.9,338.5 105.2,339.6 105.4,339.5 105.7,339.6 105.9,339.7 106.2,339.4 106.4,338.6 106.7,338.0 106.9,338.3 107.2,338.0 107.4,338.4 107.7,338.2 107.9,338.3 108.1,339.4 108.4,340.5 108.6,340.0 108.9,339.2 109.1,339.0 109.4,338.4 109.6,338.2 109.9,338.7 110.1,339.4 110.4,340.1 110.6,340.8 110.9,341.1 111.1,340.5 111.3,339.6 111.6,338.7 111.8,337.8 112.1,337.8 112.3,338.1 112.6,338.7 112.8,338.9 113.1,340.0 113.3,340.3 113.6,340.8 113.8,340.2 114.1,339.2 114.3,338.7 114.5,338.1 114.8,337.2 115.0,336.9 115.3,337.2 115.5,337.9 115.8,337.9 116.0,338.6 116.3,339.0 116.5,339.6 116.8,339.4 117.0,339.6 117.3,338.7 117.5,338.4 117.7,339.0 118.0,338.4 118.2,338.5 118.5,338.2 118.7,338.0 119.0,338.4 119.2,338.3 119.5,339.2 119.7,339.7 120.0,340.0 120.2,340.4 120.5,340.2 120.7,339.8 120.9,339.0 121.2,338.4 121.4,337.9 121.7,337.3 121.9,337.2 122.2,337.3 122.4,338.3 122.7,338.6 122.9,339.0 123.2,339.5 123.4,338.5 123.7,337.1 123.9,334.6 124.1,332.8 124.4,331.7 124.6,332.1 124.9,332.8 125.1,333.9 125.4,335.5 125.6,335.8 125.9,337.3 126.1,337.0 126.4,337.1 126.6,336.7 126.9,336.5 127.1,335.9 127.3,335.8 127.6,335.5 127.8,335.5 128.1,335.6 128.3,335.9 128.6,336.3 128.8,336.2 129.1,335.3 129.3,334.7 129.6,333.6 129.8,332.2 130.0,332.2 130.3,332.1 130.5,332.9 130.8,334.3 131.0,335.7 131.3,336.1 131.5,336.5 131.8,336.6 132.0,336.9 132.3,337.2 132.5,337.0 132.8,337.6 133.0,337.9 133.2,337.6 133.5,337.2 133.7,337.7 134.0,337.4 134.2,337.9 134.5,338.2 134.7,338.6 135.0,338.6 135.2,338.9 135.5,339.3 135.7,339.0 136.0,338.7 136.2,339.0 136.4,339.2 136.7,339.6 136.9,339.8 137.2,340.2 137.4,340.1 137.7,328.9 137.9,323.5 138.2,319.8 138.4,322.9 138.7,325.9 138.9,327.2 139.2,326.2 139.4,324.5 139.6,325.3 139.9,328.2 140.1,331.2 140.4,334.5 140.6,336.9 140.9,338.8 141.1,337.9 141.4,336.0 141.6,334.0 141.9,331.7 142.1,330.1 142.4,329.3 142.6,326.0 142.8,325.0 143.1,325.5 143.3,325.2 143.6,327.0 143.8,327.3 144.1,327.8 144.3,328.0 144.6,327.2 144.8,325.0 145.1,322.7 145.3,320.7 145.6,320.0 145.8,321.7 146.0,318.0 146.3,316.8 146.5,320.3 146.8,324.8 147.0,326.4 147.3,325.5 147.5,326.9 147.8,328.2 148.0,329.5 148.3,330.1 148.5,330.9 148.8,330.1 149.0,330.4 149.2,327.9 149.5,327.1 149.7,325.2 150.0,326.3 150.2,327.9 150.5,329.7 150.7,330.6 151.0,332.3 151.2,332.7 151.5,333.8 151.7,329.0 151.9,323.5 152.2,316.9 152.4,312.6 152.7,313.8 152.9,317.6 153.2,317.3 153.4,318.1 153.7,320.2 153.9,322.0 154.2,321.7 154.4,321.8 154.7,320.5 154.9,320.1 155.1,318.2 155.4,319.0 155.6,318.0 155.9,316.4 156.1,317.2 156.4,315.6 156.6,317.7 156.9,317.5 157.1,319.5 157.4,320.8 157.6,321.6 157.9,320.1 158.1,319.7 158.3,317.7 158.6,316.4 158.8,315.6 159.1,313.7 159.3,312.7 159.6,313.2 159.8,313.5 160.1,312.7 160.3,312.0 160.6,310.1 160.8,308.2 161.1,308.4 161.3,308.8 161.5,308.8 161.8,308.6 162.0,309.4 162.3,307.1 162.5,307.2 162.8,308.5 163.0,307.0 163.3,308.9 163.5,308.6 163.8,307.0 164.0,306.0 164.3,301.8 164.5,304.1 164.7,307.0 165.0,310.0 165.2,313.0 165.5,314.8 165.7,316.5 166.0,318.5 166.2,317.1 166.5,313.7 166.7,312.4 167.0,313.9 167.2,313.7 167.5,313.9 167.7,315.3 167.9,318.5 168.2,319.8 168.4,322.3 168.7,322.4 168.9,325.2 169.2,326.3 169.4,327.0 169.7,325.9 169.9,327.7 170.2,326.1 170.4,325.7 170.7,325.1 170.9,325.1 171.1,329.6 171.4,332.6 171.6,337.1 171.9,339.8 172.1,343.1 172.4,345.6 172.6,343.7 172.9,341.3 173.1,339.8 173.4,337.4 173.6,335.1 173.8,336.3 174.1,336.9 174.3,338.3 174.6,339.7 174.8,341.7 175.1,341.5 175.3,341.7 175.6,341.4 175.8,340.7 176.1,340.5 176.3,339.8 176.6,336.2 176.8,335.2 177.0,332.0 177.3,335.6 177.5,337.2 177.8,338.2 178.0,336.0 178.3,335.0 178.5,333.3 178.8,331.9 179.0,330.4 179.3,331.8 179.5,332.7 179.8,335.8 180.0,337.2 180.2,338.8 180.5,339.6 180.7,339.4 181.0,340.0 181.2,340.7 181.5,341.6 181.7,342.0 182.0,342.7 182.2,341.8 182.5,338.5 182.7,340.0 183.0,339.8 183.2,339.9 183.4,340.1 183.7,340.3 183.9,341.0 184.2,341.6 184.4,342.6 184.7,343.0 184.9,344.1 185.2,344.8 185.4,345.0 185.7,345.2 185.9,345.1 186.2,345.5 186.4,344.8 186.6,344.6 186.9,344.8 187.1,344.8 187.4,345.9 187.6,347.3 187.9,348.5 188.1,349.4 188.4,349.5 188.6,349.1 188.9,348.9 189.1,348.7 189.4,348.4 189.6,348.3 189.8,349.7 190.1,350.6 190.3,351.6 190.6,353.3 190.8,354.0 191.1,354.6 191.3,355.0 191.6,354.1 191.8,354.2 192.1,354.2 192.3,354.1 192.6,354.2 192.8,355.4 193.0,355.9 193.3,355.9 193.5,355.8 193.8,355.3 194.0,355.7 194.3,355.5 194.5,355.5 194.8,356.0 195.0,355.7 195.3,355.6 195.5,355.4 195.7,355.7 196.0,355.7 196.2,355.8 196.5,356.3 196.7,356.6 197.0,357.0 197.2,356.9 197.5,356.8 197.7,355.8 198.0,355.9 198.2,355.5 198.5,355.2 198.7,356.2 198.9,356.7 199.2,357.4 199.4,358.2 199.7,358.4 199.9,358.5 200.2,358.0 200.4,358.1 200.7,357.7 200.9,357.2 201.2,356.9 201.4,356.4 201.7,356.0 201.9,355.8 202.1,356.1 202.4,356.5 202.6,356.0 202.9,356.9 203.1,355.9 203.4,355.0 203.6,354.6 203.9,353.6 204.1,353.1 204.4,352.1 204.6,352.4 204.9,353.5 205.1,354.5 205.3,355.3 205.6,355.7 205.8,355.1 206.1,353.8 206.3,352.8 206.6,351.4 206.8,351.6 207.1,352.9 207.3,353.7 207.6,355.5 207.8,356.4 208.1,355.3 208.3,353.9 208.5,352.4 208.8,352.4 209.0,352.5 209.3,351.7 209.5,352.3 209.8,352.5 210.0,352.8 210.3,353.1 210.5,353.6 210.8,354.4 211.0,354.5 211.3,354.2 211.5,353.3 211.7,353.2 212.0,352.0 212.2,352.2 212.5,351.7 212.7,351.4 213.0,351.1 213.2,350.8 213.5,351.6 213.7,351.7 214.0,352.7 214.2,353.4 214.5,353.6 214.7,353.3 214.9,353.4 215.2,352.7 215.4,352.1 215.7,351.5 215.9,351.3 216.2,351.9 216.4,352.0 216.7,352.5 216.9,352.7 217.2,352.3 217.4,352.8 217.6,351.9 217.9,351.3 218.1,350.6 218.4,349.8 218.6,349.5 218.9,348.6 219.1,348.8 219.4,349.6 219.6,350.2 219.9,350.4 220.1,351.0 220.4,351.3 220.6,351.6 220.8,352.2 221.1,351.5 221.3,350.7 221.6,350.4 221.8,349.9 222.1,349.3 222.3,348.6 222.6,348.5 222.8,350.3 223.1,351.5 223.3,353.7 223.6,349.7 223.8,348.0 224.0,346.2 224.3,347.8 224.5,349.2 224.8,349.8 225.0,350.4 225.3,346.8 225.5,344.6 225.8,343.4 226.0,342.4 226.3,339.8 226.5,337.8 226.8,341.1 227.0,345.2 227.2,346.1 227.5,345.1 227.7,344.2 228.0,342.4 228.2,344.1 228.5,342.9 228.7,344.2 229.0,343.8 229.2,343.4 229.5,342.2 229.7,339.0 230.0,339.6 230.2,342.2 230.4,344.2 230.7,344.1 230.9,342.3 231.2,338.8 231.4,335.9 231.7,331.7 231.9,331.2 232.2,330.0 232.4,332.7 232.7,332.7 232.9,332.9 233.2,332.1 233.4,333.5 233.6,332.8 233.9,333.0 234.1,332.2 234.4,332.9 234.6,332.3 234.9,331.5 235.1,331.9 235.4,330.7 235.6,330.4 235.9,331.3 236.1,330.0 236.4,330.9 236.6,332.5 236.8,331.2 237.1,327.4 237.3,323.7 237.6,317.8 237.8,314.9 238.1,311.8 238.3,312.4 238.6,311.9 238.8,313.3 239.1,313.7 239.3,313.9 239.5,313.5 239.8,310.8 240.0,304.3 240.3,299.0 240.5,296.6 240.8,294.4 241.0,293.0 241.3,293.4 241.5,292.6 241.8,294.7 242.0,297.7 242.3,299.0 242.5,303.5 242.7,307.3 243.0,313.0 243.2,318.5 243.5,322.4 243.7,323.5 244.0,322.1 244.2,319.8 244.5,317.0 244.7,317.4 245.0,315.6 245.2,315.2 245.5,315.5 245.7,319.1 245.9,321.6 246.2,323.4 246.4,325.9 246.7,324.5 246.9,322.2 247.2,319.9 247.4,316.3 247.7,314.3 247.9,309.3 248.2,309.7 248.4,311.6 248.7,313.1 248.9,316.2 249.1,318.6 249.4,320.7 249.6,320.2 249.9,317.1 250.1,314.6 250.4,311.1 250.6,308.2 250.9,305.8 251.1,304.4 251.4,306.1 251.6,312.3 251.9,315.5 252.1,319.2 252.3,321.4 252.6,325.9 252.8,324.6 253.1,324.1 253.3,324.0 253.6,323.2 253.8,323.7 254.1,323.0 254.3,321.6 254.6,321.3 254.8,321.2 255.1,320.6 255.3,317.9 255.5,316.2 255.8,317.4 256.0,319.0 256.3,321.6 256.5,320.2 256.8,317.6 257.0,317.7 257.3,316.8 257.5,318.8 257.8,321.1 258.0,322.6 258.3,323.3 258.5,324.9 258.7,322.9 259.0,321.3 259.2,321.9 259.5,323.9 259.7,326.7 260.0,328.5 260.2,323.9 260.5,320.4 260.7,318.6 261.0,323.8 261.2,327.0 261.5,328.5 261.7,330.1 261.9,334.1 262.2,337.6 262.4,341.2 262.7,343.9 262.9,342.5 263.2,340.6 263.4,339.1 263.7,336.7 263.9,335.4 264.2,334.1 264.4,335.7 264.6,334.8 264.9,335.9 265.1,337.3 265.4,338.9 265.6,337.9 265.9,338.9 266.1,337.4 266.4,336.9 266.6,335.9 266.9,335.2 267.1,335.6 267.4,336.5 267.6,338.1 267.8,338.9 268.1,340.2 268.3,340.1 268.6,337.4 268.8,331.6 269.1,327.1 269.3,330.0 269.6,332.7 269.8,336.0 270.1,333.5 270.3,337.8 270.6,340.3 270.8,342.8 271.0,342.9 271.3,342.0 271.5,335.6 271.8,333.2 272.0,334.7 272.3,335.6 272.5,337.6 272.8,337.6 273.0,339.7 273.3,341.4 273.5,342.4 273.8,343.0 274.0,345.3 274.2,345.1 274.5,339.0 274.7,338.5 275.0,338.0 275.2,337.7 275.5,337.3 275.7,337.2 276.0,337.0 276.2,336.4 276.5,337.2 276.7,337.2 277.0,337.8 277.2,338.3 277.4,339.2 277.7,339.7 277.9,340.1 278.2,340.7 278.4,340.1 278.7,340.3 278.9,339.9 279.2,340.5 279.4,340.7 279.7,341.1 279.9,341.8 280.2,342.9 280.4,343.4 280.6,343.8 280.9,343.4 281.1,342.6 281.4,342.0 281.6,342.1 281.9,340.7 282.1,339.6 282.4,339.8 282.6,340.8 282.9,342.0 283.1,343.0 283.4,343.5 283.6,343.7 283.8,344.1 284.1,344.0 284.3,344.2 284.6,343.9 284.8,343.7 285.1,343.1 285.3,343.0 285.6,343.2 285.8,343.5 286.1,343.6 286.3,343.7 286.5,344.2 286.8,344.1 287.0,343.2 287.3,343.0 287.5,342.5 287.8,342.2 288.0,342.7 288.3,343.1 288.5,343.4 288.8,343.9 289.0,344.7 289.3,344.9 289.5,345.6 289.7,344.4 290.0,343.5 290.2,341.9 290.5,341.2 290.7,340.3 291.0,341.2 291.2,342.1 291.5,342.7 291.7,343.5 292.0,344.0 292.2,344.2 292.5,344.0 292.7,344.0 292.9,344.1 293.2,344.0 293.4,344.4 293.7,343.8 293.9,342.9 294.2,342.5 294.4,342.4 294.7,343.4 294.9,344.5 295.2,345.8 295.4,346.0 295.7,346.6 295.9,346.3 296.1,345.5 296.4,345.2 296.6,344.6 296.9,344.5 297.1,344.5 297.4,345.4 297.6,345.8 297.9,346.3 298.1,346.6 298.4,346.8 298.6,347.1 298.9,346.8 299.1,346.4 299.3,345.9 299.6,345.0 299.8,345.4 300.1,345.2 300.3,345.1 300.6,345.2 300.8,345.5 301.1,345.6 301.3,346.0 301.6,346.4 301.8,347.6 302.1,346.7 302.3,345.3 302.5,344.0 302.8,342.6 303.0,341.2 303.3,340.1 303.5,340.2 303.8,341.2 304.0,342.2 304.3,342.9 304.5,343.5 304.8,344.1 305.0,344.6 305.3,345.6 305.5,345.4 305.7,344.6 306.0,343.9 306.2,343.7 306.5,343.5 306.7,343.3 307.0,343.1 307.2,343.3 307.5,343.3 307.7,343.6 308.0,343.1 308.2,342.9 308.4,342.7 308.7,343.2 308.9,343.5 309.2,343.7 309.4,343.9 309.7,343.9 309.9,344.5 310.2,344.9 310.4,345.7 310.7,345.3 310.9,345.1 311.2,345.4 311.4,345.9 311.6,345.9 311.9,345.6 312.1,346.1 312.4,346.7 312.6,348.2 312.9,349.2 313.1,350.7 313.4,351.3 313.6,352.1 313.9,353.3 314.1,353.5 314.4,353.1 314.6,352.5 314.8,351.7 315.1,351.1 315.3,350.1 315.6,349.7 315.8,350.0 316.1,349.3 316.3,349.2 316.6,348.7 316.8,348.5 317.1,347.8 317.3,346.9 317.6,345.7 317.8,344.4 318.0,343.3 318.3,343.2 318.5,342.7 318.8,342.8 319.0,342.5 319.3,343.4 319.5,343.5 319.8,343.1 320.0,342.6 320.3,342.5 320.5,341.8 320.8,340.2 321.0,337.5 321.2,338.0 321.5,341.4 321.7,344.0 322.0,347.6 322.2,345.2 322.5,344.0 322.7,339.8 323.0,337.8 323.2,336.4 323.5,335.1 323.7,331.4 324.0,328.5 324.2,325.5 324.4,321.0 324.7,318.3 324.9,317.0 325.2,317.1 325.4,317.7 325.7,317.7 325.9,318.4 326.2,318.4 326.4,315.7 326.7,310.5 326.9,304.8 327.2,300.5 327.4,296.0 327.6,287.9 327.9,283.4 328.1,283.1 328.4,285.6 328.6,289.3 328.9,297.0 329.1,300.7 329.4,304.3 329.6,303.7 329.9,302.9 330.1,302.3 330.3,303.2 330.6,302.9 330.8,305.1 331.1,307.3 331.3,309.6 331.6,310.4 331.8,310.3 332.1,311.1 332.3,312.1 332.6,313.1 332.8,316.3 333.1,316.8 333.3,317.9 333.5,317.2 333.8,316.5 334.0,316.1 334.3,315.7 334.5,316.6 334.8,315.8 335.0,317.3 335.3,318.7 335.5,316.9 335.8,314.3 336.0,313.1 336.3,312.7 336.5,312.2 336.7,311.6 337.0,312.8 337.2,313.1 337.5,312.8 337.7,314.3 338.0,313.1 338.2,310.6 338.5,306.6 338.7,304.6 339.0,302.4 339.2,302.2 339.5,299.8 339.7,297.5 339.9,298.5 340.2,298.1 340.4,297.5 340.7,300.3 340.9,301.0 341.2,299.8 341.4,297.9 341.7,296.5 341.9,294.9 342.2,292.3 342.4,290.6 342.7,291.6 342.9,290.8 343.1,293.8 343.4,297.4 343.6,300.2 343.9,303.1 344.1,305.0 344.4,308.1 344.6,310.6 344.9,309.1 345.1,308.8 345.4,309.2 345.6,307.2 345.9,305.5 346.1,308.6 346.3,312.3 346.6,315.8 346.8,320.1 347.1,323.0 347.3,323.8 347.6,323.5 347.8,322.1 348.1,322.2 348.3,322.8 348.6,324.3 348.8,326.2 349.1,327.6 349.3,329.3 349.5,332.2 349.8,331.6 350.0,330.5 350.3,328.8 350.5,326.9 350.8,324.8 351.0,325.8 351.3,328.9 351.5,330.4 351.8,332.7 352.0,335.2 352.2,335.2 352.5,333.8 352.7,331.4 353.0,328.1 353.2,328.7 353.5,328.4 353.7,328.0 354.0,324.6 354.2,322.7 354.5,322.8 354.7,326.0 355.0,329.1 355.2,331.3 355.4,330.2 355.7,329.9 355.9,327.6 356.2,327.9 356.4,329.7 356.7,330.1 356.9,331.8 357.2,332.0 357.4,330.8 357.7,333.5 357.9,341.2 358.2,341.7 358.4,342.2 358.6,342.7 358.9,343.3 359.1,342.9 359.4,341.8 359.6,341.5 359.9,340.8 360.1,340.4 360.4,340.5 360.6,340.0 360.9,339.8 361.1,340.6 361.4,341.2 361.6,342.2 361.8,342.7 362.1,343.7 362.3,343.8 362.6,343.5 362.8,343.0 363.1,342.8 363.3,342.9 363.6,342.6 363.8,342.0 364.1,341.5 364.3,342.4 364.6,342.9 364.8,343.2 365.0,343.4 365.3,344.1 365.5,344.0 365.8,343.2 366.0,342.9 366.3,341.9 366.5,341.1 366.8,341.8 367.0,342.6 367.3,343.1 367.5,343.9 367.8,345.3 368.0,345.4 368.2,344.9 368.5,344.7 368.7,343.9 369.0,343.1 369.2,342.4 369.5,342.9 369.7,343.7 370.0,343.9 370.2,344.5 370.5,344.6 370.7,345.3 371.0,345.2 371.2,344.8 371.4,344.9 371.7,344.7 371.9,344.4 372.2,343.9 372.4,343.4 372.7,343.3 372.9,343.6 373.2,343.9 373.4,344.9 373.7,345.6 373.9,345.6 374.1,346.2 374.4,346.6 374.6,346.4 374.9,346.3 375.1,345.4 375.4,345.0 375.6,345.0 375.9,344.7 376.1,345.2 376.4,345.4 376.6,345.3 376.9,345.7 377.1,347.0 377.3,347.6 377.6,347.8 377.8,347.6 378.1,347.0 378.3,346.7 378.6,346.0 378.8,346.1 379.1,346.3 379.3,347.1 379.6,347.1 379.8,347.7 380.1,348.3 380.3,348.1 380.5,347.9 380.8,347.1 381.0,346.4 381.3,345.9 381.5,345.7 381.8,345.0 382.0,344.8 382.3,346.6 382.5,349.6 382.8,352.4 383.0,355.5 383.3,356.2 383.5,356.4 383.7,356.1 384.0,356.0 384.2,355.7 384.5,355.3 384.7,355.7 385.0,356.4 385.2,356.4 385.5,356.4 385.7,357.0 386.0,356.9 386.2,356.6 386.5,356.0 386.7,355.2 386.9,354.5 387.2,354.3 387.4,353.8 387.7,354.1 387.9,354.6 388.2,355.5 388.4,356.3 388.7,356.6 388.9,357.1 389.2,356.8 389.4,356.4 389.7,355.3 389.9,355.0 390.1,353.9 390.4,354.4 390.6,355.2 390.9,356.2 391.1,357.3 391.4,357.3 391.6,358.4 391.9,358.3 392.1,357.4 392.4,356.3 392.6,354.6 392.9,353.6 393.1,352.3 393.3,351.8 393.6,352.4 393.8,353.2 394.1,354.4 394.3,355.4 394.6,355.2 394.8,354.3 395.1,353.8 395.3,353.0 395.6,352.7 395.8,351.6 396.1,352.2 396.3,352.9 396.5,353.2 396.8,353.7 397.0,354.4 397.3,354.6 397.5,354.1 397.8,353.0 398.0,352.5 398.3,352.5 398.5,350.8 398.8,350.7 399.0,351.4 399.2,352.7 399.5,353.9 399.7,354.6 400.0,353.6 400.2,353.0 400.5,352.3 400.7,351.0 401.0,350.1 401.2,349.9 401.5,349.8 401.7,350.1 402.0,350.1 402.2,349.6 402.4,349.5 402.7,348.6 402.9,348.5 403.2,348.4 403.4,348.0 403.7,347.8 403.9,347.4 404.2,346.7 404.4,345.6 404.7,345.1 404.9,345.4 405.2,345.8 405.4,345.8 405.6,346.0 405.9,346.5 406.1,346.5 406.4,346.4 406.6,347.1 406.9,346.6 407.1,345.4 407.4,345.0 407.6,344.3 407.9,343.5 408.1,342.8 408.4,342.3 408.6,337.5 408.8,338.3 409.1,339.9 409.3,342.3 409.6,345.9 409.8,349.1 410.1,348.6 410.3,346.4 410.6,342.7 410.8,337.3 411.1,331.8 411.3,325.1 411.6,326.8 411.8,327.5 412.0,329.7 412.3,329.2 412.5,329.0 412.8,329.2 413.0,329.3 413.3,327.2 413.5,322.4 413.8,319.5 414.0,317.9 414.3,319.6 414.5,319.6 414.8,319.4 415.0,319.9 415.2,320.2 415.5,321.5 415.7,322.1 416.0,320.1 416.2,321.0 416.5,319.3 416.7,317.9 417.0,313.8 417.2,312.7 417.5,311.9 417.7,311.5 418.0,310.7 418.2,307.3 418.4,303.3 418.7,300.3 418.9,304.0 419.2,307.6 419.4,311.1 419.7,308.7 419.9,305.8 420.2,300.6 420.4,305.0 420.7,311.0 420.9,316.3 421.1,319.2 421.4,322.0 421.6,324.1 421.9,326.0 422.1,324.3 422.4,321.6 422.6,319.7 422.9,318.9 423.1,316.2 423.4,315.2 423.6,316.8 423.9,316.6 424.1,318.4 424.3,321.3 424.6,322.1 424.8,320.0 425.1,318.2 425.3,317.2 425.6,315.6 425.8,316.0 426.1,312.9 426.3,312.5 426.6,313.0 426.8,315.7 427.1,316.5 427.3,319.9 427.5,319.7 427.8,319.9 428.0,318.2 428.3,316.6 428.5,316.3 428.8,315.5 429.0,313.5 429.3,313.1 429.5,314.4 429.8,314.3 430.0,315.1 430.3,315.9 430.5,315.4 430.7,312.1 431.0,308.1 431.2,304.9 431.5,303.9 431.7,303.9 432.0,307.5 432.2,311.3 432.5,313.8 432.7,315.4 433.0,314.7 433.2,317.0 433.5,317.5 433.7,318.5 433.9,318.6 434.2,317.0 434.4,316.7 434.7,316.8 434.9,315.3 435.2,317.0 435.4,320.6 435.7,321.9 435.9,324.5 436.2,326.2 436.4,328.5 436.7,331.3 436.9,328.6 437.1,328.6 437.4,327.3 437.6,327.0 437.9,325.2 438.1,325.8 438.4,325.7 438.6,326.2 438.9,326.6 439.1,327.3 439.4,329.5 439.6,332.1 439.9,331.4 440.1,331.0 440.3,329.6 440.6,327.0 440.8,325.8 441.1,323.0 441.3,323.4 441.6,327.1 441.8,329.2 442.1,333.0 442.3,333.0 442.6,334.1 442.8,331.5 443.0,327.8 443.3,324.0 443.5,319.4 443.8,315.5 444.0,319.6 444.3,324.8 444.5,330.9 444.8,335.2 445.0,338.5 445.3,340.9 445.5,337.5 445.8,334.7 446.0,331.0 446.2,329.5 446.5,330.7 446.7,333.4 447.0,334.3 447.2,336.5 447.5,335.7 447.7,335.3 448.0,335.3 448.2,335.6 448.5,334.7 448.7,334.9 449.0,334.7 449.2,334.9 449.4,334.7 449.7,336.1 449.9,336.9 450.2,337.1 450.4,338.4 450.7,338.7 450.9,339.2 451.2,339.3 451.4,339.4 451.7,339.4 451.9,337.0 452.2,335.5 452.4,333.5 452.4,370.6 48.6,370.6"/>
<polygon fill="#c4fafa" points="48.6,350.1 48.8,352.0 49.1,351.9 49.3,350.6 49.6,349.6 49.8,348.1 50.1,346.6 50.3,344.9 50.6,345.1 50.8,345.3 51.1,345.1 51.3,344.2 51.6,343.5 51.8,343.9 52.0,344.5 52.3,343.1 52.5,341.3 52.8,341.3 53.0,341.3 53.3,341.5 53.5,341.2 53.8,343.6 54.0,344.9 54.3,346.0 54.5,347.2 54.8,347.2 55.0,348.3 55.2,346.8 55.5,346.3 55.7,343.4 56.0,342.5 56.2,341.0 56.5,340.3 56.7,339.0 57.0,337.4 57.2,335.2 57.5,333.8 57.7,335.6 58.0,337.1 58.2,339.1 58.4,340.4 58.7,340.4 58.9,336.0 59.2,333.3 59.4,328.5 59.7,326.0 59.9,322.1 60.2,324.8 60.4,329.5 60.7,334.1 60.9,335.8 61.1,332.7 61.4,327.8 61.6,322.0 61.9,323.8 62.1,327.0 62.4,329.4 62.6,334.1 62.9,334.4 63.1,336.1 63.4,336.5 63.6,336.0 63.9,334.6 64.1,333.3 64.3,333.7 64.6,333.4 64.8,335.8 65.1,338.4 65.3,340.2 65.6,342.7 65.8,344.0 66.1,344.4 66.3,344.5 66.6,345.9 66.8,346.3 67.1,349.1 67.3,350.4 67.5,351.0 67.8,351.5 68.0,350.2 68.3,348.6 68.5,346.9 68.8,345.5 69.0,343.9 69.3,343.2 69.5,343.0 69.8,343.8 70.0,344.7 70.3,343.9 70.5,344.3 70.7,342.4 71.0,340.1 71.2,337.8 71.5,335.7 71.7,338.0 72.0,343.0 72.2,345.7 72.5,346.2 72.7,346.0 73.0,344.2 73.2,342.4 73.5,339.8 73.7,336.3 73.9,333.6 74.2,329.8 74.4,329.5 74.7,327.4 74.9,328.2 75.2,331.9 75.4,333.6 75.7,333.5 75.9,327.5 76.2,322.5 76.4,318.7 76.7,319.4 76.9,321.0 77.1,324.5 77.4,328.1 77.6,331.1 77.9,334.4 78.1,337.1 78.4,339.6 78.6,339.6 78.9,340.2 79.1,337.6 79.4,338.6 79.6,339.9 79.9,341.1 80.1,342.4 80.3,341.5 80.6,341.4 80.8,342.9 81.1,345.7 81.3,347.5 81.6,348.2 81.8,346.7 82.1,345.1 82.3,344.3 82.6,344.3 82.8,345.4 83.0,347.0 83.3,347.9 83.5,348.2 83.8,349.1 84.0,349.3 84.3,347.0 84.5,344.2 84.8,342.9 85.0,343.0 85.3,344.6 85.5,341.8 85.8,342.7 86.0,342.4 86.2,343.4 86.5,346.8 86.7,349.4 87.0,351.6 87.2,353.0 87.5,350.3 87.7,348.5 88.0,345.8 88.2,343.1 88.5,342.2 88.7,343.3 89.0,345.3 89.2,347.5 89.4,351.7 89.7,353.2 89.9,353.1 90.2,353.8 90.4,352.5 90.7,352.2 90.9,350.9 91.2,350.8 91.4,352.0 91.7,353.8 91.9,354.8 92.2,355.5 92.4,356.1 92.6,356.4 92.9,356.7 93.1,357.0 93.4,356.8 93.6,355.5 93.9,355.5 94.1,354.8 94.4,354.3 94.6,356.0 94.9,356.1 95.1,356.7 95.4,356.9 95.6,357.5 95.8,357.5 96.1,357.6 96.3,357.0 96.6,356.3 96.8,356.1 97.1,354.8 97.3,353.8 97.6,354.3 97.8,355.1 98.1,355.5 98.3,356.2 98.6,356.6 98.8,356.9 99.0,356.8 99.3,357.3 99.5,357.6 99.8,357.8 100.0,357.7 100.3,357.4 100.5,357.7 100.8,357.1 101.0,356.6 101.3,357.2 101.5,356.3 101.8,356.9 102.0,357.3 102.2,357.1 102.5,357.2 102.7,357.9 103.0,358.1 103.2,358.1 103.5,350.6 103.7,339.5 104.0,339.9 104.2,340.2 104.5,341.6 104.7,342.0 104.9,343.4 105.2,344.5 105.4,344.7 105.7,344.7 105.9,344.6 106.2,344.2 106.4,343.2 106.7,342.5 106.9,342.5 107.2,342.0 107.4,342.3 107.7,342.1 107.9,342.5 108.1,343.7 108.4,344.9 108.6,344.4 108.9,343.7 109.1,343.8 109.4,343.2 109.6,343.1 109.9,343.5 110.1,344.1 110.4,344.6 110.6,345.3 110.9,345.4 111.1,344.7 111.3,343.8 111.6,342.7 111.8,341.6 112.1,341.8 112.3,342.1 112.6,342.9 112.8,343.2 113.1,344.2 113.3,344.6 113.6,345.1 113.8,344.6 114.1,343.7 114.3,343.1 114.5,342.2 114.8,341.3 115.0,340.9 115.3,341.1 115.5,341.7 115.8,342.0 116.0,342.8 116.3,343.4 116.5,344.3 116.8,344.2 117.0,344.6 117.3,343.6 117.5,343.2 117.7,343.7 118.0,343.0 118.2,342.7 118.5,342.3 118.7,342.0 119.0,342.6 119.2,342.5 119.5,343.6 119.7,344.1 120.0,344.5 120.2,345.1 120.5,345.2 120.7,344.8 120.9,344.1 121.2,343.5 121.4,342.7 121.7,342.1 121.9,341.7 122.2,341.7 122.4,342.5 122.7,342.9 122.9,343.2 123.2,343.9 123.4,342.7 123.7,341.5 123.9,339.1 124.1,337.2 124.4,336.2 124.6,336.6 124.9,337.4 125.1,338.4 125.4,339.8 125.6,340.0 125.9,341.1 126.1,340.9 126.4,340.8 126.6,340.4 126.9,340.4 127.1,339.9 127.3,340.0 127.6,339.8 127.8,339.9 128.1,340.2 128.3,340.3 128.6,340.6 128.8,340.4 129.1,339.4 129.3,338.6 129.6,337.4 129.8,335.9 130.0,336.2 130.3,336.4 130.5,337.4 130.8,339.1 131.0,340.8 131.3,341.4 131.5,341.8 131.8,341.6 132.0,341.9 132.3,342.0 132.5,341.6 132.8,341.9 133.0,342.0 133.2,341.8 133.5,341.5 133.7,342.1 134.0,342.0 134.2,342.6 134.5,342.9 134.7,343.2 135.0,343.0 135.2,343.1 135.5,343.4 135.7,343.2 136.0,343.1 136.2,343.6 136.4,344.0 136.7,344.8 136.9,345.2 137.2,346.1 137.4,346.2 137.7,336.0 137.9,330.2 138.2,326.0 138.4,328.6 138.7,331.2 138.9,332.0 139.2,330.7 139.4,328.2 139.6,329.0 139.9,332.3 140.1,335.6 140.4,339.2 140.6,342.0 140.9,344.0 141.1,343.2 141.4,341.3 141.6,338.9 141.9,336.7 142.1,335.1 142.4,334.0 142.6,330.7 142.8,329.8 143.1,330.0 143.3,329.8 143.6,331.6 143.8,331.9 144.1,332.2 144.3,332.1 144.6,330.9 144.8,328.4 145.1,325.7 145.3,324.0 145.6,323.6 145.8,325.5 146.0,322.0 146.3,321.3 146.5,325.2 146.8,329.8 147.0,331.5 147.3,330.4 147.5,331.6 147.8,332.7 148.0,333.9 148.3,334.2 148.5,335.0 148.8,334.3 149.0,334.8 149.2,332.5 149.5,332.0 149.7,330.0 150.0,331.3 150.2,332.8 150.5,334.1 150.7,335.1 151.0,336.6 151.2,337.0 151.5,338.0 151.7,333.2 151.9,327.7 152.2,321.2 152.4,316.7 152.7,318.2 152.9,322.0 153.2,322.0 153.4,322.8 153.7,325.2 153.9,326.8 154.2,326.0 154.4,326.0 154.7,324.4 154.9,323.6 155.1,321.7 155.4,322.9 155.6,322.1 155.9,320.8 156.1,322.0 156.4,320.7 156.6,323.0 156.9,322.5 157.1,324.1 157.4,325.3 157.6,325.9 157.9,324.3 158.1,323.6 158.3,321.5 158.6,320.1 158.8,319.5 159.1,317.6 159.3,316.8 159.6,317.5 159.8,317.9 160.1,317.3 160.3,316.7 160.6,314.7 160.8,312.9 161.1,312.8 161.3,313.2 161.5,313.2 161.8,313.0 162.0,313.8 162.3,311.6 162.5,311.9 162.8,313.3 163.0,311.8 163.3,313.9 163.5,313.6 163.8,312.1 164.0,310.9 164.3,306.8 164.5,308.9 164.7,311.7 165.0,314.6 165.2,317.5 165.5,319.3 165.7,320.8 166.0,322.8 166.2,321.6 166.5,318.3 166.7,317.1 167.0,318.6 167.2,318.5 167.5,319.0 167.7,320.5 167.9,323.6 168.2,324.7 168.4,326.9 168.7,326.9 168.9,329.7 169.2,330.5 169.4,331.1 169.7,330.1 169.9,331.9 170.2,330.6 170.4,330.3 170.7,329.9 170.9,329.9 171.1,334.8 171.4,337.9 171.6,342.2 171.9,344.7 172.1,347.6 172.4,350.0 172.6,347.8 172.9,345.5 173.1,343.8 173.4,341.6 173.6,339.5 173.8,340.9 174.1,341.6 174.3,343.4 174.6,344.9 174.8,347.2 175.1,347.0 175.3,346.9 175.6,346.1 175.8,345.0 176.1,344.5 176.3,343.2 176.6,339.2 176.8,338.2 177.0,335.3 177.3,339.2 177.5,341.0 177.8,342.2 178.0,340.3 178.3,339.7 178.5,338.0 178.8,337.1 179.0,335.4 179.3,336.8 179.5,337.8 179.8,340.6 180.0,341.9 180.2,343.4 180.5,344.4 180.7,344.1 181.0,344.9 181.2,345.6 181.5,346.5 181.7,347.2 182.0,347.7 182.2,346.4 182.5,343.0 182.7,344.3 183.0,343.9 183.2,344.0 183.4,344.3 183.7,344.5 183.9,345.2 184.2,345.9 184.4,347.2 184.7,347.7 184.9,348.8 185.2,349.6 185.4,349.7 185.7,349.7 185.9,349.5 186.2,349.8 186.4,349.0 186.6,348.7 186.9,348.7 187.1,348.7 187.4,349.9 187.6,351.4 187.9,352.7 188.1,353.6 188.4,353.7 188.6,353.3 188.9,353.4 189.1,353.2 189.4,352.9 189.6,352.7 189.8,354.0 190.1,354.9 190.3,355.8 190.6,357.7 190.8,358.1 191.1,358.8 191.3,359.1 191.6,358.4 191.8,358.5 192.1,358.5 192.3,358.6 192.6,358.8 192.8,360.1 193.0,360.8 193.3,360.7 193.5,360.6 193.8,359.8 194.0,360.1 194.3,359.8 194.5,359.6 194.8,360.0 195.0,359.8 195.3,359.9 195.5,359.6 195.7,360.1 196.0,360.2 196.2,360.5 196.5,361.1 196.7,361.6 197.0,362.1 197.2,362.2 197.5,361.8 197.7,360.8 198.0,360.7 198.2,360.3 198.5,359.9 198.7,360.7 198.9,361.2 199.2,361.7 199.4,362.7 199.7,363.0 199.9,363.2 200.2,362.9 200.4,362.8 200.7,362.7 200.9,362.0 201.2,361.6 201.4,360.9 201.7,360.4 201.9,360.2 202.1,360.3 202.4,360.7 202.6,360.4 202.9,361.2 203.1,360.4 203.4,359.4 203.6,359.2 203.9,358.1 204.1,357.6 204.4,356.5 204.6,356.8 204.9,357.9 205.1,358.9 205.3,359.6 205.6,360.0 205.8,359.2 206.1,358.0 206.3,357.2 206.6,355.9 206.8,356.3 207.1,357.9 207.3,358.8 207.6,360.8 207.8,361.5 208.1,360.3 208.3,358.6 208.5,357.1 208.8,356.9 209.0,356.8 209.3,356.0 209.5,356.4 209.8,356.6 210.0,356.8 210.3,357.2 210.5,357.8 210.8,358.7 211.0,359.0 211.3,358.8 211.5,358.1 211.7,358.0 212.0,356.9 212.2,357.0 212.5,356.3 212.7,356.1 213.0,355.7 213.2,355.1 213.5,355.8 213.7,355.7 214.0,356.8 214.2,357.7 214.5,358.3 214.7,358.1 214.9,358.2 215.2,357.8 215.4,357.0 215.7,356.3 215.9,356.0 216.2,356.4 216.4,356.3 216.7,356.6 216.9,356.6 217.2,356.1 217.4,356.6 217.6,355.9 217.9,355.3 218.1,354.8 218.4,354.3 218.6,353.9 218.9,353.2 219.1,353.5 219.4,354.4 219.6,355.0 219.9,355.0 220.1,355.3 220.4,355.7 220.6,355.8 220.8,356.4 221.1,355.5 221.3,354.9 221.6,354.8 221.8,354.1 222.1,353.6 222.3,353.0 222.6,352.9 222.8,354.7 223.1,355.7 223.3,357.6 223.6,353.8 223.8,351.7 224.0,349.8 224.3,351.3 224.5,352.9 224.8,353.8 225.0,354.4 225.3,350.8 225.5,348.8 225.8,347.8 226.0,347.2 226.3,344.4 226.5,342.2 226.8,345.3 227.0,349.0 227.2,349.9 227.5,348.9 227.7,347.5 228.0,345.7 228.2,347.7 228.5,346.9 228.7,348.4 229.0,348.5 229.2,348.4 229.5,347.6 229.7,344.7 230.0,345.0 230.2,347.4 230.4,349.0 230.7,348.7 230.9,346.6 231.2,342.7 231.4,339.6 231.7,335.6 231.9,335.4 232.2,334.5 232.4,337.5 232.7,337.5 232.9,337.9 233.2,336.7 233.4,338.1 233.6,337.4 233.9,337.5 234.1,336.8 234.4,337.1 234.6,336.4 234.9,335.8 235.1,336.4 235.4,335.5 235.6,335.5 235.9,336.3 236.1,335.2 236.4,336.4 236.6,338.1 236.8,337.1 237.1,333.1 237.3,328.8 237.6,322.5 237.8,319.2 238.1,315.7 238.3,315.8 238.6,315.6 238.8,317.3 239.1,317.9 239.3,318.0 239.5,318.1 239.8,315.6 240.0,309.1 240.3,303.9 240.5,301.1 240.8,298.9 241.0,297.7 241.3,297.9 241.5,297.1 241.8,299.6 242.0,302.4 242.3,303.9 242.5,308.4 242.7,312.5 243.0,318.4 243.2,323.4 243.5,327.2 243.7,328.2 244.0,326.5 244.2,324.2 244.5,320.9 244.7,321.1 245.0,319.0 245.2,318.4 245.5,319.0 245.7,323.1 245.9,325.7 246.2,327.9 246.4,330.8 246.7,329.5 246.9,327.1 247.2,324.6 247.4,320.7 247.7,318.6 247.9,313.4 248.2,313.5 248.4,315.6 248.7,317.0 248.9,320.5 249.1,323.1 249.4,325.2 249.6,324.8 249.9,321.9 250.1,319.5 250.4,315.8 250.6,312.5 250.9,309.6 251.1,307.6 251.4,308.9 251.6,314.8 251.9,318.0 252.1,321.7 252.3,324.0 252.6,329.1 252.8,328.2 253.1,328.1 253.3,328.6 253.6,328.3 253.8,328.8 254.1,328.0 254.3,326.4 254.6,325.9 254.8,325.8 255.1,325.0 255.3,322.1 255.5,320.2 255.8,321.7 256.0,323.4 256.3,326.0 256.5,324.8 256.8,322.3 257.0,322.4 257.3,321.4 257.5,323.3 257.8,325.2 258.0,326.7 258.3,327.2 258.5,328.5 258.7,326.7 259.0,325.4 259.2,325.9 259.5,328.1 259.7,331.0 260.0,332.7 260.2,328.4 260.5,324.6 260.7,322.7 261.0,327.8 261.2,331.1 261.5,332.5 261.7,334.0 261.9,337.9 262.2,341.6 262.4,345.1 262.7,347.9 262.9,346.9 263.2,345.2 263.4,343.8 263.7,341.5 263.9,339.8 264.2,338.4 264.4,339.8 264.6,338.7 264.9,339.5 265.1,341.2 265.4,342.9 265.6,342.2 265.9,343.2 266.1,341.9 266.4,341.5 266.6,340.6 266.9,339.9 267.1,340.6 267.4,341.3 267.6,342.7 267.8,343.6 268.1,344.7 268.3,344.3 268.6,341.6 268.8,335.8 269.1,331.5 269.3,334.7 269.6,337.3 269.8,340.9 270.1,338.5 270.3,342.8 270.6,345.1 270.8,347.6 271.0,347.4 271.3,346.6 271.5,339.7 271.8,337.3 272.0,338.8 272.3,339.9 272.5,341.9 272.8,342.1 273.0,344.1 273.3,345.9 273.5,347.1 273.8,347.6 274.0,350.1 274.2,349.8 274.5,343.6 274.7,343.2 275.0,342.6 275.2,342.2 275.5,341.7 275.7,341.7 276.0,341.6 276.2,341.1 276.5,342.1 276.7,342.0 277.0,342.8 277.2,343.3 277.4,344.2 277.7,344.5 277.9,344.9 278.2,345.4 278.4,344.8 278.7,345.0 278.9,344.7 279.2,345.3 279.4,345.7 279.7,346.2 279.9,346.9 280.2,348.0 280.4,348.3 280.6,348.6 280.9,347.8 281.1,346.7 281.4,345.9 281.6,345.9 281.9,344.6 282.1,343.7 282.4,344.0 282.6,345.2 282.9,346.6 283.1,347.5 283.4,348.0 283.6,347.9 283.8,348.3 284.1,348.2 284.3,348.6 284.6,348.4 284.8,348.4 285.1,348.0 285.3,348.1 285.6,348.4 285.8,348.8 286.1,348.7 286.3,348.5 286.5,348.8 286.8,348.2 287.0,347.1 287.3,346.7 287.5,346.5 287.8,346.4 288.0,347.1 288.3,347.7 288.5,348.2 288.8,348.9 289.0,349.7 289.3,349.8 289.5,350.2 289.7,349.1 290.0,348.1 290.2,346.4 290.5,345.7 290.7,344.6 291.0,345.5 291.2,346.4 291.5,347.2 291.7,348.0 292.0,348.5 292.2,348.8 292.5,348.6 292.7,348.7 292.9,348.7 293.2,348.7 293.4,349.2 293.7,348.5 293.9,347.5 294.2,347.1 294.4,347.1 294.7,347.9 294.9,349.0 295.2,350.2 295.4,350.5 295.7,351.1 295.9,350.9 296.1,350.3 296.4,350.0 296.6,349.4 296.9,349.5 297.1,349.3 297.4,350.1 297.6,350.4 297.9,350.9 298.1,351.1 298.4,351.3 298.6,351.6 298.9,351.3 299.1,351.1 299.3,350.4 299.6,349.5 299.8,349.9 300.1,349.4 300.3,349.0 300.6,348.9 300.8,348.9 301.1,348.8 301.3,348.8 301.6,349.3 301.8,350.8 302.1,349.9 302.3,349.0 302.5,348.0 302.8,347.0 303.0,345.8 303.3,345.0 303.5,344.9 303.8,345.7 304.0,346.8 304.3,347.3 304.5,347.8 304.8,348.3 305.0,348.8 305.3,349.8 305.5,349.7 305.7,349.1 306.0,348.6 306.2,348.4 306.5,348.3 306.7,348.3 307.0,348.0 307.2,348.2 307.5,348.2 307.7,348.2 308.0,347.7 308.2,347.4 308.4,347.1 308.7,347.5 308.9,347.8 309.2,348.1 309.4,348.4 309.7,348.3 309.9,349.0 310.2,349.4 310.4,350.2 310.7,349.9 310.9,349.8 311.2,349.9 311.4,350.4 311.6,350.4 311.9,349.9 312.1,350.5 312.4,351.1 312.6,352.5 312.9,353.6 313.1,355.2 313.4,355.9 313.6,356.6 313.9,357.9 314.1,358.2 314.4,357.7 314.6,357.0 314.8,356.0 315.1,355.6 315.3,354.4 315.6,354.1 315.8,354.3 316.1,353.6 316.3,353.7 316.6,353.5 316.8,353.3 317.1,352.8 317.3,352.0 317.6,350.9 317.8,349.6 318.0,348.4 318.3,348.2 318.5,347.8 318.8,347.8 319.0,347.3 319.3,348.2 319.5,348.3 319.8,347.9 320.0,347.3 320.3,347.4 320.5,346.7 320.8,345.2 321.0,342.3 321.2,342.9 321.5,346.3 321.7,348.7 322.0,352.1 322.2,349.3 322.5,347.9 322.7,343.6 323.0,341.5 323.2,340.1 323.5,338.8 323.7,335.5 324.0,332.6 324.2,329.6 324.4,325.3 324.7,322.7 324.9,321.3 325.2,321.3 325.4,321.6 325.7,321.5 325.9,322.2 326.2,321.9 326.4,319.2 326.7,313.8 326.9,308.6 327.2,304.5 327.4,300.0 327.6,292.2 327.9,288.1 328.1,287.9 328.4,290.7 328.6,294.3 328.9,301.6 329.1,305.2 329.4,308.6 329.6,307.9 329.9,307.0 330.1,306.6 330.3,307.5 330.6,307.1 330.8,309.4 331.1,311.8 331.3,314.1 331.6,315.0 331.8,314.7 332.1,315.5 332.3,316.5 332.6,317.2 332.8,320.5 333.1,320.9 333.3,321.9 333.5,321.3 333.8,320.7 334.0,320.3 334.3,320.1 334.5,321.0 334.8,320.4 335.0,322.1 335.3,323.5 335.5,322.1 335.8,319.4 336.0,318.3 336.3,317.8 336.5,317.2 336.7,316.4 337.0,317.6 337.2,317.6 337.5,317.2 337.7,319.0 338.0,317.7 338.2,315.3 338.5,311.5 338.7,309.7 339.0,307.5 339.2,307.4 339.5,304.4 339.7,301.9 339.9,302.8 340.2,302.1 340.4,301.4 340.7,304.2 340.9,305.1 341.2,304.1 341.4,302.4 341.7,301.1 341.9,299.9 342.2,297.6 342.4,295.6 342.7,296.3 342.9,295.2 343.1,298.1 343.4,301.4 343.6,304.0 343.9,306.7 344.1,308.3 344.4,311.8 344.6,314.5 344.9,313.7 345.1,313.5 345.4,314.2 345.6,312.0 345.9,310.1 346.1,313.0 346.3,316.3 346.6,319.6 346.8,323.5 347.1,326.5 347.3,327.5 347.6,327.2 347.8,326.2 348.1,326.3 348.3,327.2 348.6,328.9 348.8,330.8 349.1,332.2 349.3,333.8 349.5,336.8 349.8,336.1 350.0,334.9 350.3,333.2 350.5,331.1 350.8,329.2 351.0,330.2 351.3,333.2 351.5,335.1 351.8,337.3 352.0,339.9 352.2,339.9 352.5,338.7 352.7,336.4 353.0,333.1 353.2,333.5 353.5,333.1 353.7,332.7 354.0,329.1 354.2,327.0 354.5,326.8 354.7,330.0 355.0,332.9 355.2,335.1 355.4,334.2 355.7,334.1 355.9,331.7 356.2,332.3 356.4,334.4 356.7,334.9 356.9,336.5 357.2,336.6 357.4,335.2 357.7,337.7 357.9,345.5 358.2,345.9 358.4,346.4 358.6,347.1 358.9,347.6 359.1,347.3 359.4,346.4 359.6,346.0 359.9,345.6 360.1,345.3 360.4,345.1 360.6,344.6 360.9,344.5 361.1,345.1 361.4,345.6 361.6,346.6 361.8,347.0 362.1,347.9 362.3,348.1 362.6,347.6 362.8,347.1 363.1,347.0 363.3,347.2 363.6,347.0 363.8,346.4 364.1,346.3 364.3,347.2 364.6,347.7 364.8,348.1 365.0,348.1 365.3,348.7 365.5,348.4 365.8,347.5 366.0,347.1 366.3,346.1 366.5,345.3 366.8,346.2 367.0,347.0 367.3,347.8 367.5,348.7 367.8,350.1 368.0,350.5 368.2,349.9 368.5,349.4 368.7,348.5 369.0,347.6 369.2,346.8 369.5,347.1 369.7,348.0 370.0,348.3 370.2,349.0 370.5,349.1 370.7,350.0 371.0,349.9 371.2,349.7 371.4,349.8 371.7,349.6 371.9,349.2 372.2,348.7 372.4,348.1 372.7,348.0 372.9,348.1 373.2,348.4 373.4,349.1 373.7,350.0 373.9,350.1 374.1,350.6 374.4,351.2 374.6,351.1 374.9,351.3 375.1,350.2 375.4,350.1 375.6,350.1 375.9,349.7 376.1,349.9 376.4,349.8 376.6,349.6 376.9,349.9 377.1,351.0 377.3,351.2 377.6,351.5 377.8,351.5 378.1,351.0 378.3,350.9 378.6,350.3 378.8,350.5 379.1,351.0 379.3,351.7 379.6,351.7 379.8,352.2 380.1,352.8 380.3,352.4 380.5,352.1 380.8,351.2 381.0,350.3 381.3,349.8 381.5,349.8 381.8,349.0 382.0,349.1 382.3,351.0 382.5,354.1 382.8,357.0 383.0,359.9 383.3,360.5 383.5,360.6 383.7,360.0 384.0,359.7 384.2,359.3 384.5,358.8 384.7,359.0 385.0,359.9 385.2,360.0 385.5,360.4 385.7,361.2 386.0,361.3 386.2,361.1 386.5,360.7 386.7,360.1 386.9,359.5 387.2,359.1 387.4,358.4 387.7,358.5 387.9,358.8 388.2,359.6 388.4,360.3 388.7,360.5 388.9,361.2 389.2,361.1 389.4,361.1 389.7,360.2 389.9,360.1 390.1,359.2 390.4,360.0 390.6,360.4 390.9,361.2 391.1,362.2 391.4,362.0 391.6,362.9 391.9,362.7 392.1,361.7 392.4,360.7 392.6,359.1 392.9,358.1 393.1,356.8 393.3,356.6 393.6,357.2 393.8,358.2 394.1,359.5 394.3,360.6 394.6,360.2 394.8,359.2 395.1,358.6 395.3,357.8 395.6,357.4 395.8,356.1 396.1,356.7 396.3,357.3 396.5,357.4 396.8,357.9 397.0,358.7 397.3,358.9 397.5,358.6 397.8,357.5 398.0,357.2 398.3,357.2 398.5,355.4 398.8,355.4 399.0,356.0 399.2,357.2 399.5,358.3 399.7,359.0 400.0,358.0 400.2,357.3 400.5,356.6 400.7,355.4 401.0,354.4 401.2,354.5 401.5,354.4 401.7,354.7 402.0,354.7 402.2,354.4 402.4,354.3 402.7,353.6 402.9,353.2 403.2,353.0 403.4,352.4 403.7,352.0 403.9,351.4 404.2,350.6 404.4,349.6 404.7,349.4 404.9,349.8 405.2,350.3 405.4,350.5 405.6,350.6 405.9,350.9 406.1,350.8 406.4,350.6 406.6,351.2 406.9,350.6 407.1,349.2 407.4,348.6 407.6,348.1 407.9,347.4 408.1,347.1 408.4,346.7 408.6,342.1 408.8,343.3 409.1,345.4 409.3,348.0 409.6,350.8 409.8,353.4 410.1,352.2 410.3,349.6 410.6,345.3 410.8,340.1 411.1,334.8 411.3,328.9 411.6,330.6 411.8,332.0 412.0,334.5 412.3,334.4 412.5,334.7 412.8,334.3 413.0,334.2 413.3,331.6 413.5,326.8 413.8,323.5 414.0,321.6 414.3,323.4 414.5,323.8 414.8,324.0 415.0,324.7 415.2,325.6 415.5,327.1 415.7,327.9 416.0,325.6 416.2,326.1 416.5,324.3 416.7,322.6 417.0,318.0 417.2,316.8 417.5,315.9 417.7,315.8 418.0,315.2 418.2,311.9 418.4,308.3 418.7,305.2 418.9,308.4 419.2,311.7 419.4,314.9 419.7,312.1 419.9,308.7 420.2,303.2 420.4,307.5 420.7,313.5 420.9,319.4 421.1,323.0 421.4,326.2 421.6,328.5 421.9,331.0 422.1,329.2 422.4,326.2 422.6,324.3 422.9,323.3 423.1,320.7 423.4,319.4 423.6,321.0 423.9,320.7 424.1,322.6 424.3,325.8 424.6,326.7 424.8,324.9 425.1,323.1 425.3,322.1 425.6,320.8 425.8,321.2 426.1,318.1 426.3,317.6 426.6,317.9 426.8,320.5 427.1,321.2 427.3,324.3 427.5,323.9 427.8,323.9 428.0,322.2 428.3,320.7 428.5,320.5 428.8,319.9 429.0,317.9 429.3,317.6 429.5,319.0 429.8,318.8 430.0,319.6 430.3,320.3 430.5,319.7 430.7,316.3 431.0,312.4 431.2,309.2 431.5,308.5 431.7,308.8 432.0,312.3 432.2,316.3 432.5,318.9 432.7,320.6 433.0,320.0 433.2,322.1 433.5,322.4 433.7,323.2 433.9,323.2 434.2,321.5 434.4,321.3 434.7,321.4 434.9,320.1 435.2,321.9 435.4,325.5 435.7,327.1 435.9,329.9 436.2,331.7 436.4,333.8 436.7,336.2 436.9,333.6 437.1,333.3 437.4,331.9 437.6,331.2 437.9,329.2 438.1,329.8 438.4,329.9 438.6,330.4 438.9,331.1 439.1,331.8 439.4,334.3 439.6,336.9 439.9,336.3 440.1,335.7 440.3,334.2 440.6,331.6 440.8,330.1 441.1,327.6 441.3,327.8 441.6,331.6 441.8,333.5 442.1,337.4 442.3,337.2 442.6,338.4 442.8,335.7 443.0,332.1 443.3,328.1 443.5,323.2 443.8,319.2 444.0,323.2 444.3,327.9 444.5,333.9 444.8,338.2 445.0,341.3 445.3,343.6 445.5,340.8 445.8,338.7 446.0,335.4 446.2,334.3 446.5,336.0 446.7,338.6 447.0,339.1 447.2,341.2 447.5,340.1 447.7,339.8 448.0,339.6 448.2,339.6 448.5,338.8 448.7,339.1 449.0,339.3 449.2,339.7 449.4,339.7 449.7,341.3 449.9,341.9 450.2,341.8 450.4,343.1 450.7,343.3 450.9,343.4 451.2,343.3 451.4,343.6 451.7,343.5 451.9,341.3 452.2,339.9 452.4,338.2 452.4,370.6 48.6,370.6"/>
<polygon fill="#80b7fa" points="48.6,362.3 48.8,363.7 49.1,363.6 49.3,362.9 49.6,362.7 49.8,362.0 50.1,360.5 50.3,359.6 50.6,360.2 50.8,360.1 51.1,360.0 51.3,358.7 51.6,358.6 51.8,358.5 52.0,358.6 52.3,357.7 52.5,356.7 52.8,357.1 53.0,357.7 53.3,358.6 53.5,359.2 53.8,360.7 54.0,361.3 54.3,362.3 54.5,362.9 54.8,362.1 55.0,362.4 55.2,360.7 55.5,360.9 55.7,358.5 56.0,358.0 56.2,356.5 56.5,355.5 56.7,354.3 57.0,352.3 57.2,350.7 57.5,348.9 57.7,350.5 58.0,352.7 58.2,354.6 58.4,356.8 58.7,357.5 58.9,353.5 59.2,350.4 59.4,346.0 59.7,343.1 59.9,339.0 60.2,341.4 60.4,346.5 60.7,351.4 60.9,352.5 61.1,347.8 61.4,342.2 61.6,335.8 61.9,338.7 62.1,343.9 62.4,348.5 62.6,354.3 62.9,354.3 63.1,354.9 63.4,355.1 63.6,353.2 63.9,351.2 64.1,349.4 64.3,349.8 64.6,350.2 64.8,353.2 65.1,355.7 65.3,357.8 65.6,360.5 65.8,361.0 66.1,360.7 66.3,359.5 66.6,359.7 66.8,359.3 67.1,361.0 67.3,362.1 67.5,363.7 67.8,363.9 68.0,363.6 68.3,363.6 68.5,362.8 68.8,362.0 69.0,360.8 69.3,359.7 69.5,358.8 69.8,358.6 70.0,358.2 70.3,357.8 70.5,358.3 70.7,357.5 71.0,356.6 71.2,355.7 71.5,355.3 71.7,358.1 72.0,361.4 72.2,362.1 72.5,361.6 72.7,360.2 73.0,357.7 73.2,355.9 73.5,354.7 73.7,352.3 73.9,350.0 74.2,347.6 74.4,346.8 74.7,344.6 74.9,345.1 75.2,349.2 75.4,351.7 75.7,352.9 75.9,347.8 76.2,343.7 76.4,340.1 76.7,341.3 76.9,343.7 77.1,346.6 77.4,349.8 77.6,351.7 77.9,353.6 78.1,355.1 78.4,356.3 78.6,356.4 78.9,356.7 79.1,355.4 79.4,355.9 79.6,356.9 79.9,357.7 80.1,359.0 80.3,357.7 80.6,357.6 80.8,358.6 81.1,360.3 81.3,360.7 81.6,361.6 81.8,360.7 82.1,360.6 82.3,360.3 82.6,361.0 82.8,362.3 83.0,364.1 83.3,363.8 83.5,363.2 83.8,362.3 84.0,360.2 84.3,357.2 84.5,356.1 84.8,356.5 85.0,358.5 85.3,360.8 85.5,359.3 85.8,359.6 86.0,358.9 86.2,359.8 86.5,361.8 86.7,363.0 87.0,364.3 87.2,366.0 87.5,364.4 87.7,363.8 88.0,362.7 88.2,361.4 88.5,361.0 88.7,362.7 89.0,364.1 89.2,364.1 89.4,365.6 89.7,364.8 89.9,364.1 90.2,364.8 90.4,364.8 90.7,364.6 90.9,364.2 91.2,364.6 91.4,366.0 91.7,367.5 91.9,368.1 92.2,367.8 92.4,368.2 92.6,367.7 92.9,367.0 93.1,366.1 93.4,365.1 93.6,365.1 93.9,365.7 94.1,365.9 94.4,366.2 94.6,367.1 94.9,367.3 95.1,367.4 95.4,367.4 95.6,367.7 95.8,367.7 96.1,367.5 96.3,367.3 96.6,366.9 96.8,366.9 97.1,366.1 97.3,365.4 97.6,365.9 97.8,366.5 98.1,366.5 98.3,366.9 98.6,366.7 98.8,366.7 99.0,366.7 99.3,367.0 99.5,367.4 99.8,368.1 100.0,368.0 100.3,368.3 100.5,368.4 100.8,368.4 101.0,368.2 101.3,368.1 101.5,367.2 101.8,367.0 102.0,366.5 102.2,366.6 102.5,367.2 102.7,367.9 103.0,368.5 103.2,368.9 103.5,363.4 103.7,354.6 104.0,354.0 104.2,353.4 104.5,353.6 104.7,353.2 104.9,353.4 105.2,353.9 105.4,354.3 105.7,354.6 105.9,354.9 106.2,355.1 106.4,355.0 106.7,354.1 106.9,354.1 107.2,353.5 107.4,353.2 107.7,352.7 107.9,352.6 108.1,353.3 108.4,354.0 108.6,353.9 108.9,353.1 109.1,353.1 109.4,352.8 109.6,352.5 109.9,352.9 110.1,353.3 110.4,353.7 110.6,354.0 110.9,354.2 111.1,353.7 111.3,353.2 111.6,352.6 111.8,352.2 112.1,352.2 112.3,352.4 112.6,352.8 112.8,352.9 113.1,353.2 113.3,353.2 113.6,353.4 113.8,352.9 114.1,352.3 114.3,352.0 114.5,351.5 114.8,351.1 115.0,350.9 115.3,351.3 115.5,351.6 115.8,351.5 116.0,351.9 116.3,352.1 116.5,352.3 116.8,352.1 117.0,352.8 117.3,352.6 117.5,353.1 117.7,354.0 118.0,354.1 118.2,354.7 118.5,354.1 118.7,353.7 119.0,353.6 119.2,353.2 119.5,353.4 119.7,353.2 120.0,353.1 120.2,353.5 120.5,353.5 120.7,353.3 120.9,353.2 121.2,352.8 121.4,352.5 121.7,352.0 121.9,352.0 122.2,352.0 122.4,352.5 122.7,352.6 122.9,352.8 123.2,353.3 123.4,352.8 123.7,352.0 123.9,350.6 124.1,349.9 124.4,349.3 124.6,349.3 124.9,349.5 125.1,350.0 125.4,350.8 125.6,351.0 125.9,352.2 126.1,352.4 126.4,352.6 126.6,352.7 126.9,352.4 127.1,351.6 127.3,351.2 127.6,350.7 127.8,350.4 128.1,350.3 128.3,350.8 128.6,351.1 128.8,351.4 129.1,351.2 129.3,350.7 129.6,349.9 129.8,348.9 130.0,348.7 130.3,348.4 130.5,348.8 130.8,349.6 131.0,350.3 131.3,350.5 131.5,350.7 131.8,350.8 132.0,351.2 132.3,351.5 132.5,351.6 132.8,351.8 133.0,351.7 133.2,351.0 133.5,350.5 133.7,350.5 134.0,350.1 134.2,350.4 134.5,350.7 134.7,351.0 135.0,351.2 135.2,351.5 135.5,351.7 135.7,351.0 136.0,350.5 136.2,350.2 136.4,349.9 136.7,349.7 136.9,349.3 137.2,349.5 137.4,349.8 137.7,343.9 137.9,340.6 138.2,337.7 138.4,339.8 138.7,341.6 138.9,342.0 139.2,341.3 139.4,339.2 139.6,339.1 139.9,340.7 140.1,341.9 140.4,344.1 140.6,345.4 140.9,346.1 141.1,346.1 141.4,345.6 141.6,344.5 141.9,343.6 142.1,342.8 142.4,342.6 142.6,340.9 142.8,341.1 143.1,342.0 143.3,342.5 143.6,343.9 143.8,345.0 144.1,345.2 144.3,345.2 144.6,344.8 144.8,342.6 145.1,340.8 145.3,338.9 145.6,339.1 145.8,340.3 146.0,338.0 146.3,337.4 146.5,340.1 146.8,343.4 147.0,344.8 147.3,343.3 147.5,343.2 147.8,343.5 148.0,343.9 148.3,343.4 148.5,343.8 148.8,342.3 149.0,342.6 149.2,341.4 149.5,341.3 149.7,340.4 150.0,341.2 150.2,343.6 150.5,344.7 150.7,345.4 151.0,346.3 151.2,346.1 151.5,345.8 151.7,342.4 151.9,338.2 152.2,332.8 152.4,330.5 152.7,332.3 152.9,336.0 153.2,336.5 153.4,337.6 153.7,339.4 153.9,339.8 154.2,339.2 154.4,340.2 154.7,338.7 154.9,338.5 155.1,337.1 155.4,337.9 155.6,338.3 155.9,337.8 156.1,338.8 156.4,338.7 156.6,341.0 156.9,340.2 157.1,341.3 157.4,342.2 157.6,342.6 157.9,341.4 158.1,341.7 158.3,340.4 158.6,339.3 158.8,339.3 159.1,337.9 159.3,337.9 159.6,338.0 159.8,338.2 160.1,337.6 160.3,336.8 160.6,335.5 160.8,334.1 161.1,334.6 161.3,335.5 161.5,335.7 161.8,336.9 162.0,337.6 162.3,336.0 162.5,335.4 162.8,336.0 163.0,334.3 163.3,335.9 163.5,335.6 163.8,335.1 164.0,335.8 164.3,333.8 164.5,336.2 164.7,339.0 165.0,341.7 165.2,344.6 165.5,345.1 165.7,345.4 166.0,345.4 166.2,343.9 166.5,341.1 166.7,339.5 167.0,339.9 167.2,339.5 167.5,339.6 167.7,340.4 167.9,341.9 168.2,343.0 168.4,343.9 168.7,344.2 168.9,345.1 169.2,345.5 169.4,345.6 169.7,344.9 169.9,346.0 170.2,345.1 170.4,344.9 170.7,344.3 170.9,344.3 171.1,347.1 171.4,349.0 171.6,351.7 171.9,353.2 172.1,354.9 172.4,355.4 172.6,354.0 172.9,352.2 173.1,351.8 173.4,350.6 173.6,349.4 173.8,350.6 174.1,350.4 174.3,350.7 174.6,351.0 174.8,351.7 175.1,351.4 175.3,351.1 175.6,351.3 175.8,351.4 176.1,351.9 176.3,352.5 176.6,350.7 176.8,350.6 177.0,347.9 177.3,350.2 177.5,350.6 177.8,350.9 178.0,349.1 178.3,347.8 178.5,346.1 178.8,345.1 179.0,344.7 179.3,347.4 179.5,349.1 179.8,352.0 180.0,353.5 180.2,354.0 180.5,354.2 180.7,353.1 181.0,352.8 181.2,352.8 181.5,352.7 181.7,352.3 182.0,353.3 182.2,352.9 182.5,351.3 182.7,357.1 183.0,356.9 183.2,357.0 183.4,357.0 183.7,356.9 183.9,357.0 184.2,357.1 184.4,357.2 184.7,357.4 184.9,358.1 185.2,358.7 185.4,358.9 185.7,359.1 185.9,358.5 186.2,358.3 186.4,357.2 186.6,356.6 186.9,356.2 187.1,355.5 187.4,355.8 187.6,356.5 187.9,357.6 188.1,358.3 188.4,358.7 188.6,358.5 188.9,358.2 189.1,357.5 189.4,356.8 189.6,366.1 189.8,366.5 190.1,367.0 190.3,367.6 190.6,368.5 190.8,368.9 191.1,369.2 191.3,369.2 191.6,368.2 191.8,367.9 192.1,367.5 192.3,366.9 192.6,366.8 192.8,367.2 193.0,367.5 193.3,367.8 193.5,367.8 193.8,367.8 194.0,368.1 194.3,368.4 194.5,368.3 194.8,368.4 195.0,368.3 195.3,368.0 195.5,367.5 195.7,367.7 196.0,367.5 196.2,367.5 196.5,367.9 196.7,368.2 197.0,368.5 197.2,368.5 197.5,368.6 197.7,368.0 198.0,368.2 198.2,367.5 198.5,366.9 198.7,367.1 198.9,366.8 199.2,366.7 199.4,367.1 199.7,367.3 199.9,367.8 200.2,367.9 200.4,368.4 200.7,368.2 200.9,368.0 201.2,367.7 201.4,367.7 201.7,367.5 201.9,367.6 202.1,367.7 202.4,368.1 202.6,368.0 202.9,368.9 203.1,368.3 203.4,368.1 203.6,367.9 203.9,367.1 204.1,366.8 204.4,366.1 204.6,366.3 204.9,367.1 205.1,367.6 205.3,368.4 205.6,368.9 205.8,368.7 206.1,368.3 206.3,367.8 206.6,367.0 206.8,367.0 207.1,367.8 207.3,368.0 207.6,368.7 207.8,369.5 208.1,369.0 208.3,368.3 208.5,367.7 208.8,368.2 209.0,368.1 209.3,367.4 209.5,367.6 209.8,367.5 210.0,367.4 210.3,367.4 210.5,367.7 210.8,368.0 211.0,368.4 211.3,368.2 211.5,367.8 211.7,367.8 212.0,366.6 212.2,366.4 212.5,365.5 212.7,365.0 213.0,364.7 213.2,364.8 213.5,365.3 213.7,365.6 214.0,366.7 214.2,367.3 214.5,367.4 214.7,367.0 214.9,366.9 215.2,366.3 215.4,365.7 215.7,365.4 215.9,365.5 216.2,366.0 216.4,366.3 216.7,366.5 216.9,366.3 217.2,365.9 217.4,365.9 217.6,365.2 217.9,364.8 218.1,364.6 218.4,364.4 218.6,364.5 218.9,364.1 219.1,364.6 219.4,365.2 219.6,365.6 219.9,365.3 220.1,365.4 220.4,365.1 220.6,364.9 220.8,365.0 221.1,364.1 221.3,363.8 221.6,364.2 221.8,364.2 222.1,364.5 222.3,364.3 222.6,364.4 222.8,364.6 223.1,365.3 223.3,366.3 223.6,363.2 223.8,361.5 224.0,360.0 224.3,361.3 224.5,363.3 224.8,364.3 225.0,365.2 225.3,363.8 225.5,362.6 225.8,362.3 226.0,361.4 226.3,359.3 226.5,357.7 226.8,359.5 227.0,362.2 227.2,362.9 227.5,362.1 227.7,361.7 228.0,360.8 228.2,362.5 228.5,362.1 228.7,363.3 229.0,363.0 229.2,362.1 229.5,361.0 229.7,358.5 230.0,359.0 230.2,360.8 230.4,362.3 230.7,362.9 230.9,362.5 231.2,359.9 231.4,358.2 231.7,356.0 231.9,355.4 232.2,355.4 232.4,357.2 232.7,357.5 232.9,357.7 233.2,357.2 233.4,358.2 233.6,358.3 233.9,359.1 234.1,359.2 234.4,359.9 234.6,360.9 234.9,359.6 235.1,359.2 235.4,358.0 235.6,357.4 235.9,357.2 236.1,356.5 236.4,357.4 236.6,358.5 236.8,357.9 237.1,356.2 237.3,354.8 237.6,352.4 237.8,351.6 238.1,350.3 238.3,351.2 238.6,351.9 238.8,353.4 239.1,354.4 239.3,355.7 239.5,357.0 239.8,358.3 240.0,355.9 240.3,349.7 240.5,342.9 240.8,340.1 241.0,338.6 241.3,335.2 241.5,331.3 241.8,329.7 242.0,329.3 242.3,328.6 242.5,331.2 242.7,332.3 243.0,335.1 243.2,337.6 243.5,339.2 243.7,338.8 244.0,336.6 244.2,335.1 244.5,333.2 244.7,333.5 245.0,332.8 245.2,333.3 245.5,333.7 245.7,336.6 245.9,338.3 246.2,339.5 246.4,340.5 246.7,339.7 246.9,338.1 247.2,336.5 247.4,333.3 247.7,332.2 247.9,328.6 248.2,328.9 248.4,329.5 248.7,330.9 248.9,332.3 249.1,334.0 249.4,335.8 249.6,335.3 249.9,333.1 250.1,331.1 250.4,328.2 250.6,326.1 250.9,324.0 251.1,323.0 251.4,323.7 251.6,327.4 251.9,329.3 252.1,331.4 252.3,332.7 252.6,335.2 252.8,334.2 253.1,333.3 253.3,332.4 253.6,331.7 253.8,331.6 254.1,331.4 254.3,331.2 254.6,331.5 254.8,332.6 255.1,332.2 255.3,330.6 255.5,330.1 255.8,331.7 256.0,332.6 256.3,335.2 256.5,334.0 256.8,332.7 257.0,332.8 257.3,332.3 257.5,334.1 257.8,335.9 258.0,337.2 258.3,337.9 258.5,339.2 258.7,337.0 259.0,335.0 259.2,335.3 259.5,336.4 259.7,338.5 260.0,340.9 260.2,338.4 260.5,336.8 260.7,335.9 261.0,340.6 261.2,341.8 261.5,341.9 261.7,342.1 261.9,344.4 262.2,346.5 262.4,348.8 262.7,350.8 262.9,350.4 263.2,349.8 263.4,349.3 263.7,347.6 263.9,346.5 264.2,344.7 264.4,345.4 264.6,343.8 264.9,344.6 265.1,346.3 265.4,348.1 265.6,348.5 265.9,350.1 266.1,349.3 266.4,348.2 266.6,347.2 266.9,346.3 267.1,345.7 267.4,345.7 267.6,346.1 267.8,347.1 268.1,348.3 268.3,348.4 268.6,347.2 268.8,343.3 269.1,339.4 269.3,341.4 269.6,343.6 269.8,345.6 270.1,343.8 270.3,346.3 270.6,348.2 270.8,350.6 271.0,350.4 271.3,350.3 271.5,346.8 271.8,345.0 272.0,345.6 272.3,346.5 272.5,347.4 272.8,346.4 273.0,347.6 273.3,348.7 273.5,349.9 273.8,351.0 274.0,352.7 274.2,352.7 274.5,352.7 274.7,352.4 275.0,352.0 275.2,351.7 275.5,351.6 275.7,351.3 276.0,351.3 276.2,351.2 276.5,351.7 276.7,351.7 277.0,352.1 277.2,352.6 277.4,352.9 277.7,352.9 277.9,352.8 278.2,352.7 278.4,352.1 278.7,352.4 278.9,352.4 279.2,352.8 279.4,353.2 279.7,353.6 279.9,353.9 280.2,354.5 280.4,354.8 280.6,355.0 280.9,354.6 281.1,354.0 281.4,353.6 281.6,353.7 281.9,352.9 282.1,352.2 282.4,352.3 282.6,353.1 282.9,353.9 283.1,354.2 283.4,354.3 283.6,354.0 283.8,354.1 284.1,354.0 284.3,354.4 284.6,354.4 284.8,354.6 285.1,354.4 285.3,354.5 285.6,354.9 285.8,355.4 286.1,355.3 286.3,355.2 286.5,355.5 286.8,355.3 287.0,354.6 287.3,354.5 287.5,354.0 287.8,353.8 288.0,354.3 288.3,354.7 288.5,355.0 288.8,355.5 289.0,356.1 289.3,356.5 289.5,356.9 289.7,356.2 290.0,355.5 290.2,354.4 290.5,354.0 290.7,353.2 291.0,353.7 291.2,354.5 291.5,355.1 291.7,355.6 292.0,356.1 292.2,356.4 292.5,356.0 292.7,355.9 292.9,355.9 293.2,355.8 293.4,356.0 293.7,355.4 293.9,354.7 294.2,354.3 294.4,354.2 294.7,355.1 294.9,355.8 295.2,356.6 295.4,356.9 295.7,357.3 295.9,357.0 296.1,356.4 296.4,356.1 296.6,355.6 296.9,355.3 297.1,355.2 297.4,355.4 297.6,355.5 297.9,356.0 298.1,356.4 298.4,356.6 298.6,356.9 298.9,356.8 299.1,356.5 299.3,356.4 299.6,355.8 299.8,356.2 300.1,355.9 300.3,356.0 300.6,356.2 300.8,356.6 301.1,356.6 301.3,356.9 301.6,357.3 301.8,358.3 302.1,357.9 302.3,356.9 302.5,356.1 302.8,355.3 303.0,354.5 303.3,353.9 303.5,354.3 303.8,355.3 304.0,356.3 304.3,356.8 304.5,357.5 304.8,358.3 305.0,358.8 305.3,359.0 305.5,358.4 305.7,357.5 306.0,356.7 306.2,356.1 306.5,356.2 306.7,356.6 307.0,356.9 307.2,357.5 307.5,357.7 307.7,357.8 308.0,357.2 308.2,356.7 308.4,356.4 308.7,356.4 308.9,356.6 309.2,357.0 309.4,357.1 309.7,357.2 309.9,357.8 310.2,358.1 310.4,358.6 310.7,358.0 310.9,357.7 311.2,357.2 311.4,356.9 311.6,362.4 311.9,361.8 312.1,361.7 312.4,362.1 312.6,362.8 312.9,363.3 313.1,364.0 313.4,363.9 313.6,364.0 313.9,364.1 314.1,363.9 314.4,363.8 314.6,363.5 314.8,363.1 315.1,363.0 315.3,362.6 315.6,363.0 315.8,363.5 316.1,363.7 316.3,364.2 316.6,363.9 316.8,364.1 317.1,363.6 317.3,363.3 317.6,362.7 317.8,362.3 318.0,362.2 318.3,362.5 318.5,362.8 318.8,363.4 319.0,363.8 319.3,364.0 319.5,363.9 319.8,363.5 320.0,363.0 320.3,362.8 320.5,357.6 320.8,355.8 321.0,352.9 321.2,352.4 321.5,354.1 321.7,354.9 322.0,357.0 322.2,355.2 322.5,354.1 322.7,350.6 323.0,349.1 323.2,347.9 323.5,347.1 323.7,344.4 324.0,342.4 324.2,340.7 324.4,337.8 324.7,335.9 324.9,335.1 325.2,335.2 325.4,335.0 325.7,334.2 325.9,334.0 326.2,333.3 326.4,330.4 326.7,327.0 326.9,322.7 327.2,320.5 327.4,317.1 327.6,311.5 327.9,308.0 328.1,307.5 328.4,309.0 328.6,311.5 328.9,316.5 329.1,318.1 329.4,321.6 329.6,322.4 329.9,322.8 330.1,323.5 330.3,325.3 330.6,326.0 330.8,328.6 331.1,328.6 331.3,327.4 331.6,326.3 331.8,324.0 332.1,323.6 332.3,324.8 332.6,325.8 332.8,328.4 333.1,328.8 333.3,330.2 333.5,330.6 333.8,330.4 334.0,330.0 334.3,329.0 334.5,329.3 334.8,328.3 335.0,329.2 335.3,329.6 335.5,328.4 335.8,326.9 336.0,326.6 336.3,326.7 336.5,326.9 336.7,326.9 337.0,328.2 337.2,329.0 337.5,328.6 337.7,328.9 338.0,327.6 338.2,325.9 338.5,322.5 338.7,321.0 339.0,320.3 339.2,320.8 339.5,320.1 339.7,318.8 339.9,319.5 340.2,319.1 340.4,318.1 340.7,319.4 340.9,319.8 341.2,319.2 341.4,317.7 341.7,316.3 341.9,315.6 342.2,314.3 342.4,313.7 342.7,314.5 342.9,313.9 343.1,315.0 343.4,316.5 343.6,317.0 343.9,318.7 344.1,319.0 344.4,321.0 344.6,323.5 344.9,324.2 345.1,325.1 345.4,326.7 345.6,326.8 345.9,325.8 346.1,327.5 346.3,329.6 346.6,332.0 346.8,335.7 347.1,338.0 347.3,338.6 347.6,339.1 347.8,338.8 348.1,339.8 348.3,341.4 348.6,343.3 348.8,344.9 349.1,345.3 349.3,345.9 349.5,348.1 349.8,347.7 350.0,346.6 350.3,345.8 350.5,345.1 350.8,344.4 351.0,344.8 351.3,347.1 351.5,348.7 351.8,350.6 352.0,352.0 352.2,351.7 352.5,350.7 352.7,348.9 353.0,346.7 353.2,347.2 353.5,346.7 353.7,346.6 354.0,345.0 354.2,343.9 354.5,344.2 354.7,347.2 355.0,349.4 355.2,350.9 355.4,349.8 355.7,348.6 355.9,346.2 356.2,346.1 356.4,347.1 356.7,347.2 356.9,349.1 357.2,349.3 357.4,349.1 357.7,350.6 357.9,354.9 358.2,355.3 358.4,355.5 358.6,355.6 358.9,355.8 359.1,355.6 359.4,354.9 359.6,354.6 359.9,354.3 360.1,354.2 360.4,354.2 360.6,354.0 360.9,354.0 361.1,354.5 361.4,354.9 361.6,355.5 361.8,355.7 362.1,356.3 362.3,356.1 362.6,356.0 362.8,355.9 363.1,356.0 363.3,356.5 363.6,356.3 363.8,356.2 364.1,355.8 364.3,356.3 364.6,356.3 364.8,356.2 365.0,356.1 365.3,356.4 365.5,356.0 365.8,355.7 366.0,355.5 366.3,354.9 366.5,354.6 366.8,355.0 367.0,355.7 367.3,355.8 367.5,356.1 367.8,356.9 368.0,356.9 368.2,356.5 368.5,356.5 368.7,356.3 369.0,355.9 369.2,355.9 369.5,356.4 369.7,356.8 370.0,357.0 370.2,357.1 370.5,357.0 370.7,357.3 371.0,357.1 371.2,356.7 371.4,356.7 371.7,356.7 371.9,356.7 372.2,356.4 372.4,356.2 372.7,356.4 372.9,356.5 373.2,356.8 373.4,357.3 373.7,357.7 373.9,357.6 374.1,357.7 374.4,357.9 374.6,357.7 374.9,357.5 375.1,357.0 375.4,356.9 375.6,357.0 375.9,357.0 376.1,357.5 376.4,357.8 376.6,357.8 376.9,358.0 377.1,358.8 377.3,359.0 377.6,358.7 377.8,358.4 378.1,357.7 378.3,357.7 378.6,357.2 378.8,357.6 379.1,357.7 379.3,358.4 379.6,358.4 379.8,358.9 380.1,359.1 380.3,358.8 380.5,358.7 380.8,358.1 381.0,357.3 381.3,357.2 381.5,357.3 381.8,357.0 382.0,357.4 382.3,361.3 382.5,365.7 382.8,367.1 383.0,367.7 383.3,367.8 383.5,367.7 383.7,367.1 384.0,366.7 384.2,366.4 384.5,366.5 384.7,367.0 385.0,367.7 385.2,368.1 385.5,368.4 385.7,369.3 386.0,369.1 386.2,368.6 386.5,368.2 386.7,367.5 386.9,367.0 387.2,366.7 387.4,366.6 387.7,366.7 387.9,367.0 388.2,367.6 388.4,368.0 388.7,368.0 388.9,368.0 389.2,367.7 389.4,367.1 389.7,366.3 389.9,366.4 390.1,365.8 390.4,366.2 390.6,366.9 390.9,367.7 391.1,368.4 391.4,368.2 391.6,368.7 391.9,368.5 392.1,367.7 392.4,367.0 392.6,365.8 392.9,365.2 393.1,364.9 393.3,364.9 393.6,365.7 393.8,366.4 394.1,367.6 394.3,368.1 394.6,367.7 394.8,367.2 395.1,366.8 395.3,366.0 395.6,365.8 395.8,365.1 396.1,365.9 396.3,366.7 396.5,367.2 396.8,368.0 397.0,368.4 397.3,368.6 397.5,368.0 397.8,367.4 398.0,367.2 398.3,367.2 398.5,366.2 398.8,366.3 399.0,367.1 399.2,368.1 399.5,368.9 399.7,369.5 400.0,369.2 400.2,368.7 400.5,368.2 400.7,367.3 401.0,366.6 401.2,366.4 401.5,366.2 401.7,366.6 402.0,366.9 402.2,366.6 402.4,366.6 402.7,366.4 402.9,366.2 403.2,366.4 403.4,366.3 403.7,366.1 403.9,365.7 404.2,365.3 404.4,364.4 404.7,364.1 404.9,364.4 405.2,364.6 405.4,364.9 405.6,365.2 405.9,365.8 406.1,365.9 406.4,366.0 406.6,366.2 406.9,365.5 407.1,364.5 407.4,364.0 407.6,363.5 407.9,363.1 408.1,362.8 408.4,362.6 408.6,355.0 408.8,355.0 409.1,355.0 409.3,355.4 409.6,357.1 409.8,358.1 410.1,357.2 410.3,355.7 410.6,352.6 410.8,348.5 411.1,344.6 411.3,340.7 411.6,342.3 411.8,343.3 412.0,345.7 412.3,345.5 412.5,346.4 412.8,345.9 413.0,345.0 413.3,343.3 413.5,338.8 413.8,336.6 414.0,335.8 414.3,337.7 414.5,338.5 414.8,339.0 415.0,339.7 415.2,339.5 415.5,339.4 415.7,338.9 416.0,337.0 416.2,337.6 416.5,337.5 416.7,338.5 417.0,337.1 417.2,337.6 417.5,338.6 417.7,337.3 418.0,335.9 418.2,332.6 418.4,327.8 418.7,324.5 418.9,327.3 419.2,329.7 419.4,331.5 419.7,330.3 419.9,327.4 420.2,322.6 420.4,324.8 420.7,327.9 420.9,330.1 421.1,330.7 421.4,331.6 421.6,332.1 421.9,332.7 422.1,331.5 422.4,330.7 422.6,330.2 422.9,330.0 423.1,329.2 423.4,328.1 423.6,328.5 423.9,328.5 424.1,328.9 424.3,330.8 424.6,331.6 424.8,330.4 425.1,329.8 425.3,329.8 425.6,329.0 425.8,329.3 426.1,327.9 426.3,327.0 426.6,326.8 426.8,327.6 427.1,328.2 427.3,330.8 427.5,332.1 427.8,333.6 428.0,333.7 428.3,334.1 428.5,333.2 428.8,332.1 429.0,329.9 429.3,328.8 429.5,328.9 429.8,327.8 430.0,328.9 430.3,330.2 430.5,329.8 430.7,328.5 431.0,326.0 431.2,324.3 431.5,324.6 431.7,324.9 432.0,326.6 432.2,328.7 432.5,329.8 432.7,330.2 433.0,329.4 433.2,330.6 433.5,331.1 433.7,332.2 433.9,332.3 434.2,331.9 434.4,331.5 434.7,332.0 434.9,331.0 435.2,331.4 435.4,333.1 435.7,333.1 435.9,334.2 436.2,335.8 436.4,337.6 436.7,339.9 436.9,338.6 437.1,339.3 437.4,339.4 437.6,339.6 437.9,338.4 438.1,338.8 438.4,338.5 438.6,338.5 438.9,337.8 439.1,337.9 439.4,339.5 439.6,341.4 439.9,341.9 440.1,342.2 440.3,341.7 440.6,340.3 440.8,339.8 441.1,338.6 441.3,339.0 441.6,341.1 441.8,343.0 442.1,344.8 442.3,345.2 442.6,345.5 442.8,344.1 443.0,342.0 443.3,339.4 443.5,336.6 443.8,333.8 444.0,336.3 444.3,338.9 444.5,342.2 444.8,344.5 445.0,346.2 445.3,346.3 445.5,343.3 445.8,341.2 446.0,340.0 446.2,340.5 446.5,342.8 446.7,346.3 447.0,349.1 447.2,350.4 447.5,349.2 447.7,348.6 448.0,348.2 448.2,348.3 448.5,347.0 448.7,346.4 449.0,346.4 449.2,346.7 449.4,347.0 449.7,348.2 449.9,348.8 450.2,349.4 450.4,350.2 450.7,350.5 450.9,350.6 451.2,350.0 451.4,350.0 451.7,349.5 451.9,347.8 452.2,345.9 452.4,344.3 452.4,370.6 48.6,370.6"/>
<polygon fill="#fbc9a9" points="48.6,362.3 48.8,363.7 49.1,363.6 49.3,362.9 49.6,362.7 49.8,362.0 50.1,360.5 50.3,359.6 50.6,360.2 50.8,360.1 51.1,360.0 51.3,358.7 51.6,358.6 51.8,358.5 52.0,358.6 52.3,357.7 52.5,356.7 52.8,357.1 53.0,357.7 53.3,358.6 53.5,359.2 53.8,360.7 54.0,361.3 54.3,362.3 54.5,362.9 54.8,362.1 55.0,362.4 55.2,360.7 55.5,360.9 55.7,358.5 56.0,358.0 56.2,356.5 56.5,355.5 56.7,354.3 57.0,352.3 57.2,350.7 57.5,348.9 57.7,350.5 58.0,352.7 58.2,354.6 58.4,356.8 58.7,357.5 58.9,353.5 59.2,350.4 59.4,346.0 59.7,343.1 59.9,339.0 60.2,341.4 60.4,346.5 60.7,351.4 60.9,352.5 61.1,347.8 61.4,342.2 61.6,335.8 61.9,338.7 62.1,343.9 62.4,348.5 62.6,354.3 62.9,354.3 63.1,354.9 63.4,355.1 63.6,353.2 63.9,351.2 64.1,349.4 64.3,349.8 64.6,350.2 64.8,353.2 65.1,355.7 65.3,357.8 65.6,360.5 65.8,361.0 66.1,360.7 66.3,359.5 66.6,359.7 66.8,359.3 67.1,361.0 67.3,362.1 67.5,363.7 67.8,363.9 68.0,363.6 68.3,363.6 68.5,362.8 68.8,362.0 69.0,360.8 69.3,359.7 69.5,358.8 69.8,358.6 70.0,358.2 70.3,357.8 70.5,358.3 70.7,357.5 71.0,356.6 71.2,355.7 71.5,355.3 71.7,358.1 72.0,361.4 72.2,362.1 72.5,361.6 72.7,360.2 73.0,357.7 73.2,355.9 73.5,354.7 73.7,352.3 73.9,350.0 74.2,347.6 74.4,346.8 74.7,344.6 74.9,345.1 75.2,349.2 75.4,351.7 75.7,352.9 75.9,347.8 76.2,343.7 76.4,340.1 76.7,341.3 76.9,343.7 77.1,346.6 77.4,349.8 77.6,351.7 77.9,353.6 78.1,355.1 78.4,356.3 78.6,356.4 78.9,356.7 79.1,355.4 79.4,355.9 79.6,356.9 79.9,357.7 80.1,359.0 80.3,357.7 80.6,357.6 80.8,358.6 81.1,360.3 81.3,360.7 81.6,361.6 81.8,360.7 82.1,360.6 82.3,360.3 82.6,361.0 82.8,362.3 83.0,364.1 83.3,363.8 83.5,363.2 83.8,362.3 84.0,360.2 84.3,357.2 84.5,356.1 84.8,356.5 85.0,358.5 85.3,360.8 85.5,359.3 85.8,359.6 86.0,358.9 86.2,359.8 86.5,361.8 86.7,363.0 87.0,364.3 87.2,366.0 87.5,364.4 87.7,363.8 88.0,362.7 88.2,361.4 88.5,361.0 88.7,362.7 89.0,364.1 89.2,364.1 89.4,365.6 89.7,364.8 89.9,364.1 90.2,364.8 90.4,364.8 90.7,364.6 90.9,364.2 91.2,364.6 91.4,366.0 91.7,367.5 91.9,368.1 92.2,367.8 92.4,368.2 92.6,367.7 92.9,367.0 93.1,366.1 93.4,365.1 93.6,365.1 93.9,365.7 94.1,365.9 94.4,366.2 94.6,367.1 94.9,367.3 95.1,367.4 95.4,367.4 95.6,367.7 95.8,367.7 96.1,367.5 96.3,367.3 96.6,366.9 96.8,366.9 97.1,366.1 97.3,365.4 97.6,365.9 97.8,366.5 98.1,366.5 98.3,366.9 98.6,366.7 98.8,366.7 99.0,366.7 99.3,367.0 99.5,367.4 99.8,368.1 100.0,368.0 100.3,368.3 100.5,368.4 100.8,368.4 101.0,368.2 101.3,368.1 101.5,367.2 101.8,367.0 102.0,366.5 102.2,366.6 102.5,367.2 102.7,367.9 103.0,368.5 103.2,368.9 103.5,367.8 103.7,367.5 104.0,367.5 104.2,367.5 104.5,367.5 104.7,367.3 104.9,367.1 105.2,367.5 105.4,367.2 105.7,367.1 105.9,367.6 106.2,367.7 106.4,367.7 106.7,367.6 106.9,368.1 107.2,367.4 107.4,367.0 107.7,366.5 107.9,366.3 108.1,366.7 108.4,367.9 108.6,368.1 108.9,367.3 109.1,366.9 109.4,366.7 109.6,366.8 109.9,367.3 110.1,367.9 110.4,367.5 110.6,367.4 110.9,367.3 111.1,366.8 111.3,366.5 111.6,366.7 111.8,366.7 112.1,368.0 112.3,369.5 112.6,369.8 112.8,368.8 113.1,368.1 113.3,367.9 113.6,367.9 113.8,367.7 114.1,367.8 114.3,367.3 114.5,367.1 114.8,366.6 115.0,366.6 115.3,367.1 115.5,367.9 115.8,367.9 116.0,367.9 116.3,368.0 116.5,368.3 116.8,367.6 117.0,367.2 117.3,366.8 117.5,367.1 117.7,367.2 118.0,367.3 118.2,367.5 118.5,367.3 118.7,367.0 119.0,366.9 119.2,366.5 119.5,366.8 119.7,366.6 120.0,366.6 120.2,366.6 120.5,366.8 120.7,366.7 120.9,366.5 121.2,366.8 121.4,366.9 121.7,367.0 121.9,367.0 122.2,366.8 122.4,366.9 122.7,366.8 122.9,366.6 123.2,366.6 123.4,366.3 123.7,366.2 123.9,365.4 124.1,365.1 124.4,364.9 124.6,364.9 124.9,365.6 125.1,366.3 125.4,367.3 125.6,367.4 125.9,367.3 126.1,367.1 126.4,366.9 126.6,367.2 126.9,367.6 127.1,367.0 127.3,366.5 127.6,365.7 127.8,365.3 128.1,365.0 128.3,365.0 128.6,364.7 128.8,364.8 129.1,365.1 129.3,365.4 129.6,365.3 129.8,365.1 130.0,365.8 130.3,365.5 130.5,365.0 130.8,364.9 131.0,365.0 131.3,364.9 131.5,365.4 131.8,365.7 132.0,366.0 132.3,366.0 132.5,365.9 132.8,366.0 133.0,366.1 133.2,365.7 133.5,365.3 133.7,365.2 134.0,364.9 134.2,365.0 134.5,365.2 134.7,365.6 135.0,365.6 135.2,365.7 135.5,366.1 135.7,366.1 136.0,365.8 136.2,365.8 136.4,365.7 136.7,365.7 136.9,365.8 137.2,365.9 137.4,365.9 137.7,363.5 137.9,360.8 138.2,357.9 138.4,360.1 138.7,361.7 138.9,363.6 139.2,364.3 139.4,363.4 139.6,363.6 139.9,362.7 140.1,363.3 140.4,364.7 140.6,365.7 140.9,366.8 141.1,367.4 141.4,367.1 141.6,365.6 141.9,364.0 142.1,361.6 142.4,361.6 142.6,360.9 142.8,361.0 143.1,361.2 143.3,360.9 143.6,362.0 143.8,362.2 144.1,362.7 144.3,363.2 144.6,363.3 144.8,361.7 145.1,360.9 145.3,359.9 145.6,358.1 145.8,358.1 146.0,356.6 146.3,356.3 146.5,358.4 146.8,360.8 147.0,362.7 147.3,363.3 147.5,364.2 147.8,365.6 148.0,366.2 148.3,365.3 148.5,363.7 148.8,364.9 149.0,368.1 149.2,366.1 149.5,362.6 149.7,358.9 150.0,359.8 150.2,360.2 150.5,360.2 150.7,360.1 151.0,360.1 151.2,359.9 151.5,360.5 151.7,359.0 151.9,356.9 152.2,354.6 152.4,353.6 152.7,354.6 152.9,355.2 153.2,353.9 153.4,353.7 153.7,354.6 153.9,354.5 154.2,355.1 154.4,356.3 154.7,356.8 154.9,356.8 155.1,357.7 155.4,358.7 155.6,358.0 155.9,356.9 156.1,356.8 156.4,355.8 156.6,357.1 156.9,357.3 157.1,357.7 157.4,357.9 157.6,358.4 157.9,357.2 158.1,357.5 158.3,359.3 158.6,360.7 158.8,363.0 159.1,362.8 159.3,359.5 159.6,356.6 159.8,354.0 160.1,353.4 160.3,353.5 160.6,352.8 160.8,353.3 161.1,357.0 161.3,358.9 161.5,356.6 161.8,353.5 162.0,352.1 162.3,352.3 162.5,353.2 162.8,355.4 163.0,356.0 163.3,357.4 163.5,356.2 163.8,354.5 164.0,353.0 164.3,349.4 164.5,351.9 164.7,354.3 165.0,356.2 165.2,358.7 165.5,359.8 165.7,360.1 166.0,360.4 166.2,361.8 166.5,360.5 166.7,357.3 167.0,356.2 167.2,356.1 167.5,356.6 167.7,357.8 167.9,359.7 168.2,360.6 168.4,360.1 168.7,359.8 168.9,360.1 169.2,361.2 169.4,362.2 169.7,362.0 169.9,362.1 170.2,360.3 170.4,359.2 170.7,358.3 170.9,358.5 171.1,360.6 171.4,361.7 171.6,363.7 171.9,365.0 172.1,367.9 172.4,369.9 172.6,369.9 172.9,369.9 173.1,368.3 173.4,365.1 173.6,362.5 173.8,362.0 174.1,363.3 174.3,365.4 174.6,367.3 174.8,369.1 175.1,368.4 175.3,367.2 175.6,367.2 175.8,366.4 176.1,366.0 176.3,365.0 176.6,362.4 176.8,361.2 177.0,359.6 177.3,362.0 177.5,363.2 177.8,364.1 178.0,362.9 178.3,362.5 178.5,361.2 178.8,361.1 179.0,361.3 179.3,363.7 179.5,363.9 179.8,364.5 180.0,363.5 180.2,363.9 180.5,365.3 180.7,365.9 181.0,366.5 181.2,366.3 181.5,366.8 181.7,368.6 182.0,369.9 182.2,369.9 182.5,367.6 182.7,368.0 183.0,367.4 183.2,366.8 183.4,366.4 183.7,366.2 183.9,366.5 184.2,366.7 184.4,367.1 184.7,367.3 184.9,367.7 185.2,367.7 185.4,367.5 185.7,367.2 185.9,367.0 186.2,367.2 186.4,366.8 186.6,366.4 186.9,365.9 187.1,365.7 187.4,366.2 187.6,366.9 187.9,367.7 188.1,368.2 188.4,368.5 188.6,368.1 188.9,367.8 189.1,367.2 189.4,366.5 189.6,366.1 189.8,366.5 190.1,367.0 190.3,367.6 190.6,368.5 190.8,368.9 191.1,369.2 191.3,369.2 191.6,368.2 191.8,367.9 192.1,367.5 192.3,366.9 192.6,366.8 192.8,367.2 193.0,367.5 193.3,367.8 193.5,367.8 193.8,367.8 194.0,368.1 194.3,368.4 194.5,368.3 194.8,368.4 195.0,368.3 195.3,368.0 195.5,367.5 195.7,367.7 196.0,367.5 196.2,367.5 196.5,367.9 196.7,368.2 197.0,368.5 197.2,368.5 197.5,368.6 197.7,368.0 198.0,368.2 198.2,367.5 198.5,366.9 198.7,367.1 198.9,366.8 199.2,366.7 199.4,367.1 199.7,367.3 199.9,367.8 200.2,367.9 200.4,368.4 200.7,368.2 200.9,368.0 201.2,367.7 201.4,367.7 201.7,367.5 201.9,367.6 202.1,367.7 202.4,368.1 202.6,368.0 202.9,368.9 203.1,368.3 203.4,368.1 203.6,367.9 203.9,367.1 204.1,366.8 204.4,366.1 204.6,366.3 204.9,367.1 205.1,367.6 205.3,368.4 205.6,368.9 205.8,368.7 206.1,368.3 206.3,367.8 206.6,367.0 206.8,367.0 207.1,367.8 207.3,368.0 207.6,368.7 207.8,369.5 208.1,369.0 208.3,368.3 208.5,367.7 208.8,368.2 209.0,368.1 209.3,367.4 209.5,367.6 209.8,367.5 210.0,367.4 210.3,367.4 210.5,367.7 210.8,368.0 211.0,368.4 211.3,368.2 211.5,367.8 211.7,367.8 212.0,366.6 212.2,366.4 212.5,365.5 212.7,365.0 213.0,364.7 213.2,364.8 213.5,365.3 213.7,365.6 214.0,366.7 214.2,367.3 214.5,367.4 214.7,367.0 214.9,366.9 215.2,366.3 215.4,365.7 215.7,365.4 215.9,365.5 216.2,366.0 216.4,366.3 216.7,366.5 216.9,366.3 217.2,365.9 217.4,365.9 217.6,365.2 217.9,364.8 218.1,364.6 218.4,364.4 218.6,364.5 218.9,364.1 219.1,364.6 219.4,365.2 219.6,365.6 219.9,365.3 220.1,365.4 220.4,365.1 220.6,364.9 220.8,365.0 221.1,364.1 221.3,363.8 221.6,364.2 221.8,364.2 222.1,364.5 222.3,364.3 222.6,364.4 222.8,364.6 223.1,365.3 223.3,366.3 223.6,363.2 223.8,361.5 224.0,360.0 224.3,361.3 224.5,363.3 224.8,364.3 225.0,365.2 225.3,363.8 225.5,362.6 225.8,362.3 226.0,361.4 226.3,359.3 226.5,357.7 226.8,359.5 227.0,362.2 227.2,362.9 227.5,362.1 227.7,361.7 228.0,360.8 228.2,362.5 228.5,362.1 228.7,363.3 229.0,363.0 229.2,362.1 229.5,361.0 229.7,358.5 230.0,359.0 230.2,360.8 230.4,362.3 230.7,362.9 230.9,362.5 231.2,359.9 231.4,358.2 231.7,356.0 231.9,355.4 232.2,355.4 232.4,357.2 232.7,357.5 232.9,357.7 233.2,357.2 233.4,358.2 233.6,358.3 233.9,359.1 234.1,359.2 234.4,359.9 234.6,360.9 234.9,359.6 235.1,359.2 235.4,358.0 235.6,357.4 235.9,357.2 236.1,356.5 236.4,357.4 236.6,358.5 236.8,357.9 237.1,356.2 237.3,354.8 237.6,352.4 237.8,351.6 238.1,350.3 238.3,351.2 238.6,351.9 238.8,353.4 239.1,354.4 239.3,355.7 239.5,357.0 239.8,358.3 240.0,357.0 240.3,357.4 240.5,357.7 240.8,361.0 241.0,365.6 241.3,363.5 241.5,355.7 241.8,352.2 242.0,350.8 242.3,349.4 242.5,350.4 242.7,352.7 243.0,354.6 243.2,357.2 243.5,359.0 243.7,361.0 244.0,360.6 244.2,360.3 244.5,357.4 244.7,356.1 245.0,353.9 245.2,353.3 245.5,353.4 245.7,354.8 245.9,356.5 246.2,357.5 246.4,358.1 246.7,357.8 246.9,356.8 247.2,356.1 247.4,354.5 247.7,354.2 247.9,352.6 248.2,353.4 248.4,353.6 248.7,355.4 248.9,358.1 249.1,359.2 249.4,359.8 249.6,359.5 249.9,357.4 250.1,355.9 250.4,353.9 250.6,352.3 250.9,351.0 251.1,349.4 251.4,349.2 251.6,351.8 251.9,353.9 252.1,356.3 252.3,358.1 252.6,360.4 252.8,361.3 253.1,361.6 253.3,360.7 253.6,358.9 253.8,358.5 254.1,357.8 254.3,357.4 254.6,356.4 254.8,356.6 255.1,356.2 255.3,355.8 255.5,356.1 255.8,358.3 256.0,360.5 256.3,362.0 256.5,361.0 256.8,358.7 257.0,357.4 257.3,355.9 257.5,355.1 257.8,354.8 258.0,355.6 258.3,357.4 258.5,360.2 258.7,361.6 259.0,362.2 259.2,361.3 259.5,360.9 259.7,360.1 260.0,360.3 260.2,357.9 260.5,355.6 260.7,354.2 261.0,357.4 261.2,359.2 261.5,360.0 261.7,361.7 261.9,364.7 262.2,365.8 262.4,368.4 262.7,369.9 262.9,369.9 263.2,369.9 263.4,368.9 263.7,367.4 263.9,366.2 264.2,365.5 264.4,366.1 264.6,366.8 264.9,368.3 265.1,369.9 265.4,369.7 265.6,368.1 265.9,367.7 266.1,366.8 266.4,368.8 266.6,369.1 266.9,366.3 267.1,365.4 267.4,366.6 267.6,367.8 267.8,368.5 268.1,368.8 268.3,368.3 268.6,365.5 268.8,361.8 269.1,358.7 269.3,360.8 269.6,362.1 269.8,365.1 270.1,365.6 270.3,367.1 270.6,368.2 270.8,369.6 271.0,368.0 271.3,366.4 271.5,362.6 271.8,361.1 272.0,361.8 272.3,363.2 272.5,364.2 272.8,364.9 273.0,366.6 273.3,368.7 273.5,369.7 273.8,369.6 274.0,369.3 274.2,369.0 274.5,366.6 274.7,366.2 275.0,365.7 275.2,365.2 275.5,365.1 275.7,365.8 276.0,366.6 276.2,367.1 276.5,368.3 276.7,368.4 277.0,368.0 277.2,367.2 277.4,366.9 277.7,366.4 277.9,366.2 278.2,366.3 278.4,365.8 278.7,365.9 278.9,366.0 279.2,366.2 279.4,366.4 279.7,366.5 279.9,367.0 280.2,367.6 280.4,368.3 280.6,368.6 280.9,368.2 281.1,367.2 281.4,366.4 281.6,366.1 281.9,365.5 282.1,365.1 282.4,365.5 282.6,366.7 282.9,367.9 283.1,368.5 283.4,368.4 283.6,367.8 283.8,367.4 284.1,367.0 284.3,367.0 284.6,366.9 284.8,366.6 285.1,366.1 285.3,365.9 285.6,366.0 285.8,366.5 286.1,367.1 286.3,367.5 286.5,368.3 286.8,368.5 287.0,367.7 287.3,367.1 287.5,366.4 287.8,365.9 288.0,366.0 288.3,366.2 288.5,366.1 288.8,366.5 289.0,368.0 289.3,369.0 289.5,368.6 289.7,367.1 290.0,366.9 290.2,366.3 290.5,365.6 290.7,365.2 291.0,365.9 291.2,366.3 291.5,366.8 291.7,367.1 292.0,367.1 292.2,367.0 292.5,366.9 292.7,367.0 292.9,367.3 293.2,367.0 293.4,367.1 293.7,366.4 293.9,365.8 294.2,365.4 294.4,365.3 294.7,365.9 294.9,366.9 295.2,367.7 295.4,367.7 295.7,367.9 295.9,367.6 296.1,367.4 296.4,367.5 296.6,367.4 296.9,367.6 297.1,367.4 297.4,367.5 297.6,367.5 297.9,367.6 298.1,367.7 298.4,368.0 298.6,367.7 298.9,367.4 299.1,367.1 299.3,366.9 299.6,367.1 299.8,368.0 300.1,368.5 300.3,368.6 300.6,368.3 300.8,368.0 301.1,367.6 301.3,367.9 301.6,368.3 301.8,368.9 302.1,368.6 302.3,367.7 302.5,367.3 302.8,366.6 303.0,366.1 303.3,366.0 303.5,366.3 303.8,366.9 304.0,367.3 304.3,367.8 304.5,368.1 304.8,368.3 305.0,368.4 305.3,368.7 305.5,368.4 305.7,368.1 306.0,367.8 306.2,367.6 306.5,367.8 306.7,367.7 307.0,368.0 307.2,368.0 307.5,368.0 307.7,368.1 308.0,367.7 308.2,367.8 308.4,367.8 308.7,368.3 308.9,368.8 309.2,368.4 309.4,367.8 309.7,367.4 309.9,367.3 310.2,367.7 310.4,368.2 310.7,367.9 310.9,367.1 311.2,366.5 311.4,365.8 311.6,362.4 311.9,361.8 312.1,361.7 312.4,362.1 312.6,362.8 312.9,363.3 313.1,364.0 313.4,363.9 313.6,364.0 313.9,364.1 314.1,363.9 314.4,363.8 314.6,363.5 314.8,363.1 315.1,363.0 315.3,362.6 315.6,363.0 315.8,363.5 316.1,363.7 316.3,364.2 316.6,363.9 316.8,364.1 317.1,363.6 317.3,363.3 317.6,362.7 317.8,362.3 318.0,362.2 318.3,362.5 318.5,362.8 318.8,363.4 319.0,363.8 319.3,364.0 319.5,363.9 319.8,363.5 320.0,363.0 320.3,362.8 320.5,357.6 320.8,360.5 321.0,358.5 321.2,358.8 321.5,360.7 321.7,361.9 322.0,364.2 322.2,363.6 322.5,363.4 322.7,361.8 323.0,361.3 323.2,361.6 323.5,360.5 323.7,358.5 324.0,356.4 324.2,354.3 324.4,352.0 324.7,351.0 324.9,351.7 325.2,354.1 325.4,356.3 325.7,354.2 325.9,351.6 326.2,350.7 326.4,348.9 326.7,346.7 326.9,343.9 327.2,342.2 327.4,339.9 327.6,335.4 327.9,332.7 328.1,331.8 328.4,335.0 328.6,338.5 328.9,343.1 329.1,342.4 329.4,342.3 329.6,340.8 329.9,341.0 330.1,342.1 330.3,343.3 330.6,344.1 330.8,346.4 331.1,346.8 331.3,347.2 331.6,345.9 331.8,345.3 332.1,345.4 332.3,345.7 332.6,347.0 332.8,349.1 333.1,350.4 333.3,351.0 333.5,349.7 333.8,348.8 334.0,348.3 334.3,348.7 334.5,350.3 334.8,349.7 335.0,350.4 335.3,350.3 335.5,348.6 335.8,347.2 336.0,346.6 336.3,345.7 336.5,346.1 336.7,346.5 337.0,347.2 337.2,347.7 337.5,348.1 337.7,348.7 338.0,348.8 338.2,348.0 338.5,346.5 338.7,344.2 339.0,342.3 339.2,343.1 339.5,343.8 339.7,343.5 339.9,345.0 340.2,343.3 340.4,341.8 340.7,341.9 340.9,342.9 341.2,342.1 341.4,340.4 341.7,338.5 341.9,338.6 342.2,337.9 342.4,337.2 342.7,338.1 342.9,337.8 343.1,338.5 343.4,339.6 343.6,340.6 343.9,341.3 344.1,342.6 344.4,344.2 344.6,346.0 344.9,346.2 345.1,346.9 345.4,347.0 345.6,345.5 345.9,345.4 346.1,348.1 346.3,351.2 346.6,355.3 346.8,357.5 347.1,357.2 347.3,357.6 347.6,360.4 347.8,362.3 348.1,361.6 348.3,360.2 348.6,358.8 348.8,362.1 349.1,366.3 349.3,365.6 349.5,364.5 349.8,361.7 350.0,361.2 350.3,360.5 350.5,359.6 350.8,358.0 351.0,357.9 351.3,358.7 351.5,359.9 351.8,362.7 352.0,365.0 352.2,367.0 352.5,365.4 352.7,363.4 353.0,360.5 353.2,359.4 353.5,359.4 353.7,358.7 354.0,356.6 354.2,355.9 354.5,355.0 354.7,356.7 355.0,358.4 355.2,359.3 355.4,359.4 355.7,361.8 355.9,362.6 356.2,364.2 356.4,363.6 356.7,360.4 356.9,358.3 357.2,355.5 357.4,356.4 357.7,360.2 357.9,367.5 358.2,368.4 358.4,368.0 358.6,367.7 358.9,367.6 359.1,367.3 359.4,367.0 359.6,367.0 359.9,366.8 360.1,366.5 360.4,366.2 360.6,366.0 360.9,366.0 361.1,366.4 361.4,367.1 361.6,367.8 361.8,368.1 362.1,369.1 362.3,369.5 362.6,369.9 362.8,369.2 363.1,368.2 363.3,367.5 363.6,366.5 363.8,366.0 364.1,366.3 364.3,366.8 364.6,367.0 364.8,366.9 365.0,367.2 365.3,367.6 365.5,367.5 365.8,367.1 366.0,367.0 366.3,366.5 366.5,366.2 366.8,366.6 367.0,367.1 367.3,367.4 367.5,367.8 367.8,368.8 368.0,369.1 368.2,369.2 368.5,368.8 368.7,367.9 369.0,366.8 369.2,366.0 369.5,366.3 369.7,366.9 370.0,367.0 370.2,367.5 370.5,367.4 370.7,368.1 371.0,368.4 371.2,368.6 371.4,368.0 371.7,367.2 371.9,367.2 372.2,367.5 372.4,367.7 372.7,367.8 372.9,367.5 373.2,367.4 373.4,367.7 373.7,367.4 373.9,367.1 374.1,367.0 374.4,367.1 374.6,366.7 374.9,366.4 375.1,365.5 375.4,365.4 375.6,366.8 375.9,368.1 376.1,369.7 376.4,369.9 376.6,368.8 376.9,367.9 377.1,368.6 377.3,368.8 377.6,369.2 377.8,368.8 378.1,368.4 378.3,368.2 378.6,367.9 378.8,368.2 379.1,368.3 379.3,368.5 379.6,368.1 379.8,367.9 380.1,367.8 380.3,367.4 380.5,367.6 380.8,367.5 381.0,367.6 381.3,367.8 381.5,368.1 381.8,367.6 382.0,367.1 382.3,367.0 382.5,367.8 382.8,367.1 383.0,367.7 383.3,367.8 383.5,367.7 383.7,367.1 384.0,366.7 384.2,366.4 384.5,366.5 384.7,367.0 385.0,367.7 385.2,368.1 385.5,368.4 385.7,369.3 386.0,369.1 386.2,368.6 386.5,368.2 386.7,367.5 386.9,367.0 387.2,366.7 387.4,366.6 387.7,366.7 387.9,367.0 388.2,367.6 388.4,368.0 388.7,368.0 388.9,368.0 389.2,367.7 389.4,367.1 389.7,366.3 389.9,366.4 390.1,365.8 390.4,366.2 390.6,366.9 390.9,367.7 391.1,368.4 391.4,368.2 391.6,368.7 391.9,368.5 392.1,367.7 392.4,367.0 392.6,365.8 392.9,365.2 393.1,364.9 393.3,364.9 393.6,365.7 393.8,366.4 394.1,367.6 394.3,368.1 394.6,367.7 394.8,367.2 395.1,366.8 395.3,366.0 395.6,365.8 395.8,365.1 396.1,365.9 396.3,366.7 396.5,367.2 396.8,368.0 397.0,368.4 397.3,368.6 397.5,368.0 397.8,367.4 398.0,367.2 398.3,367.2 398.5,366.2 398.8,366.3 399.0,367.1 399.2,368.1 399.5,368.9 399.7,369.5 400.0,369.2 400.2,368.7 400.5,368.2 400.7,367.3 401.0,366.6 401.2,366.4 401.5,366.2 401.7,366.6 402.0,366.9 402.2,366.6 402.4,366.6 402.7,366.4 402.9,366.2 403.2,366.4 403.4,366.3 403.7,366.1 403.9,365.7 404.2,365.3 404.4,364.4 404.7,364.1 404.9,364.4 405.2,364.6 405.4,364.9 405.6,365.2 405.9,365.8 406.1,365.9 406.4,366.0 406.6,366.2 406.9,365.5 407.1,364.5 407.4,364.0 407.6,363.5 407.9,363.1 408.1,362.8 408.4,362.6 408.6,363.1 408.8,361.4 409.1,361.6 409.3,361.5 409.6,363.6 409.8,366.2 410.1,367.5 410.3,366.8 410.6,365.8 410.8,363.4 411.1,360.8 411.3,357.3 411.6,358.3 411.8,358.9 412.0,359.8 412.3,360.1 412.5,359.5 412.8,359.9 413.0,361.4 413.3,362.0 413.5,360.8 413.8,359.6 414.0,359.6 414.3,361.2 414.5,362.2 414.8,362.7 415.0,363.0 415.2,363.2 415.5,362.3 415.7,360.9 416.0,358.4 416.2,358.2 416.5,358.2 416.7,359.7 417.0,359.2 417.2,360.8 417.5,361.2 417.7,360.4 418.0,358.8 418.2,356.8 418.4,355.3 418.7,354.3 418.9,357.1 419.2,357.9 419.4,357.8 419.7,355.0 419.9,352.5 420.2,351.2 420.4,355.7 420.7,356.4 420.9,356.7 421.1,357.3 421.4,356.7 421.6,355.8 421.9,354.4 422.1,351.7 422.4,349.4 422.6,349.6 422.9,350.4 423.1,351.1 423.4,353.6 423.6,356.7 423.9,357.6 424.1,357.0 424.3,355.8 424.6,354.2 424.8,353.2 425.1,352.4 425.3,352.1 425.6,351.7 425.8,351.9 426.1,350.3 426.3,349.5 426.6,349.6 426.8,350.6 427.1,351.4 427.3,353.3 427.5,354.0 427.8,353.9 428.0,353.5 428.3,353.0 428.5,354.0 428.8,354.6 429.0,353.2 429.3,352.3 429.5,352.8 429.8,352.4 430.0,352.5 430.3,353.3 430.5,354.2 430.7,354.5 431.0,351.5 431.2,348.4 431.5,347.0 431.7,347.5 432.0,349.0 432.2,350.3 432.5,349.8 432.7,351.0 433.0,351.0 433.2,352.5 433.5,352.3 433.7,353.5 433.9,355.5 434.2,354.7 434.4,353.5 434.7,355.1 434.9,355.9 435.2,354.1 435.4,352.6 435.7,352.9 435.9,354.0 436.2,355.2 436.4,356.4 436.7,357.8 436.9,356.8 437.1,356.6 437.4,356.8 437.6,358.3 437.9,359.1 438.1,361.6 438.4,362.7 438.6,361.0 438.9,359.4 439.1,357.0 439.4,357.9 439.6,358.9 439.9,358.8 440.1,358.8 440.3,358.4 440.6,357.2 440.8,355.9 441.1,354.8 441.3,354.6 441.6,357.3 441.8,359.8 442.1,362.7 442.3,363.6 442.6,362.8 442.8,360.4 443.0,357.3 443.3,355.3 443.5,353.6 443.8,351.9 444.0,355.1 444.3,358.2 444.5,361.4 444.8,362.8 445.0,364.0 445.3,365.6 445.5,365.2 445.8,362.2 446.0,358.2 446.2,357.2 446.5,358.5 446.7,362.7 447.0,365.7 447.2,368.9 447.5,369.9 447.7,368.9 448.0,365.9 448.2,363.8 448.5,361.0 448.7,360.0 449.0,360.3 449.2,361.6 449.4,362.8 449.7,364.2 449.9,365.7 450.2,367.5 450.4,368.5 450.7,368.2 450.9,368.0 451.2,366.0 451.4,364.7 451.7,362.8 451.9,361.9 452.2,362.0 452.4,362.2 452.4,370.6 48.6,370.6"/>
</g>
<g class="ln">
<line x1="48.6" y1="0" x2="48.6" y2="180.4" />
<line x1="48.6" y1="191.4" x2="48.6" y2="376" />
<line x1="94.4" y1="0" x2="94.4" y2="180.4" />
<line x1="94.4" y1="191.4" x2="94.4" y2="376" />
<line x1="137.6" y1="0" x2="137.6" y2="180.4" />
<line x1="137.6" y1="191.4" x2="137.6" y2="376" />
<line x1="182.6" y1="0" x2="182.6" y2="180.4" />
<line x1="182.6" y1="191.4" x2="182.6" y2="376" />
<line x1="222.6" y1="0" x2="222.6" y2="180.4" />
<line x1="222.6" y1="191.4" x2="222.6" y2="376" />
<line x1="274.4" y1="0" x2="274.4" y2="180.4" />
<line x1="274.4" y1="191.4" x2="274.4" y2="376" />
<line x1="320.4" y1="0" x2="320.4" y2="180.4" />
<line x1="320.4" y1="191.4" x2="320.4" y2="376" />
<line x1="357.8" y1="0" x2="357.8" y2="180.4" />
<line x1="357.8" y1="191.4" x2="357.8" y2="376" />
<line x1="408.5" y1="0" x2="408.5" y2="180.4" />
<line x1="408.5" y1="191.4" x2="408.5" y2="376" />
<line x1="452.6" y1="0" x2="452.6" y2="180.4" />
<line x1="452.6" y1="191.4" x2="452.6" y2="376" />
<line x1="48.1" y1="0.4" x2="452.9" y2="0.4" stroke-width="0.9"/>
<line x1="48.1" y1="180.4" x2="452.9" y2="180.4" stroke-width="0.9"/>
<line x1="48.1" y1="191.4" x2="452.9" y2="191.4" stroke-width="0.9"/>
<line x1="48.1" y1="371" x2="452.9" y2="371" stroke-width="0.9"/>
<line x1="48.6" y1="180.4" x2="48.6" y2="185" stroke-width="0.9"/>
<line x1="94.4" y1="180.4" x2="94.4" y2="185" stroke-width="0.9"/>
<line x1="137.6" y1="180.4" x2="137.6" y2="185" stroke-width="0.9"/>
<line x1="182.6" y1="180.4" x2="182.6" y2="185" stroke-width="0.9"/>
<line x1="222.6" y1="180.4" x2="222.6" y2="185" stroke-width="0.9"/>
<line x1="274.4" y1="180.4" x2="274.4" y2="185" stroke-width="0.9"/>
<line x1="320.4" y1="180.4" x2="320.4" y2="185" stroke-width="0.9"/>
<line x1="357.8" y1="180.4" x2="357.8" y2="185" stroke-width="0.9"/>
<line x1="408.5" y1="180.4" x2="408.5" y2="185" stroke-width="0.9"/>
<line x1="452.6" y1="180.4" x2="452.6" y2="185" stroke-width="0.9"/>
<line x1="44.0" y1="180.0" x2="48.6" y2="180.0" stroke-width="0.9"/>
<line x1="44.0" y1="371.0" x2="48.6" y2="371.0" stroke-width="0.9"/>
<line x1="44.0" y1="147.8" x2="48.6" y2="147.8" stroke-width="0.9"/>
<line x1="44.0" y1="338.9" x2="48.6" y2="338.9" stroke-width="0.9"/>
<line x1="44.0" y1="115.7" x2="48.6" y2="115.7" stroke-width="0.9"/>
<line x1="44.0" y1="306.9" x2="48.6" y2="306.9" stroke-width="0.9"/>
<line x1="44.0" y1="83.5" x2="48.6" y2="83.5" stroke-width="0.9"/>
<line x1="44.0" y1="274.8" x2="48.6" y2="274.8" stroke-width="0.9"/>
<line x1="44.0" y1="51.4" x2="48.6" y2="51.4" stroke-width="0.9"/>
<line x1="44.0" y1="242.8" x2="48.6" y2="242.8" stroke-width="0.9"/>
<line x1="44.0" y1="19.2" x2="48.6" y2="19.2" stroke-width="0.9"/>
<line x1="44.0" y1="210.7" x2="48.6" y2="210.7" stroke-width="0.9"/>
</g>
<g>
<text x="41.3" y="183.7" text-anchor="end" font-size="11.6">0</text>
<text x="41.3" y="373.9" text-anchor="end" font-size="11.6">0</text>
<text x="41.3" y="151.7" text-anchor="end" font-size="11.6">1000</text>
<text x="41.3" y="342.0" text-anchor="end" font-size="11.6">1000</text>
<text x="41.3" y="119.7" text-anchor="end" font-size="11.6">2000</text>
<text x="41.3" y="310.1" text-anchor="end" font-size="11.6">2000</text>
<text x="41.3" y="87.7" text-anchor="end" font-size="11.6">3000</text>
<text x="41.3" y="278.1" text-anchor="end" font-size="11.6">3000</text>
<text x="41.3" y="55.7" text-anchor="end" font-size="11.6">4000</text>
<text x="41.3" y="246.2" text-anchor="end" font-size="11.6">4000</text>
<text x="41.3" y="23.7" text-anchor="end" font-size="11.6">5000</text>
<text x="41.3" y="214.3" text-anchor="end" font-size="11.6">5000</text>
<text transform="translate(43.8,382.7) rotate(45)" font-weight="bold" font-size="11.6" x="0" y="0">29/04/2000</text>
<text transform="translate(89.6,382.7) rotate(45)" font-weight="normal" font-size="11.6" x="0" y="0">31/10/2000</text>
<text transform="translate(132.8,382.7) rotate(45)" font-weight="bold" font-size="11.6" x="0" y="0">26/04/2001</text>
<text transform="translate(177.8,382.7) rotate(45)" font-weight="normal" font-size="11.6" x="0" y="0">26/10/2001</text>
<text transform="translate(217.8,382.7) rotate(45)" font-weight="bold" font-size="11.6" x="0" y="0">05/04/2002</text>
<text transform="translate(269.6,382.7) rotate(45)" font-weight="normal" font-size="11.6" x="0" y="0">01/11/2002</text>
<text transform="translate(315.6,382.7) rotate(45)" font-weight="bold" font-size="11.6" x="0" y="0">09/05/2003</text>
<text transform="translate(353.0,382.7) rotate(45)" font-weight="normal" font-size="11.6" x="0" y="0">07/10/2003</text>
<text transform="translate(403.7,382.7) rotate(45)" font-weight="bold" font-size="11.6" x="0" y="0">30/04/2004</text>
<text transform="translate(447.8,382.7) rotate(45)" font-weight="normal" font-size="11.6" x="0" y="0">26/10/2004</text>
<text transform="translate(10.9,90) rotate(-90)" text-anchor="middle" font-size="12.7">O input fluxes (mole)</text>
<text transform="translate(11.0,281) rotate(-90)" text-anchor="middle" font-size="12.7">O output fluxes (mole)</text>
<text x="468.7" y="11.8" font-size="11.3">(a)</text>
<text x="470.3" y="203.4" font-size="11.3">(b)</text>
<rect x="458.6" y="85.4" width="36.4" height="10.8" fill="#b7b7b7"/>
<text x="504.5" y="95.9" font-size="12.4">Air O uptake</text>
<rect x="458.6" y="101.4" width="36.4" height="10.8" fill="#3f9bff"/>
<text x="504.5" y="111.9" font-size="12.4">Air vapor</text>
<rect x="458.6" y="117.4" width="36.4" height="10.8" fill="#c0fb84"/>
<text x="504.5" y="127.9" font-size="12.4">Chemically bound O</text>
<rect x="458.6" y="133.4" width="36.4" height="10.8" fill="#0aa098"/>
<text x="504.5" y="143.9" font-size="12.4">Feed moisture</text>
<rect x="458.6" y="149.4" width="36.4" height="10.8" fill="#c4defa"/>
<text x="504.5" y="159.9" font-size="12.4">Drinking water</text>
<rect x="458.6" y="254.6" width="36.4" height="10.8" fill="#858585"/>
<text x="504.3" y="265.0" font-size="12.4">CO<tspan font-size='8.2' dy='3.2'>2</tspan><tspan dy='-3.2'> production</tspan></text>
<rect x="458.6" y="270.7" width="36.4" height="10.8" fill="#dcaa8c"/>
<text x="504.3" y="281.1" font-size="12.4">Fecal, urinary and sweat water</text>
<rect x="458.6" y="286.8" width="36.4" height="10.8" fill="#10b8b3"/>
<text x="504.3" y="297.2" font-size="12.4">Nasally exhaled water</text>
<rect x="458.6" y="302.9" width="36.4" height="10.8" fill="#c4fafa"/>
<text x="504.3" y="313.3" font-size="12.4">Orally exhaled water</text>
<rect x="458.6" y="319.0" width="36.4" height="10.8" fill="#80b7fa"/>
<text x="504.3" y="329.4" font-size="12.4">Milk water</text>
<rect x="458.6" y="335.1" width="36.4" height="10.8" fill="#fbc9a9"/>
<text x="504.3" y="345.5" font-size="12.4">Transcutaneous vapor</text>
<rect x="458.6" y="351.2" width="36.4" height="10.8" fill="#555555"/>
<text x="504.3" y="361.6" font-size="12.4">Urea O + organic products</text>
</g>
</svg>
</body></html>
